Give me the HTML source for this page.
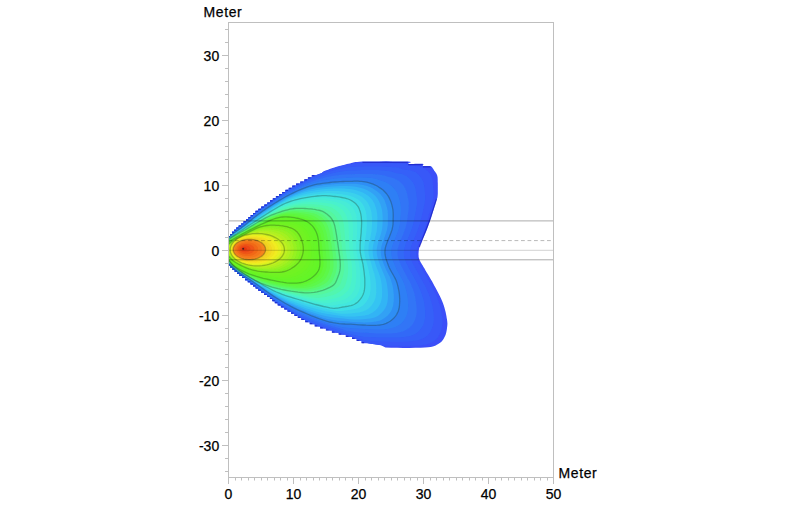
<!DOCTYPE html>
<html><head><meta charset="utf-8"><style>
html,body{margin:0;padding:0;background:#fff;width:800px;height:506px;overflow:hidden}
svg{display:block}
</style></head><body>
<svg width="800" height="506" viewBox="0 0 800 506">
<rect width="800" height="506" fill="#fff"/>
<defs><clipPath id="pc"><path d="M229.0 236.0 L229.0 236.0 L230.0 236.0 L230.0 233.9 L232.0 233.9 L232.0 231.8 L234.1 231.8 L234.1 229.7 L236.3 229.7 L236.3 227.6 L238.7 227.6 L238.7 225.5 L241.2 225.5 L241.2 223.4 L243.6 223.4 L243.6 221.3 L246.1 221.3 L246.1 219.2 L248.4 219.2 L248.4 217.1 L250.7 217.1 L250.7 215.0 L253.0 215.0 L253.0 212.9 L255.5 212.9 L255.5 210.8 L258.3 210.8 L258.3 208.7 L261.2 208.7 L261.2 206.6 L264.3 206.6 L264.3 204.5 L267.2 204.5 L267.2 202.4 L270.0 202.4 L270.0 200.3 L272.8 200.3 L272.8 198.2 L275.9 198.2 L275.9 196.1 L279.0 196.1 L279.0 194.0 L282.2 194.0 L282.2 191.9 L285.4 191.9 L285.4 189.8 L288.7 189.8 L288.7 187.7 L292.2 187.7 L292.2 185.6 L296.0 185.6 L296.0 183.5 L300.2 183.5 L300.2 181.4 L304.3 181.4 L304.3 179.3 L307.9 179.3 L307.9 177.2 L311.8 177.2 L311.8 175.1 L316.5 175.1 L321.8 173.0 L323.4 171.4 L325.0 170.8 L326.6 170.2 L328.1 169.7 L329.7 169.1 L331.2 168.6 L332.8 168.1 L334.4 167.6 L335.9 167.1 L337.5 166.6 L339.1 166.1 L340.6 165.7 L342.2 165.3 L343.8 164.9 L345.3 164.5 L346.9 164.1 L348.4 163.7 L350.0 163.4 L351.3 163.1 L352.4 162.8 L353.2 162.5 L354.2 162.3 L355.4 162.1 L357.1 161.9 L359.4 161.7 L362.5 161.6 L366.9 161.5 L372.6 161.4 L379.1 161.4 L385.9 161.3 L392.7 161.4 L398.9 161.4 L404.1 161.5 L407.8 161.6 L409.9 161.8 L410.7 162.0 L410.6 162.4 L409.9 162.7 L409.0 163.0 L408.2 163.4 L407.8 163.6 L408.2 163.8 L409.4 163.9 L411.1 163.9 L413.2 163.9 L415.3 163.8 L417.5 163.7 L419.6 163.7 L421.3 163.7 L422.5 163.8 L423.2 164.0 L423.4 164.2 L423.4 164.6 L423.2 164.9 L422.9 165.2 L422.7 165.5 L422.7 165.8 L423.0 166.0 L423.6 166.1 L424.5 166.1 L425.5 166.0 L426.6 165.9 L427.7 165.9 L428.8 165.9 L429.8 166.0 L430.6 166.2 L431.3 166.6 L431.9 167.1 L432.4 167.7 L432.9 168.4 L433.3 169.1 L433.7 169.7 L434.1 170.4 L434.5 171.0 L434.9 171.5 L435.3 172.0 L435.6 172.5 L436.0 173.0 L436.3 173.5 L436.5 173.9 L436.8 174.5 L437.0 175.0 L437.2 175.5 L437.3 175.9 L437.4 176.4 L437.5 176.8 L437.6 177.3 L437.6 178.0 L437.7 178.9 L437.7 180.0 L437.7 181.5 L437.8 183.3 L437.8 185.3 L437.8 187.5 L437.8 189.6 L437.8 191.7 L437.8 193.5 L437.7 195.0 L437.6 196.1 L437.5 196.9 L437.4 197.5 L437.3 198.0 L437.1 198.5 L436.9 199.0 L436.7 199.6 L436.4 200.5 L436.1 201.6 L435.7 202.9 L435.3 204.3 L434.8 205.8 L434.3 207.3 L433.9 208.7 L433.4 210.2 L433.0 211.5 L432.6 212.7 L432.2 213.9 L431.9 215.1 L431.5 216.2 L431.2 217.3 L430.8 218.5 L430.4 219.6 L430.0 220.8 L429.6 222.0 L429.1 223.3 L428.7 224.6 L428.2 225.9 L427.8 227.1 L427.3 228.4 L426.9 229.6 L426.4 230.8 L425.9 231.9 L425.5 233.0 L425.0 234.1 L424.6 235.1 L424.1 236.1 L423.7 237.1 L423.2 238.1 L422.8 239.1 L422.4 240.1 L422.0 241.0 L421.6 241.9 L421.2 242.8 L420.8 243.7 L420.4 244.6 L420.1 245.5 L419.8 246.3 L419.6 247.1 L419.3 247.8 L419.1 248.6 L419.0 249.3 L418.8 250.0 L418.7 250.7 L418.7 251.4 L418.6 252.2 L418.6 253.0 L418.5 253.8 L418.5 254.6 L418.6 255.5 L418.6 256.3 L418.7 257.2 L418.9 258.1 L419.2 259.0 L419.5 259.9 L419.9 260.7 L420.3 261.5 L420.8 262.4 L421.3 263.3 L422.0 264.4 L422.7 265.6 L423.5 267.0 L424.5 268.6 L425.5 270.5 L426.7 272.5 L428.0 274.6 L429.3 276.8 L430.6 279.1 L432.0 281.3 L433.2 283.6 L434.5 285.9 L435.8 288.3 L437.1 290.8 L438.4 293.3 L439.7 295.8 L440.9 298.3 L442.0 300.7 L442.9 303.0 L443.7 305.3 L444.4 307.5 L445.0 309.8 L445.6 312.0 L446.0 314.1 L446.4 316.1 L446.7 317.9 L447.0 319.6 L447.2 321.0 L447.3 322.3 L447.4 323.3 L447.4 324.3 L447.3 325.2 L447.3 326.1 L447.1 327.0 L447.0 328.0 L446.9 329.1 L446.7 330.2 L446.5 331.2 L446.3 332.3 L446.0 333.4 L445.7 334.5 L445.3 335.5 L444.8 336.5 L444.3 337.5 L443.8 338.4 L443.2 339.4 L442.6 340.3 L441.9 341.2 L441.1 342.0 L440.1 342.8 L439.0 343.5 L437.8 344.2 L436.8 344.8 L435.7 345.4 L434.4 346.0 L432.8 346.4 L430.8 346.9 L428.2 347.2 L425.0 347.5 L420.8 347.7 L415.5 347.8 L409.6 347.9 L403.3 347.9 L397.0 347.8 L390.9 347.7 L385.5 347.5 L381.0 345.3 L367.2 343.2 L361.5 343.2 L361.5 341.1 L356.6 341.1 L356.6 339.0 L352.0 339.0 L352.0 336.9 L345.8 336.9 L345.8 334.8 L338.7 334.8 L338.7 332.7 L331.9 332.7 L331.9 330.6 L325.9 330.6 L325.9 328.5 L320.1 328.5 L320.1 326.4 L314.7 326.4 L314.7 324.3 L309.7 324.3 L309.7 322.2 L305.2 322.2 L305.2 320.1 L301.3 320.1 L301.3 318.0 L297.8 318.0 L297.8 315.9 L294.4 315.9 L294.4 313.8 L291.0 313.8 L291.0 311.7 L287.5 311.7 L287.5 309.6 L284.2 309.6 L284.2 307.5 L280.9 307.5 L280.9 305.4 L277.7 305.4 L277.7 303.3 L274.8 303.3 L274.8 301.2 L272.3 301.2 L272.3 299.1 L269.9 299.1 L269.9 297.0 L267.2 297.0 L267.2 294.9 L264.1 294.9 L264.1 292.8 L261.1 292.8 L261.1 290.7 L258.2 290.7 L258.2 288.6 L255.6 288.6 L255.6 286.5 L253.0 286.5 L253.0 284.4 L250.5 284.4 L250.5 282.3 L247.8 282.3 L247.8 280.2 L245.0 280.2 L245.0 278.1 L242.1 278.1 L242.1 276.0 L239.5 276.0 L239.5 273.9 L237.0 273.9 L237.0 271.8 L234.7 271.8 L234.7 269.7 L232.4 269.7 L232.4 267.6 L230.1 267.6 L230.1 265.5 L229.0 265.5 L229.0 265.5Z"/></clipPath><filter id="bl" x="-5%" y="-5%" width="110%" height="110%"><feGaussianBlur stdDeviation="0.55"/></filter></defs>
<g filter="url(#bl)"><g clip-path="url(#pc)">
<path d="M186 248.7l0-1.2 0-1.2 0-1.2 0-1.2 0-1.2 0-1.2 0-1.2 .1-1.3 0-1.2 0-1.2 0-1.3 3.8-.3 4-.1 3.4-.1 3 0 2.7-.1 2.3-.1 2.1-.1 1.9-.1 1.7 0 1.6-.1 1.4-.1 1.4-.1 1.2 0 1.1-.1 1.1-.1 1 0 1-.1 .8-.1 .9-.1 .8 0 .7-.1 .8 0 .7-.1 .6-.1 .3-.4 .3-.3 .4-.4 .3-.3 .3-.4 .4-.3 .3-.4 .4-.3 .3-.3 .4-.4 .3-.3 .4-.4 .3-.3 .4-.4 .4-.3 .4-.4 .4-.3 .3-.4 .4-.3 .4-.4 .4-.3 .5-.4 .4-.3 .4-.4 .5-.3 .4-.4 .5-.3 .4-.4 .5-.4 .5-.3 .5-.4 .5-.4 .5-.4 .5-.3 .6-.4 .5-.4 .6-.5 .6-.4 .6-.4 .6-.5 .6-.4 .7-.5 .7-.5 .7-.6 .7-.5 .8-.6 .8-.7 .8-.6 .9-.8 .9-.7 1-.8 1-.9 1.1-.8 1.2-.9 1.2-1 1.2-.9 1.4-.9 1.3-.9 1.5-1 1.5-1 1.6-1 1.8-1.1 1.9-1.3 2.1-1.5 2.4-1.7 2.5-1.7 2.6-1.7 2.8-1.8 3.1-2 3.4-2.1 3.7-2.2 3.9-2.3 4-2.1 4.1-1.9 4.7-2.4 5.9-3.2 5.2-2.3 5.3-2 5.6-2 5.9-2 6.1-1.8 6.2-1.6 6.3-1.3 6.5-1.3 5.5-.2 5.7 0 5.9 0 6.3 0 6.6 .1 7.1 .1 7.5 .1 7.7 .4 4.6 2.2 9.1 .2 6 2 4.1 3 2.4 3.7 1.9 4.1 .3 4.5 .1 4.6 .1 4.6 -.1 4.5 -.8 4.7 -1.4 4.7 -1.4 4.6 -1.4 4.5 -1.4 4.4 -1.4 4.3 -1.4 4.3 -1.5 4.2 -1.6 4.1 -1.7 4 -1.7 3.9 -1.6 3.9 -1.2 3.8 -.5 3.8 0 3.7 .9 3.8 2 4 2.4 4.1 2.4 4.2 2.6 4.4 2.5 4.5 2.5 4.6 2.6 4.8 2.5 5 2.3 5 2 5.1 1.5 5.1 1.1 5.1 .9 5.1 .3 5 -.6 4.8 -1 4.6 -1.9 4.3 -2.8 3.9 -4.4 3 -5.9 2.1 -7.9 .8 -8.2 .3 -8 .2 -7.6 0 -7.2-.1 -7-.2 -7-.4 -7.8-1.5 -9.9-3.4 -10.5-4.5 -7.1-2.2 -6.2-1.7 -5.9-1.8 -5.7-1.9 -5.3-1.9 -5-1.8 -4.8-1.9 -4.7-2.1 -4.7-2.4 -4.7-2.7 -4.3-2.6 -3.9-2.3 -3.5-2.1 -3.3-2 -3.1-1.9 -2.8-1.8 -2.9-2.1 -2.9-2.5 -2.4-1.8 -2-1.4 -1.9-1.2 -1.7-1.1 -1.7-1.1 -1.5-1 -1.5-1 -1.4-1 -1.4-1 -1.2-.9 -1.2-1 -1.2-.8 -1.1-.8 -1-.8 -1-.7 -.9-.6 -.9-.6 -.8-.6 -.9-.6 -.8-.5 -.7-.5 -.8-.4 -.7-.5 -.7-.5 -.7-.4 -.7-.5 -.6-.4 -.6-.4 -.7-.4 -.6-.5 -.5-.4 -.6-.4 -.6-.4 -.5-.4 -.6-.5 -.5-.4 -.5-.4 -.5-.4 -.5-.4 -.5-.4 -.5-.4 -.5-.4 -.4-.3 -.5-.4 -.4-.4 -.5-.4 -.4-.4 -.4-.3 -.5-.4 -.4-.4 -.4-.4 -.4-.3 -.4-.4 -.5-.4 -.4-.3 -.4-.4 -.4-.4 -.5-.2 -.7 0 -.7-.1 -.8 0 -.7-.1 -.8-.1 -.8 0 -.9-.1 -.9-.1 -.9 0 -1-.1 -1.1 0 -1.1-.1 -1.1-.1 -1.2-.1 -1.4 0 -1.4-.1 -1.5-.1 -1.6 0 -1.7-.1 -1.9-.1 -2.1-.1 -2.3 0 -2.5-.1 -2.7-.1 -3.1-.1 -3.5-.1 -1.5-.8 -.1-1.3 0-1.2 0-1.3 0-1.3 0-1.2 0-1.2 -.1-1.3 0-1.2 0-1.2 0-1.2 0-1.2 0-1.2 0-1.2z" fill="#3a50f8"/>
<path d="M186.7 248.7l0-1.2 0-1.2 0-1.2 0-1.1 0-1.2 0-1.2 0-1.2 0-1.3 0-1.2 0-1.2 .6-1.1 3.9-.3 3.9 0 3.4-.1 3-.1 2.6 0 2.3-.1 2-.1 1.9 0 1.7-.1 1.5-.1 1.5 0 1.3-.1 1.2 0 1.1-.1 1.1-.1 .9 0 1-.1 .8 0 .9-.1 .7 0 .8-.1 .7-.1 .6-.1 .6-.1 .3-.3 .3-.4 .3-.3 .4-.3 .3-.3 .3-.4 .4-.3 .3-.3 .3-.4 .4-.3 .3-.3 .4-.3 .3-.4 .4-.3 .4-.3 .3-.3 .4-.4 .4-.3 .4-.3 .3-.4 .4-.3 .4-.3 .4-.4 .5-.3 .4-.3 .4-.4 .5-.3 .4-.3 .5-.4 .4-.3 .5-.4 .5-.3 .5-.4 .5-.4 .5-.3 .5-.4 .6-.4 .5-.4 .6-.5 .6-.4 .6-.4 .6-.5 .7-.5 .7-.5 .7-.6 .7-.5 .8-.6 .8-.7 .8-.7 .9-.7 .9-.8 1-.8 1.1-.8 1.1-.9 1.1-.9 1.3-.9 1.2-.9 1.4-.9 1.4-1 1.4-.9 1.6-1.1 1.7-1.1 1.9-1.2 2-1.5 2.3-1.5 2.3-1.7 2.6-1.6 2.7-1.8 3-1.9 3.3-2 3.5-2.1 3.8-2.3 3.9-2 3.9-1.9 4.6-2.2 5.5-3.1 5-2.2 5.1-1.9 5.4-1.9 5.6-1.8 5.7-1.7 5.9-1.4 5.9-1.2 6.2-1.1 5.3-.3 5.5-.1 5.7 0 6.1 0 6.4 0 6.8 .1 7 .2 7.1 .5 4.6 2 8.2 .5 5.5 2 3.8 2.9 2.5 3.5 1.9 3.8 .6 4.3 .3 4.3 .2 4.3 .1 4.3 -.6 4.4 -1.1 4.5 -1.2 4.4 -1.2 4.3 -1.1 4.2 -1.2 4.2 -1.3 4.1 -1.5 4 -1.5 3.9 -1.7 3.9 -1.6 3.8 -1.5 3.7 -1.1 3.7 -.5 3.6 0 3.7 .9 3.6 1.8 3.9 2.2 3.9 2.2 4.1 2.5 4.2 2.4 4.3 2.4 4.5 2.4 4.6 2.3 4.7 2.1 4.8 1.8 4.8 1.3 4.9 .9 4.8 .8 4.9 .2 4.8 -.6 4.6 -1.1 4.4 -1.9 4 -2.7 3.7 -4.3 2.9 -5.5 2.1 -7.3 .9 -7.8 .3 -7.7 .2 -7.3-.1 -7.1-.1 -6.7-.2 -6.6-.4 -7.4-1.3 -9-2.9 -9.6-3.9 -6.8-2 -6-1.8 -5.8-1.8 -5.6-1.9 -5.2-1.8 -4.9-1.9 -4.7-1.9 -4.5-2 -4.6-2.3 -4.5-2.6 -4.1-2.5 -3.8-2.2 -3.4-2 -3.2-1.9 -2.9-1.9 -2.8-1.8 -2.7-2 -2.8-2.3 -2.3-1.7 -2-1.4 -1.8-1.2 -1.7-1.1 -1.6-1 -1.5-1 -1.4-1 -1.4-1 -1.3-.9 -1.2-.9 -1.1-.9 -1.1-.8 -1.1-.8 -1-.7 -.9-.6 -.9-.7 -.9-.5 -.8-.6 -.8-.5 -.8-.5 -.7-.5 -.7-.5 -.7-.4 -.7-.5 -.7-.4 -.6-.4 -.6-.4 -.6-.4 -.6-.5 -.6-.4 -.6-.4 -.6-.4 -.5-.4 -.5-.4 -.6-.4 -.5-.4 -.5-.4 -.5-.3 -.4-.4 -.5-.4 -.5-.4 -.4-.4 -.5-.3 -.4-.4 -.5-.4 -.4-.4 -.4-.3 -.4-.4 -.4-.3 -.5-.4 -.4-.4 -.4-.3 -.4-.4 -.4-.3 -.4-.4 -.4-.3 -.3-.4 -.6-.2 -.6-.1 -.7-.1 -.7 0 -.7-.1 -.8 0 -.8-.1 -.8 0 -.9-.1 -.9 0 -1-.1 -1-.1 -1.1 0 -1.1-.1 -1.2 0 -1.3-.1 -1.4 0 -1.5-.1 -1.6-.1 -1.7 0 -1.9-.1 -2-.1 -2.2 0 -2.5-.1 -2.7-.1 -3.1 0 -3.4-.1 -1.9-.7 -.3-1.1 0-1.3 0-1.3 -.1-1.2 0-1.2 0-1.2 0-1.3 0-1.2 0-1.2 0-1.2 0-1.1 0-1.2 0-1.2z" fill="#3758f8"/>
<path d="M187.3 248.7l0-1.2 0-1.1 0-1.2 0-1.2 0-1.2 .1-1.2 0-1.1 0-1.2 0-1.2 0-1.3 1.1-.9 4-.2 3.8-.1 3.4 0 2.9-.1 2.6 0 2.2-.1 2.1 0 1.8-.1 1.7-.1 1.5 0 1.4-.1 1.3 0 1.2-.1 1.1 0 1 0 1-.1 .9 0 .8-.1 .8 0 .8-.1 .7 0 .7-.1 .5-.1 .6-.2 .3-.3 .3-.3 .3-.3 .3-.3 .4-.3 .3-.3 .3-.3 .3-.4 .4-.3 .3-.3 .3-.3 .4-.3 .3-.3 .4-.3 .3-.3 .4-.3 .3-.3 .4-.3 .4-.3 .4-.4 .3-.3 .4-.3 .4-.3 .4-.3 .4-.3 .4-.3 .5-.3 .4-.4 .4-.3 .5-.3 .4-.3 .5-.4 .4-.3 .5-.4 .5-.3 .5-.4 .6-.4 .5-.4 .5-.4 .6-.4 .6-.4 .6-.5 .6-.5 .7-.4 .6-.6 .7-.5 .8-.6 .7-.6 .8-.7 .9-.7 .9-.7 .9-.8 1-.8 1.1-.9 1.1-.8 1.2-.9 1.2-.9 1.3-.9 1.3-.9 1.5-1 1.5-1 1.7-1.1 1.8-1.3 1.9-1.3 2.2-1.5 2.2-1.6 2.5-1.6 2.6-1.6 2.9-1.9 3.1-1.9 3.4-2.1 3.6-2.1 3.8-2 3.8-1.8 4.4-2.2 5.2-2.8 4.8-2.1 5-1.9 5.1-1.8 5.3-1.7 5.3-1.4 5.5-1.3 5.6-1.1 5.8-1 5.2-.3 5.3-.1 5.5-.1 5.9 0 6.2 0 6.4 .1 6.7 .3 6.5 .5 4.5 1.9 7.2 .8 5.1 1.9 3.6 2.8 2.5 3.3 2 3.5 .8 4 .5 4.1 .4 4 .2 4.1 -.4 4.2 -.8 4.2 -1 4.2 -.9 4.1 -.9 4 -1.1 4 -1.2 3.9 -1.4 3.9 -1.5 3.8 -1.6 3.7 -1.5 3.7 -1.4 3.6 -1 3.5 -.5 3.5 .1 3.5 .8 3.5 1.7 3.7 1.9 3.8 2.1 3.9 2.2 4 2.4 4.2 2.3 4.3 2.3 4.4 2 4.5 1.9 4.6 1.5 4.6 1.2 4.6 .8 4.6 .5 4.7 .1 4.5 -.6 4.3 -1.1 4.2 -1.9 3.8 -2.7 3.5 -4 2.8 -5.2 2.1 -6.8 .9 -7.3 .5 -7.3 .1 -7.2-.1 -6.8-.2 -6.5-.2 -6.3-.4 -6.8-1.1 -8.2-2.4 -8.7-3.3 -6.5-1.9 -5.9-1.7 -5.6-1.8 -5.5-1.9 -5.1-1.9 -4.8-1.8 -4.5-1.9 -4.4-2 -4.4-2.3 -4.3-2.4 -4-2.3 -3.6-2.2 -3.3-1.9 -3.1-1.9 -2.9-1.8 -2.6-1.8 -2.6-1.8 -2.6-2.1 -2.3-1.7 -1.9-1.4 -1.8-1.1 -1.6-1.1 -1.5-1 -1.5-1 -1.4-1 -1.3-.9 -1.2-.9 -1.2-.9 -1.1-.8 -1.1-.8 -1-.7 -.9-.7 -.9-.6 -.9-.6 -.8-.6 -.8-.5 -.8-.5 -.8-.5 -.7-.4 -.7-.5 -.6-.4 -.7-.4 -.6-.5 -.7-.4 -.6-.4 -.6-.4 -.5-.4 -.6-.4 -.6-.3 -.5-.4 -.5-.4 -.5-.4 -.5-.4 -.5-.4 -.5-.3 -.5-.4 -.5-.4 -.4-.4 -.5-.3 -.4-.4 -.4-.4 -.5-.3 -.4-.4 -.4-.3 -.4-.4 -.4-.3 -.4-.4 -.4-.3 -.4-.4 -.4-.3 -.4-.4 -.4-.3 -.4-.4 -.3-.3 -.4-.3 -.5-.3 -.6-.1 -.6-.1 -.7 0 -.7-.1 -.8 0 -.8 0 -.8-.1 -.8 0 -.9-.1 -1 0 -1-.1 -1 0 -1.2-.1 -1.1 0 -1.3-.1 -1.4 0 -1.4 0 -1.6-.1 -1.7 0 -1.8-.1 -2 0 -2.2-.1 -2.4-.1 -2.7 0 -3-.1 -3.4 0 -2.2-.6 -.7-1 0-1.3 0-1.2 0-1.2 0-1.3 0-1.2 0-1.2 0-1.1 -.1-1.2 0-1.2 0-1.2 0-1.2 0-1.1z" fill="#3460f8"/>
<path d="M188 248.7l0-1.2 0-1.1 0-1.2 0-1.1 0-1.2 0-1.2 0-1.1 0-1.2 0-1.2 0-1.2 1.7-.8 4-.2 3.9 0 3.3-.1 2.9 0 2.5-.1 2.2 0 2 0 1.8-.1 1.7 0 1.5-.1 1.3 0 1.3 0 1.2-.1 1 0 1 0 1-.1 .9 0 .8 0 .8-.1 .7 0 .7 0 .7-.1 .5-.1 .5-.2 .3-.3 .3-.3 .3-.3 .3-.3 .3-.3 .3-.3 .4-.3 .3-.3 .3-.3 .3-.3 .4-.2 .3-.3 .3-.3 .4-.3 .3-.3 .3-.3 .4-.3 .3-.3 .4-.2 .4-.3 .3-.3 .4-.3 .4-.3 .4-.3 .3-.3 .4-.3 .4-.3 .5-.3 .4-.3 .4-.3 .4-.3 .5-.3 .4-.4 .5-.3 .5-.3 .4-.4 .5-.4 .5-.3 .6-.4 .5-.4 .6-.4 .5-.5 .6-.4 .6-.5 .7-.5 .7-.5 .7-.6 .7-.6 .8-.6 .8-.7 .8-.7 .9-.7 1-.8 1-.8 1.1-.8 1.1-.9 1.2-.9 1.2-.9 1.3-.9 1.4-1 1.5-1 1.6-1.1 1.7-1.2 1.9-1.3 2.1-1.4 2.1-1.5 2.4-1.5 2.5-1.6 2.7-1.7 3-1.9 3.3-2 3.5-2 3.6-2 3.7-1.8 4.2-2.1 4.9-2.5 4.6-2.1 4.8-1.8 4.9-1.7 4.9-1.5 5.1-1.3 5.1-1.1 5.2-1 5.4-.9 5.1-.3 5.1-.2 5.4-.1 5.6 0 5.9 0 6.2 0 6.2 .4 6 .7 4.3 1.7 6.4 1 4.6 2 3.4 2.6 2.6 3 2 3.3 1 3.7 .7 3.8 .5 3.8 .4 3.9 -.1 3.9 -.6 4 -.7 4 -.8 3.9 -.7 3.8 -.8 3.8 -1.1 3.8 -1.3 3.7 -1.5 3.6 -1.5 3.6 -1.5 3.6 -1.3 3.4 -.9 3.4 -.4 3.4 .1 3.3 .7 3.5 1.5 3.5 1.7 3.6 1.9 3.7 2.1 3.9 2.3 4 2.2 4.1 2.1 4.2 1.9 4.3 1.6 4.4 1.3 4.4 1 4.3 .6 4.4 .4 4.4 0 4.3 -.7 4.1 -1.1 3.9 -2 3.7 -2.6 3.2 -3.7 2.7 -4.8 2 -6.3 1.1 -6.9 .5 -7 0 -6.9-.1 -6.7-.2 -6.2-.3 -6-.3 -6.3-.9 -7.3-1.9 -7.8-2.7 -6.1-1.7 -5.8-1.7 -5.5-1.9 -5.4-1.9 -5-1.8 -4.7-1.9 -4.4-1.9 -4.3-1.9 -4.2-2.2 -4.1-2.3 -3.8-2.2 -3.5-2 -3.2-2 -2.9-1.8 -2.8-1.7 -2.6-1.7 -2.5-1.8 -2.4-1.9 -2.1-1.6 -1.9-1.3 -1.7-1.2 -1.6-1.1 -1.5-1 -1.4-.9 -1.4-1 -1.2-.9 -1.2-.8 -1.2-.8 -1-.8 -1-.7 -1-.7 -.9-.7 -.9-.6 -.8-.5 -.8-.6 -.8-.5 -.7-.5 -.7-.4 -.7-.5 -.7-.4 -.7-.4 -.6-.4 -.6-.4 -.6-.4 -.6-.4 -.6-.4 -.5-.4 -.6-.3 -.5-.4 -.5-.4 -.5-.4 -.5-.3 -.5-.4 -.5-.4 -.5-.3 -.4-.4 -.5-.3 -.4-.4 -.5-.4 -.4-.3 -.4-.4 -.4-.3 -.4-.3 -.4-.4 -.4-.3 -.4-.4 -.4-.3 -.4-.3 -.4-.4 -.3-.3 -.4-.4 -.4-.3 -.4-.3 -.3-.3 -.4-.4 -.4-.2 -.5-.2 -.6-.1 -.7 0 -.7-.1 -.8 0 -.7 0 -.8 0 -.9-.1 -.8 0 -1 0 -.9-.1 -1.1 0 -1.1 0 -1.1-.1 -1.3 0 -1.3-.1 -1.4 0 -1.6 0 -1.6-.1 -1.8 0 -2 0 -2.2-.1 -2.3 0 -2.7-.1 -3 0 -3.3 0 -2.6-.4 -.9-1 0-1.2 0-1.3 -.1-1.2 0-1.2 0-1.2 0-1.2 0-1.1 0-1.2 0-1.2 0-1.1 0-1.2 0-1.1z" fill="#3269f7"/>
<path d="M188.7 248.7l0-1.1 0-1.2 0-1.1 0-1.2 0-1.1 0-1.2 0-1.2 0-1.1 0-1.2 0-1.2 2.2-.7 4.1-.1 3.8 0 3.3 0 2.8 0 2.5-.1 2.2 0 2 0 1.7-.1 1.7 0 1.4 0 1.4 0 1.2-.1 1.1 0 1.1 0 1 0 .9 0 .9-.1 .8 0 .8 0 .7 0 .7-.1 .6 0 .4-.2 .4-.2 .4-.3 .3-.2 .3-.3 .3-.3 .3-.3 .3-.3 .3-.2 .3-.3 .3-.3 .3-.2 .4-.3 .3-.3 .3-.3 .3-.2 .4-.3 .3-.3 .3-.2 .4-.3 .3-.3 .4-.2 .3-.3 .4-.3 .3-.2 .4-.3 .4-.3 .4-.3 .3-.2 .4-.3 .4-.3 .4-.3 .4-.3 .5-.3 .4-.3 .4-.3 .5-.3 .4-.4 .5-.3 .5-.4 .5-.3 .5-.4 .5-.4 .6-.4 .5-.5 .6-.4 .6-.5 .7-.5 .6-.6 .7-.5 .8-.6 .7-.7 .9-.6 .8-.7 .9-.8 1-.8 1-.8 1.1-.8 1.1-.9 1.2-.9 1.3-.9 1.4-1 1.4-1 1.5-1 1.7-1.2 1.8-1.3 1.9-1.3 2.1-1.4 2.3-1.5 2.4-1.5 2.6-1.6 2.9-1.8 3.1-1.9 3.3-2 3.5-1.9 3.7-1.8 3.9-1.9 4.6-2.3 4.4-2 4.6-1.8 4.7-1.6 4.6-1.4 4.7-1.1 4.8-1 4.8-.8 5.1-.7 4.8-.4 5-.2 5.2-.2 5.4-.1 5.7 0 5.9 .1 5.7 .4 5.5 .8 4.2 1.6 5.4 1.2 4.1 2 3.3 2.4 2.6 2.9 2 3.1 1.2 3.4 .9 3.5 .8 3.6 .5 3.6 .1 3.7 -.3 3.7 -.5 3.7 -.5 3.7 -.5 3.7 -.7 3.6 -1 3.6 -1.2 3.6 -1.4 3.5 -1.5 3.5 -1.4 3.3 -1.2 3.3 -.8 3.3 -.4 3.2 .1 3.3 .7 3.3 1.3 3.3 1.6 3.5 1.6 3.6 2 3.7 2.1 3.8 2.2 4 2 4 1.6 4.1 1.4 4.1 1.1 4.1 .7 4.2 .5 4.1 .3 4.1 -.1 4.1 -.7 3.9 -1.3 3.7 -1.9 3.4 -2.6 3.1 -3.5 2.5 -4.4 2 -5.7 1.2 -6.5 .5 -6.7 0 -6.7-.1 -6.4-.3 -6-.3 -5.7-.3 -5.8-.7 -6.4-1.4 -6.8-2.1 -5.9-1.6 -5.6-1.7 -5.5-1.8 -5.2-1.9 -4.9-1.9 -4.5-1.9 -4.4-1.8 -4.1-1.9 -4.1-2.1 -3.9-2.2 -3.6-2.1 -3.4-1.9 -3-1.9 -2.9-1.8 -2.6-1.6 -2.5-1.7 -2.4-1.7 -2.3-1.7 -2-1.5 -1.9-1.3 -1.6-1.1 -1.6-1.1 -1.4-1 -1.4-1 -1.3-.9 -1.2-.8 -1.1-.8 -1.1-.8 -1-.7 -1-.7 -.9-.7 -.9-.6 -.8-.5 -.8-.6 -.8-.5 -.7-.5 -.8-.4 -.6-.5 -.7-.4 -.7-.4 -.6-.4 -.6-.4 -.6-.4 -.6-.4 -.5-.4 -.6-.3 -.5-.4 -.6-.3 -.5-.4 -.5-.4 -.5-.3 -.4-.4 -.5-.3 -.5-.4 -.4-.3 -.5-.4 -.4-.3 -.4-.3 -.4-.4 -.5-.3 -.4-.4 -.4-.3 -.4-.3 -.3-.4 -.4-.3 -.4-.3 -.4-.3 -.3-.4 -.4-.3 -.4-.3 -.3-.3 -.4-.4 -.4-.3 -.3-.3 -.4-.3 -.4-.3 -.4-.2 -.6-.1 -.6 0 -.7 0 -.7-.1 -.8 0 -.8 0 -.8 0 -.8 0 -1-.1 -.9 0 -1 0 -1.1 0 -1.1-.1 -1.2 0 -1.4 0 -1.4 0 -1.5 0 -1.6-.1 -1.8 0 -1.9 0 -2.1 0 -2.4-.1 -2.6 0 -2.9 0 -3.3-.1 -2.9-.2 -1.3-.9 0-1.2 0-1.2 0-1.2 0-1.2 0-1.2 0-1.1 0-1.2 0-1.2 0-1.1 0-1.2 0-1.1 0-1.2z" fill="#3074f6"/>
<path d="M189.3 248.7l0-1.1 0-1.2 0-1.1 0-1.1 0-1.2 0-1.1 0-1.2 0-1.1 0-1.2 0-1.1 2.8-.6 4.2 0 3.8 0 3.2-.1 2.7 0 2.5 0 2.2 0 1.9 0 1.8 0 1.5 0 1.5-.1 1.3 0 1.2 0 1.1 0 1.1 0 .9 0 .9 0 .9 0 .8 0 .7-.1 .7 0 .7 0 .6 0 .4-.2 .3-.3 .3-.2 .3-.3 .3-.2 .3-.3 .3-.3 .3-.2 .3-.3 .4-.2 .3-.3 .3-.2 .3-.3 .3-.2 .3-.3 .3-.2 .3-.3 .4-.2 .3-.3 .3-.2 .3-.3 .4-.2 .3-.3 .4-.2 .3-.3 .4-.2 .3-.3 .4-.2 .3-.3 .4-.2 .4-.3 .4-.3 .4-.3 .4-.2 .4-.3 .4-.3 .4-.3 .4-.4 .5-.3 .4-.3 .5-.4 .5-.3 .5-.4 .5-.4 .6-.4 .5-.5 .6-.4 .6-.5 .6-.5 .7-.6 .7-.5 .7-.6 .8-.7 .8-.7 .9-.7 .9-.7 1-.8 1-.8 1.1-.9 1.1-.9 1.3-.9 1.3-1 1.4-1 1.5-1 1.6-1.1 1.7-1.2 1.8-1.3 2-1.3 2.2-1.4 2.3-1.5 2.5-1.5 2.7-1.7 3-1.8 3.2-1.9 3.4-1.8 3.5-1.8 3.7-1.9 4.3-2.1 4.2-1.8 4.4-1.8 4.5-1.5 4.3-1.2 4.4-1 4.3-.8 4.5-.7 4.7-.6 4.7-.4 4.8-.3 5-.2 5.2-.1 5.4 0 5.6 .1 5.3 .4 5 .9 4.1 1.5 4.5 1.4 3.6 2 3.1 2.3 2.6 2.7 2.1 2.8 1.4 3.1 1.1 3.3 .9 3.3 .7 3.4 .3 3.4 0 3.5 -.3 3.5 -.3 3.5 -.2 3.5 -.6 3.4 -.8 3.5 -1.2 3.4 -1.4 3.4 -1.4 3.3 -1.2 3.2 -1.2 3.2 -.8 3.1 -.3 3.1 .2 3.1 .6 3.2 1.1 3.2 1.4 3.3 1.4 3.4 1.8 3.5 2.1 3.7 2.1 3.8 1.8 3.8 1.4 3.9 1.1 3.9 .9 3.9 .6 3.9 .3 3.9 .1 3.8 -.2 3.9 -.7 3.6 -1.3 3.5 -1.9 3.2 -2.5 2.9 -3.3 2.4 -4.1 2 -5.2 1.2 -5.9 .6 -6.5 0 -6.4-.2 -6.2-.3 -5.8-.4 -5.4-.2 -5.2-.5 -5.7-.9 -5.8-1.5 -5.6-1.4 -5.5-1.7 -5.3-1.8 -5.1-1.9 -4.7-1.9 -4.5-1.9 -4.3-1.9 -4-1.8 -3.8-2 -3.7-2 -3.5-2 -3.2-1.9 -3-1.8 -2.7-1.7 -2.6-1.7 -2.4-1.6 -2.3-1.5 -2.1-1.6 -1.9-1.4 -1.8-1.3 -1.6-1.1 -1.5-1.1 -1.4-1 -1.3-.9 -1.3-.9 -1.1-.8 -1.1-.7 -1-.8 -1-.7 -.9-.6 -.9-.6 -.9-.6 -.8-.5 -.7-.5 -.8-.5 -.7-.5 -.7-.4 -.6-.4 -.7-.4 -.6-.4 -.6-.4 -.6-.4 -.6-.4 -.5-.3 -.6-.4 -.5-.3 -.5-.4 -.5-.3 -.5-.4 -.5-.3 -.5-.4 -.4-.3 -.5-.3 -.4-.4 -.5-.3 -.4-.3 -.4-.4 -.4-.3 -.4-.3 -.4-.3 -.4-.4 -.4-.3 -.4-.3 -.4-.3 -.3-.3 -.4-.4 -.4-.3 -.3-.3 -.4-.3 -.3-.3 -.4-.3 -.3-.3 -.3-.3 -.4-.4 -.3-.3 -.4-.2 -.4-.3 -.5-.1 -.7 0 -.6 0 -.7 0 -.8 0 -.7 0 -.8-.1 -.9 0 -.8 0 -1 0 -1 0 -1 0 -1.1 0 -1.2 0 -1.3 0 -1.4-.1 -1.5 0 -1.6 0 -1.7 0 -1.9 0 -2.1 0 -2.3 0 -2.6-.1 -2.9 0 -3.2 0 -3.3-.1 -1.5-.8 0-1.2 0-1.2 -.1-1.2 0-1.1 0-1.2 0-1.1 0-1.2 0-1.1 0-1.2 0-1.1 0-1.1 0-1.2z" fill="#2f7ff5"/>
<path d="M190 248.7l0-1.1 0-1.1 0-1.1 0-1.2 0-1.1 0-1.1 0-1.2 0-1.1 0-1.1 0-1.2 3.3-.4 4.3 0 3.7 0 3.1 0 2.8 0 2.4 0 2.1 0 1.9 0 1.8 0 1.5 0 1.4 0 1.3 0 1.2 0 1.1 0 1 0 1 0 .9 0 .8 0 .8 0 .7 0 .7 0 .6 0 .6 0 .3-.3 .3-.2 .3-.3 .3-.2 .3-.3 .3-.2 .3-.2 .3-.3 .3-.2 .3-.2 .3-.3 .3-.2 .3-.2 .3-.3 .3-.2 .3-.2 .3-.3 .3-.2 .3-.2 .3-.2 .4-.3 .3-.2 .3-.2 .3-.3 .4-.2 .3-.2 .3-.2 .4-.3 .3-.2 .4-.3 .3-.2 .4-.3 .4-.2 .4-.3 .3-.3 .4-.3 .4-.2 .4-.3 .5-.3 .4-.4 .4-.3 .5-.3 .5-.4 .5-.4 .5-.4 .5-.4 .5-.4 .6-.5 .6-.5 .6-.5 .7-.6 .7-.5 .7-.6 .8-.7 .8-.7 .9-.7 .9-.7 1-.8 1.1-.9 1.1-.9 1.2-.9 1.2-.9 1.4-1 1.4-1.1 1.5-1 1.7-1.2 1.7-1.2 1.9-1.2 2.1-1.4 2.2-1.4 2.4-1.4 2.6-1.7 2.8-1.7 3.1-1.8 3.2-1.7 3.4-1.8 3.6-1.7 3.9-1.9 4-1.8 4.3-1.7 4.2-1.4 4-1 4-.9 4-.6 4.1-.5 4.4-.6 4.5-.4 4.6-.3 4.8-.2 5-.2 5.2-.1 5.3 .1 4.9 .6 4.4 1 4 1.3 3.5 1.7 3.2 1.9 2.9 2.2 2.6 2.4 2.1 2.6 1.7 2.9 1.3 2.9 1.1 3.1 .8 3.1 .5 3.3 .3 3.2 0 3.3 -.1 3.3 -.1 3.3 -.3 3.2 -.8 3.3 -1.1 3.3 -1.3 3.2 -1.3 3.2 -1.2 3.1 -1.1 3 -.7 3 -.3 3 .2 2.9 .6 3.1 .9 3 1.2 3.2 1.2 3.2 1.7 3.4 2 3.5 2 3.6 1.7 3.7 1.1 3.6 .9 3.7 .7 3.6 .4 3.7 .2 3.6 -.1 3.7 -.3 3.5 -.8 3.5 -1.3 3.2 -1.9 3 -2.5 2.7 -3.1 2.3 -3.7 2 -4.6 1.3 -5.5 .6 -6.2 0 -6.2-.3 -6-.3 -5.5-.4 -5.1-.2 -4.7-.3 -4.8-.4 -4.9-.8 -5.3-1.4 -5.3-1.6 -5.2-1.9 -5-1.9 -4.6-1.9 -4.4-1.9 -4.1-1.8 -3.9-1.9 -3.7-1.8 -3.5-1.9 -3.3-1.9 -3.1-1.8 -2.8-1.8 -2.7-1.6 -2.4-1.6 -2.3-1.5 -2.2-1.5 -2-1.4 -1.8-1.3 -1.7-1.2 -1.6-1.2 -1.4-1 -1.4-1 -1.3-.9 -1.1-.8 -1.2-.8 -1-.8 -1-.6 -.9-.7 -.9-.6 -.8-.5 -.8-.6 -.8-.5 -.8-.5 -.7-.4 -.6-.5 -.7-.4 -.6-.4 -.7-.4 -.6-.4 -.5-.3 -.6-.4 -.5-.3 -.6-.4 -.5-.3 -.5-.4 -.5-.3 -.5-.3 -.5-.4 -.4-.3 -.5-.3 -.4-.3 -.5-.3 -.4-.4 -.4-.3 -.4-.3 -.4-.3 -.4-.3 -.4-.3 -.4-.4 -.4-.3 -.4-.3 -.3-.3 -.4-.3 -.3-.3 -.4-.3 -.3-.3 -.4-.3 -.3-.3 -.4-.3 -.3-.3 -.3-.3 -.3-.3 -.4-.3 -.3-.3 -.3-.3 -.4-.3 -.5-.1 -.6 0 -.6 0 -.7 0 -.7 0 -.8 0 -.7 0 -.9 0 -.8 0 -.9 0 -1 0 -1 0 -1.1 0 -1.2 0 -1.2 0 -1.4 0 -1.4 0 -1.6 0 -1.7 0 -1.9 0 -2.1 0 -2.2 0 -2.6 0 -2.8 0 -3.2 0 -3.6 0 -1.9-.6 0-1.2 0-1.2 0-1.2 0-1.2 0-1.1 0-1.1 0-1.2 0-1.1 0-1.1 0-1.2 0-1.1 0-1.1z" fill="#2f8ef5"/>
<path d="M190 248.7l0-1.1 0-1.1 0-1.1 0-1.2 0-1.1 0-1.1 0-1.2 0-1.1 0-1.1 .9-1 3.5-.4 4.2 0 3.6 0 3.1 0 2.7 0 2.3 0 2.1 0 1.9 0 1.7 0 1.5 0 1.4 0 1.2 0 1.2 0 1.1 0 1 0 .9 0 .9 0 .8 0 .7 0 .7 0 .7 0 .6 0 .5-.1 .3-.2 .3-.3 .3-.2 .3-.2 .3-.3 .3-.2 .3-.2 .3-.3 .3-.2 .3-.2 .3-.2 .3-.3 .3-.2 .3-.2 .3-.2 .3-.3 .3-.2 .3-.2 .3-.2 .3-.2 .3-.3 .3-.2 .3-.2 .4-.2 .3-.3 .3-.2 .3-.2 .4-.2 .3-.3 .4-.2 .3-.3 .4-.2 .3-.3 .4-.2 .4-.3 .4-.3 .4-.2 .4-.3 .4-.3 .4-.3 .5-.4 .4-.3 .5-.3 .4-.4 .5-.4 .6-.4 .5-.4 .5-.4 .6-.5 .6-.5 .7-.5 .7-.5 .7-.6 .7-.6 .8-.6 .8-.7 .9-.7 1-.8 1-.8 1-.8 1.2-.8 1.2-.9 1.3-1 1.3-.9 1.5-1.1 1.6-1.1 1.7-1.1 1.8-1.2 2-1.3 2.1-1.3 2.3-1.5 2.5-1.5 2.7-1.7 3-1.7 3.1-1.8 3.3-1.7 3.5-1.7 3.8-1.7 3.9-1.8 4-1.5 4-1.4 3.9-1 3.8-.8 3.9-.6 4-.6 4.3-.5 4.3-.4 4.5-.4 4.6-.2 4.8-.1 4.9 0 5.1 .1 4.6 .6 4.3 .9 4 1.2 3.5 1.6 3.2 1.8 2.8 2.1 2.5 2.3 2.1 2.6 1.6 2.7 1.2 2.9 1 3 .8 3 .5 3.1 .2 3.2 0 3.1 -.1 3.2 0 3.2 -.4 3.1 -.6 3.2 -1 3.1 -1.1 3.1 -1.2 3.1 -1 3 -.9 2.9 -.6 2.9 -.2 2.9 .2 2.9 .6 2.9 .9 3 1 3 1.2 3.2 1.4 3.2 1.8 3.4 1.7 3.4 1.4 3.5 1 3.5 .8 3.5 .6 3.5 .3 3.5 .1 3.5 -.1 3.5 -.4 3.4 -.8 3.3 -1.3 3.1 -1.9 2.8 -2.4 2.6 -3 2.2 -3.6 1.9 -4.5 1.2 -5.3 .6 -5.7 .2 -5.7-.2 -5.7-.3 -5.5-.4 -5.1-.4 -4.8-.4 -4.8-.6 -4.8-.9 -5-1.3 -5.1-1.6 -4.9-1.7 -4.7-1.7 -4.4-1.8 -4.1-1.7 -3.8-1.7 -3.7-1.6 -3.5-1.8 -3.3-1.7 -3.1-1.7 -2.9-1.7 -2.7-1.6 -2.5-1.6 -2.4-1.4 -2.2-1.5 -2.1-1.4 -1.9-1.3 -1.7-1.2 -1.7-1.1 -1.5-1.1 -1.4-1 -1.3-.9 -1.2-.9 -1.2-.8 -1.1-.7 -1-.7 -.9-.7 -1-.6 -.8-.5 -.8-.6 -.8-.5 -.8-.5 -.7-.5 -.7-.4 -.7-.4 -.6-.4 -.7-.4 -.6-.4 -.6-.4 -.5-.4 -.6-.3 -.5-.4 -.6-.3 -.5-.3 -.5-.4 -.5-.3 -.5-.3 -.4-.3 -.5-.4 -.4-.3 -.5-.3 -.4-.3 -.4-.3 -.5-.3 -.4-.3 -.4-.3 -.4-.4 -.4-.3 -.3-.3 -.4-.3 -.4-.3 -.3-.3 -.4-.3 -.3-.3 -.4-.3 -.3-.3 -.4-.3 -.3-.3 -.4-.3 -.3-.3 -.3-.3 -.3-.2 -.4-.3 -.3-.3 -.3-.3 -.4-.3 -.4-.1 -.6-.1 -.6 0 -.7 0 -.7 0 -.7 0 -.8 0 -.8 0 -.9 0 -.9 0 -.9 0 -1 0 -1.1 0 -1.2 0 -1.2 0 -1.3 0 -1.5 0 -1.5 0 -1.7 0 -1.9 0 -2 0 -2.2 0 -2.5 0 -2.8 0 -3.2 0 -3.6 0 -2.2-.5 -.3-1.1 0-1.2 0-1.2 0-1.2 0-1.1 0-1.1 0-1.2 0-1.1 0-1.1 0-1.2 0-1.1 0-1.1z" fill="#31a1f5"/>
<path d="M190 248.7l0-1.1 0-1.1 0-1.1 0-1.2 0-1.1 0-1.1 0-1.2 0-1.1 0-1.1 1.7-.8 3.7-.3 4.2 0 3.5 0 3 0 2.6 0 2.3 0 2.1 0 1.8 0 1.7 0 1.4 0 1.4 0 1.2 0 1.2 0 1 0 1 0 .9 0 .9 0 .7 0 .8 0 .7 0 .5-.1 .6-.1 .5 0 .3-.3 .3-.2 .3-.2 .3-.3 .3-.2 .3-.2 .3-.2 .3-.2 .3-.3 .3-.2 .2-.2 .3-.2 .3-.2 .3-.3 .3-.2 .3-.2 .3-.2 .3-.2 .3-.2 .3-.2 .3-.3 .4-.2 .3-.2 .3-.2 .3-.2 .3-.2 .4-.3 .3-.2 .3-.2 .4-.3 .3-.2 .4-.2 .3-.3 .4-.2 .4-.3 .3-.3 .4-.2 .4-.3 .4-.3 .4-.3 .5-.3 .4-.3 .5-.4 .4-.3 .5-.4 .5-.3 .5-.4 .6-.5 .5-.4 .6-.5 .7-.4 .6-.5 .7-.6 .7-.5 .8-.6 .8-.6 .8-.7 .9-.7 1-.7 1-.8 1.1-.8 1.2-.8 1.2-.9 1.3-.9 1.4-1 1.5-1 1.6-1.1 1.8-1.2 1.9-1.2 2-1.3 2.2-1.4 2.4-1.5 2.7-1.6 2.8-1.7 3.1-1.7 3.2-1.7 3.4-1.6 3.5-1.7 3.8-1.6 3.8-1.5 3.8-1.2 3.7-1 3.8-.8 3.7-.6 3.9-.6 4.1-.5 4.3-.4 4.3-.4 4.5-.2 4.5-.1 4.7 0 4.7 .2 4.5 .5 4.2 .9 3.9 1.1 3.5 1.5 3.1 1.8 2.8 2 2.4 2.2 2 2.4 1.5 2.7 1.2 2.7 .9 2.9 .8 3 .4 3 .2 3 .1 3.1 -.1 3 -.1 3 -.3 3.1 -.6 3 -.8 3 -.9 3 -1 3 -.9 2.8 -.7 2.9 -.5 2.8 -.1 2.8 .2 2.8 .6 2.8 .8 2.9 1 3 1 3 1.3 3.1 1.4 3.2 1.5 3.4 1.2 3.3 .9 3.3 .6 3.4 .4 3.3 .3 3.4 .1 3.3 -.2 3.4 -.4 3.2 -.9 3.1 -1.4 3 -1.8 2.7 -2.4 2.4 -2.8 2.2 -3.5 1.7 -4.4 1.1 -5 .6 -5.3 .3 -5.3 0 -5.4-.2 -5.4-.6 -5.1-.5 -4.9-.6 -4.7-.7 -4.8-1 -4.8-1.3 -4.8-1.4 -4.6-1.6 -4.4-1.6 -4.1-1.6 -3.8-1.5 -3.6-1.5 -3.5-1.5 -3.2-1.6 -3.1-1.6 -3-1.6 -2.7-1.5 -2.6-1.5 -2.4-1.4 -2.2-1.4 -2.2-1.3 -1.9-1.3 -1.8-1.2 -1.7-1.2 -1.6-1 -1.5-1 -1.3-1 -1.3-.8 -1.2-.8 -1.1-.8 -1.1-.7 -1-.7 -.9-.6 -.9-.6 -.8-.5 -.9-.5 -.7-.5 -.8-.5 -.7-.4 -.7-.5 -.6-.4 -.7-.4 -.6-.4 -.6-.4 -.6-.3 -.5-.4 -.6-.3 -.5-.4 -.6-.3 -.5-.4 -.5-.3 -.5-.3 -.4-.3 -.5-.3 -.5-.3 -.4-.3 -.4-.4 -.5-.3 -.4-.3 -.4-.3 -.4-.3 -.4-.3 -.4-.3 -.4-.3 -.3-.3 -.4-.3 -.4-.3 -.3-.3 -.4-.3 -.4-.3 -.3-.2 -.3-.3 -.4-.3 -.3-.3 -.4-.3 -.3-.3 -.3-.3 -.3-.3 -.4-.3 -.3-.2 -.3-.3 -.4-.3 -.4-.2 -.5-.1 -.6 0 -.7 0 -.7 0 -.7 0 -.8 0 -.8 0 -.8 0 -.9 0 -.9 0 -1 0 -1.1 0 -1.1 0 -1.3 0 -1.3 0 -1.4 0 -1.5 0 -1.7 0 -1.8 0 -2 0 -2.2 0 -2.5 0 -2.8 0 -3.1 0 -3.5 0 -2.5-.4 -.7-1 0-1.2 0-1.2 0-1.2 0-1.1 0-1.1 0-1.2 0-1.1 0-1.1 0-1.2 0-1.1 0-1.1z" fill="#33b4f5"/>
<path d="M190 248.7l0-1.1 0-1.1 0-1.1 0-1.2 0-1.1 0-1.1 0-1.2 0-1.1 0-1.1 2.6-.7 3.9-.1 4.1 0 3.4 0 2.9 0 2.6 0 2.3 0 2 0 1.7 0 1.7 0 1.4 0 1.3 0 1.2 0 1.2 0 1 0 .9 0 .9 0 .8 0 .8 0 .7 0 .7-.1 .5-.1 .5-.1 .4-.1 .4-.2 .3-.2 .3-.3 .3-.2 .3-.2 .3-.2 .3-.2 .2-.2 .3-.2 .3-.3 .3-.2 .3-.2 .3-.2 .3-.2 .3-.2 .3-.2 .3-.2 .3-.2 .3-.2 .3-.2 .3-.2 .3-.3 .3-.2 .3-.2 .3-.2 .3-.2 .4-.2 .3-.2 .3-.3 .4-.2 .3-.2 .3-.3 .4-.2 .3-.2 .4-.3 .4-.3 .4-.2 .3-.3 .4-.3 .5-.3 .4-.3 .4-.3 .4-.3 .5-.3 .5-.4 .5-.3 .5-.4 .5-.4 .6-.4 .5-.4 .6-.5 .7-.4 .6-.5 .7-.6 .7-.5 .8-.6 .8-.6 .9-.6 .9-.7 1-.7 1-.8 1.1-.7 1.2-.9 1.2-.8 1.4-.9 1.4-1 1.6-1 1.7-1.1 1.8-1.2 1.9-1.3 2.1-1.3 2.4-1.5 2.5-1.5 2.8-1.6 2.9-1.7 3.1-1.7 3.3-1.6 3.4-1.6 3.6-1.5 3.6-1.3 3.6-1.2 3.6-.9 3.6-.8 3.7-.6 3.7-.6 4-.5 4.1-.5 4.2-.3 4.3-.2 4.3-.1 4.4 .1 4.5 .2 4.3 .5 4.1 .8 3.8 1.1 3.5 1.3 3.1 1.7 2.7 1.9 2.3 2.1 1.9 2.4 1.5 2.5 1.1 2.7 .9 2.8 .6 2.8 .5 2.9 .2 2.9 0 3 -.1 2.9 -.1 2.9 -.3 2.9 -.4 3 -.7 2.9 -.8 2.8 -.7 2.9 -.7 2.7 -.6 2.8 -.4 2.7 0 2.7 .2 2.7 .5 2.8 .8 2.8 .9 2.9 .9 2.9 1.1 3 1.2 3 1.2 3.2 1 3.2 .7 3.1 .5 3.2 .3 3.2 .2 3.2 0 3.2 -.2 3.2 -.5 3.1 -.9 2.9 -1.4 2.8 -1.8 2.6 -2.3 2.3 -2.8 2.1 -3.4 1.6 -4.2 1.1 -4.7 .6 -4.9 .3 -4.8 .2 -5.1-.2 -5.3-.6 -5.2-.7 -4.9-.8 -4.8-.8 -4.7-1.1 -4.6-1.2 -4.5-1.4 -4.4-1.4 -4-1.4 -3.8-1.4 -3.6-1.4 -3.4-1.4 -3.2-1.3 -3-1.4 -2.9-1.5 -2.8-1.4 -2.6-1.4 -2.4-1.4 -2.3-1.3 -2.1-1.2 -2-1.3 -1.9-1.2 -1.7-1.1 -1.6-1 -1.6-1 -1.4-1 -1.3-.8 -1.2-.8 -1.2-.8 -1-.7 -1.1-.7 -.9-.6 -1-.6 -.8-.5 -.9-.6 -.8-.5 -.7-.4 -.7-.5 -.8-.4 -.6-.5 -.7-.4 -.6-.4 -.6-.3 -.6-.4 -.6-.4 -.6-.3 -.5-.4 -.5-.3 -.5-.3 -.6-.4 -.4-.3 -.5-.3 -.5-.3 -.5-.3 -.4-.3 -.4-.3 -.5-.3 -.4-.3 -.4-.3 -.4-.3 -.4-.3 -.4-.3 -.4-.3 -.4-.3 -.4-.3 -.3-.3 -.4-.3 -.4-.3 -.3-.2 -.4-.3 -.3-.3 -.3-.3 -.4-.3 -.3-.3 -.4-.3 -.3-.2 -.3-.3 -.3-.3 -.4-.3 -.3-.3 -.3-.3 -.3-.2 -.5-.2 -.4-.2 -.6 0 -.7 0 -.6 0 -.8 0 -.7 0 -.8 0 -.8 0 -.9 0 -.9 0 -1 0 -1.1 0 -1.1 0 -1.2 0 -1.3 0 -1.4 0 -1.5 0 -1.7 0 -1.8 0 -1.9 0 -2.2 0 -2.5 0 -2.7 0 -3.1 0 -3.5 0 -2.8-.3 -1-.9 0-1.2 0-1.2 0-1.2 0-1.1 0-1.1 0-1.2 0-1.1 0-1.1 0-1.2 0-1.1 0-1.1z" fill="#36c4f2"/>
<path d="M190 248.7l0-1.1 0-1.1 0-1.1 0-1.2 0-1.1 0-1.1 0-1.2 0-1.1 0-1.1 3.5-.5 4.1-.1 3.9 0 3.4 0 2.9 0 2.5 0 2.2 0 1.9 0 1.8 0 1.5 0 1.5 0 1.3 0 1.1 0 1.1 0 1 0 1 0 .8 0 .8 0 .8 0 .7 0 .6 0 .5-.2 .4-.1 .4-.2 .3-.2 .3-.2 .3-.2 .3-.2 .3-.2 .3-.2 .3-.2 .3-.2 .3-.2 .3-.2 .3-.2 .3-.2 .3-.2 .3-.2 .3-.2 .3-.2 .3-.2 .2-.2 .3-.2 .3-.2 .3-.2 .3-.2 .3-.2 .3-.2 .4-.3 .3-.2 .3-.2 .3-.2 .3-.2 .3-.2 .4-.3 .3-.2 .4-.2 .3-.3 .4-.2 .3-.3 .4-.2 .4-.3 .4-.2 .4-.3 .4-.3 .4-.3 .4-.3 .5-.3 .4-.4 .5-.3 .5-.3 .5-.4 .6-.4 .5-.4 .6-.4 .6-.5 .6-.4 .7-.5 .7-.5 .8-.5 .7-.6 .9-.6 .8-.6 1-.6 .9-.7 1.1-.7 1.1-.8 1.2-.8 1.3-.9 1.3-.9 1.5-1 1.6-1 1.8-1.1 1.8-1.2 2.1-1.3 2.2-1.4 2.5-1.5 2.6-1.6 2.9-1.6 3-1.7 3.1-1.5 3.3-1.6 3.4-1.4 3.4-1.2 3.4-1 3.4-.9 3.5-.8 3.6-.6 3.6-.6 3.9-.5 3.9-.5 4.1-.4 4.2-.2 4.1 0 4.1 .2 4.1 .3 4.1 .4 4 .7 3.8 1 3.5 1.2 3 1.6 2.6 1.8 2.3 2.1 1.8 2.2 1.4 2.5 1.1 2.6 .8 2.6 .6 2.8 .4 2.8 .2 2.8 0 2.8 -.1 2.8 -.1 2.8 -.2 2.8 -.4 2.8 -.5 2.8 -.6 2.7 -.6 2.7 -.5 2.7 -.4 2.7 -.2 2.6 -.1 2.6 .3 2.7 .5 2.6 .7 2.7 .9 2.8 .8 2.8 .8 2.9 .9 2.9 1 3 .7 3 .6 3 .4 3.1 .2 3 .1 3.1 0 3 -.3 3.1 -.6 2.9 -.9 2.8 -1.4 2.6 -1.8 2.4 -2.2 2.2 -2.7 2 -3.3 1.5 -4.1 1 -4.5 .6 -4.4 .4 -4.3 .4 -4.8-.1 -5.3-.7 -5.2-.9 -5-.9 -4.8-1.1 -4.6-1.1 -4.4-1.2 -4.3-1.3 -4-1.2 -3.7-1.3 -3.5-1.2 -3.3-1.2 -3.2-1.2 -2.9-1.2 -2.9-1.3 -2.7-1.2 -2.6-1.3 -2.4-1.3 -2.3-1.2 -2.1-1.2 -2.1-1.2 -1.9-1.1 -1.7-1.1 -1.7-1.1 -1.6-.9 -1.4-.9 -1.4-.9 -1.2-.8 -1.2-.8 -1.1-.7 -1.1-.6 -1-.7 -.9-.6 -.9-.5 -.9-.5 -.8-.5 -.8-.5 -.7-.5 -.7-.4 -.7-.4 -.7-.4 -.6-.4 -.7-.4 -.6-.4 -.5-.4 -.6-.3 -.6-.4 -.5-.3 -.5-.3 -.5-.3 -.5-.4 -.5-.3 -.5-.3 -.5-.3 -.4-.3 -.5-.3 -.4-.3 -.4-.3 -.4-.3 -.5-.3 -.4-.3 -.4-.2 -.4-.3 -.3-.3 -.4-.3 -.4-.3 -.4-.3 -.3-.3 -.4-.2 -.3-.3 -.4-.3 -.3-.3 -.4-.3 -.3-.2 -.3-.3 -.4-.3 -.3-.3 -.3-.3 -.3-.2 -.4-.3 -.3-.3 -.3-.3 -.3-.2 -.4-.3 -.5-.1 -.5-.1 -.7 0 -.6 0 -.7 0 -.8 0 -.7 0 -.9 0 -.8 0 -1 0 -.9 0 -1.1 0 -1.1 0 -1.2 0 -1.2 0 -1.4 0 -1.5 0 -1.6 0 -1.8 0 -2 0 -2.1 0 -2.4 0 -2.7 0 -3 0 -3.5 0 -3.2-.2 -1.3-.8 0-1.2 0-1.2 0-1.2 0-1.1 0-1.1 0-1.2 0-1.1 0-1.1 0-1.2 0-1.1 0-1.1z" fill="#3ad1ec"/>
<path d="M190 248.7l0-1.1 0-1.1 0-1.1 0-1.2 0-1.1 0-1.1 0-1.2 0-1.1 0-1.1 4.3-.3 4.3-.1 3.9 0 3.3 0 2.8 0 2.4 0 2.2 0 1.9 0 1.7 0 1.5 0 1.4 0 1.3 0 1.1 0 1.1 0 1 0 .9 0 .8 0 .8 0 .8 0 .7 0 .6 0 .3-.2 .4-.1 .4-.2 .3-.2 .3-.2 .3-.2 .3-.2 .3-.2 .3-.2 .3-.2 .3-.2 .3-.2 .3-.2 .3-.2 .3-.2 .3-.2 .3-.2 .2-.2 .3-.2 .3-.1 .3-.2 .3-.2 .3-.2 .3-.2 .3-.2 .3-.2 .3-.2 .3-.2 .3-.2 .3-.2 .3-.2 .3-.3 .3-.2 .4-.2 .3-.2 .3-.2 .4-.3 .3-.2 .4-.3 .3-.2 .4-.3 .4-.2 .4-.3 .4-.3 .4-.2 .4-.3 .5-.3 .4-.3 .5-.4 .5-.3 .5-.3 .5-.4 .5-.4 .6-.4 .6-.4 .6-.4 .6-.4 .7-.5 .7-.5 .7-.5 .8-.5 .9-.6 .8-.6 1-.6 1-.6 1-.8 1.1-.7 1.3-.8 1.3-.9 1.4-.9 1.5-1 1.7-1 1.8-1.2 1.9-1.2 2.2-1.4 2.3-1.4 2.6-1.6 2.7-1.6 2.9-1.6 3.1-1.5 3.1-1.4 3.2-1.4 3.2-1.1 3.2-.9 3.3-.9 3.3-.7 3.5-.7 3.5-.5 3.7-.6 3.9-.4 3.9-.4 4-.2 3.9 0 3.8 .2 3.9 .4 3.9 .4 3.9 .7 3.7 .8 3.5 1.2 2.9 1.4 2.6 1.7 2.2 2 1.8 2.2 1.3 2.3 1 2.5 .8 2.6 .5 2.6 .3 2.7 .2 2.7 .1 2.7 -.1 2.7 -.2 2.7 -.1 2.7 -.3 2.7 -.4 2.6 -.4 2.6 -.4 2.6 -.3 2.6 -.3 2.6 -.1 2.5 0 2.5 .3 2.6 .5 2.6 .7 2.6 .7 2.7 .7 2.7 .7 2.7 .6 2.8 .6 2.8 .6 2.9 .4 2.9 .3 2.9 .1 2.8 0 2.9 0 2.9 -.4 2.9 -.6 2.8 -1.1 2.6 -1.4 2.5 -1.7 2.3 -2.1 2.1 -2.6 1.8 -3.3 1.4 -3.9 .9 -4.2 .6 -4 .6 -3.9 .5 -4.5-.1 -5.2-.7 -5.2-1.1 -5.1-1.1 -4.8-1.2 -4.4-1.1 -4.3-1.2 -4-1.2 -3.7-1.2 -3.4-1 -3.3-1.1 -3-1 -2.9-1.1 -2.7-1 -2.6-1.1 -2.5-1.1 -2.4-1.1 -2.3-1.1 -2.2-1.2 -2-1.1 -1.9-1 -1.8-1.1 -1.7-1 -1.6-.9 -1.5-.9 -1.4-.8 -1.2-.8 -1.3-.8 -1.1-.7 -1.1-.6 -1-.7 -1-.6 -.9-.5 -.9-.5 -.8-.5 -.8-.5 -.8-.5 -.7-.4 -.7-.4 -.7-.4 -.6-.4 -.7-.4 -.6-.4 -.6-.3 -.6-.4 -.5-.3 -.6-.4 -.5-.3 -.5-.3 -.5-.4 -.5-.3 -.5-.3 -.5-.3 -.4-.3 -.5-.3 -.4-.3 -.4-.3 -.5-.2 -.4-.3 -.4-.3 -.4-.3 -.4-.3 -.4-.3 -.4-.2 -.3-.3 -.4-.3 -.4-.3 -.3-.3 -.4-.2 -.3-.3 -.4-.3 -.3-.3 -.4-.2 -.3-.3 -.3-.3 -.4-.3 -.3-.2 -.3-.3 -.3-.3 -.4-.2 -.3-.3 -.3-.3 -.3-.3 -.4-.2 -.4-.2 -.5-.1 -.6 0 -.7 0 -.7 0 -.7 0 -.8 0 -.8 0 -.9 0 -.9 0 -.9 0 -1 0 -1.1 0 -1.2 0 -1.3 0 -1.3 0 -1.5 0 -1.6 0 -1.8 0 -1.9 0 -2.1 0 -2.4 0 -2.6 0 -3 0 -3.4 0 -3.5-.1 -1.7-.7 0-1.2 0-1.2 0-1.2 0-1.1 0-1.1 0-1.2 0-1.1 0-1.1 0-1.2 0-1.1 0-1.1z" fill="#3edee7"/>
<path d="M190 248.7l0-1.1 0-1.1 0-1.1 0-1.2 0-1.1 0-1.1 0-1.2 0-1.1 0-1.1 5.2-.1 4.5 0 3.8 0 3.2 0 2.7 0 2.4 0 2.1 0 1.9 0 1.6 0 1.5 0 1.4 0 1.2 0 1.2 0 1 0 .9 0 .9 0 .9 0 .7 0 .7 0 .7 0 .6-.1 .3-.2 .3-.2 .4-.2 .3-.2 .3-.2 .3-.1 .3-.2 .3-.2 .3-.2 .3-.2 .3-.2 .3-.2 .3-.2 .3-.1 .3-.2 .2-.2 .3-.2 .3-.2 .3-.2 .3-.2 .3-.1 .3-.2 .2-.2 .3-.2 .3-.2 .3-.2 .3-.2 .3-.2 .3-.2 .3-.2 .3-.2 .3-.2 .3-.2 .4-.2 .3-.2 .3-.3 .3-.2 .4-.2 .3-.3 .4-.2 .4-.2 .3-.3 .4-.2 .4-.3 .4-.3 .4-.3 .4-.2 .5-.3 .4-.3 .5-.3 .5-.4 .5-.3 .5-.3 .6-.4 .5-.4 .6-.4 .6-.4 .7-.4 .6-.4 .7-.5 .8-.4 .8-.5 .8-.6 .9-.5 .9-.7 1-.6 1.1-.7 1.1-.7 1.3-.8 1.3-.9 1.5-1 1.5-1 1.8-1.1 1.8-1.2 2.1-1.3 2.3-1.4 2.4-1.4 2.7-1.6 2.8-1.6 2.9-1.4 3-1.4 3.1-1.2 2.9-1 3-.9 3.2-.8 3.2-.7 3.3-.7 3.4-.6 3.6-.5 3.7-.5 3.8-.3 3.8-.2 3.7 0 3.6 .3 3.5 .4 3.8 .4 3.8 .6 3.7 .7 3.3 1.1 3 1.3 2.5 1.7 2.1 1.8 1.7 2.1 1.3 2.3 .9 2.4 .7 2.4 .5 2.6 .3 2.6 .2 2.5 0 2.6 -.1 2.6 -.1 2.6 -.2 2.6 -.2 2.5 -.2 2.5 -.2 2.5 -.2 2.5 -.2 2.5 -.1 2.5 0 2.4 .1 2.5 .3 2.4 .5 2.5 .6 2.5 .6 2.6 .6 2.6 .5 2.6 .4 2.7 .3 2.7 .4 2.7 .2 2.7 .2 2.7 0 2.8 0 2.7 -.2 2.7 -.4 2.7 -.7 2.6 -1.1 2.5 -1.4 2.3 -1.7 2.2 -2.1 2 -2.4 1.7 -3.2 1.3 -3.8 .8 -3.9 .6 -3.6 .7 -3.4 .6 -4.2 0 -5.1-.8 -5.4-1.2 -5.1-1.3 -4.7-1.3 -4.4-1.2 -4.1-1.2 -3.7-1.1 -3.4-1 -3.1-.9 -3-.9 -2.8-.8 -2.6-.9 -2.5-.9 -2.4-.9 -2.3-1 -2.2-.9 -2.1-1 -2.1-1 -1.9-1 -1.8-1 -1.7-.9 -1.6-.9 -1.5-.9 -1.4-.8 -1.3-.7 -1.2-.8 -1.2-.7 -1.1-.6 -1.1-.6 -.9-.6 -1-.5 -.9-.6 -.8-.4 -.8-.5 -.8-.5 -.8-.4 -.7-.4 -.7-.4 -.7-.4 -.6-.4 -.6-.4 -.6-.3 -.6-.4 -.6-.3 -.5-.4 -.6-.3 -.5-.3 -.5-.4 -.5-.3 -.5-.3 -.5-.3 -.4-.3 -.5-.3 -.4-.3 -.5-.2 -.4-.3 -.4-.3 -.4-.3 -.4-.3 -.4-.2 -.4-.3 -.4-.3 -.4-.3 -.4-.2 -.3-.3 -.4-.3 -.3-.2 -.4-.3 -.3-.3 -.4-.3 -.3-.2 -.4-.3 -.3-.3 -.3-.2 -.4-.3 -.3-.3 -.3-.2 -.3-.3 -.4-.3 -.3-.2 -.3-.3 -.3-.3 -.4-.2 -.3-.3 -.5-.1 -.6 0 -.7 0 -.7 0 -.7 0 -.7 0 -.8 0 -.9 0 -.9 0 -.9 0 -1 0 -1.1 0 -1.2 0 -1.2 0 -1.4 0 -1.4 0 -1.6 0 -1.7 0 -1.9 0 -2.1 0 -2.4 0 -2.6 0 -2.9 0 -3.4 0 -3.8 0 -2-.6 0-1.2 0-1.2 0-1.2 0-1.1 0-1.1 0-1.2 0-1.1 0-1.1 0-1.2 0-1.1 0-1.1z" fill="#42e7df"/>
<path d="M190 248.7l0-1.1 0-1.1 0-1.1 0-1.2 0-1.1 0-1.1 0-1.2 .3-1 1-1 5.1 0 4.4 0 3.6 0 3.2 0 2.6 0 2.4 0 2 0 1.8 0 1.7 0 1.4 0 1.4 0 1.2 0 1.1 0 1 0 .9 0 .9 0 .8 0 .7-.1 .6 0 .6-.1 .5-.1 .3-.2 .3-.2 .4-.2 .3-.2 .3-.2 .3-.2 .3-.2 .3-.2 .3-.1 .3-.2 .3-.2 .3-.2 .2-.2 .3-.2 .3-.1 .3-.2 .3-.2 .3-.2 .3-.2 .2-.2 .3-.1 .3-.2 .3-.2 .3-.2 .3-.2 .3-.2 .3-.2 .3-.1 .3-.2 .3-.2 .3-.2 .3-.2 .3-.2 .3-.2 .3-.3 .3-.2 .4-.2 .3-.2 .4-.2 .3-.3 .4-.2 .3-.2 .4-.3 .4-.2 .4-.3 .4-.3 .4-.2 .5-.3 .4-.3 .5-.3 .4-.3 .5-.3 .5-.4 .6-.3 .5-.4 .6-.3 .6-.4 .6-.4 .7-.5 .7-.4 .7-.5 .8-.5 .8-.5 .9-.5 .9-.6 1-.6 1-.7 1.1-.7 1.2-.8 1.3-.8 1.4-.9 1.5-1 1.7-1 1.8-1.1 2-1.3 2.1-1.2 2.4-1.4 2.5-1.5 2.6-1.4 2.8-1.3 2.9-1.3 2.8-1.2 2.9-.9 2.9-.9 3-.8 3.1-.7 3.2-.6 3.3-.6 3.4-.5 3.5-.3 3.6-.4 3.6-.1 3.5 0 3.4 .3 3.5 .4 3.6 .4 3.6 .6 3.5 .7 3.2 1 2.8 1.3 2.4 1.6 2.1 1.8 1.6 1.9 1.3 2.2 1 2.3 .8 2.3 .5 2.4 .3 2.5 .2 2.5 .1 2.5 0 2.5 0 2.4 -.1 2.5 -.1 2.4 -.2 2.5 -.1 2.4 -.1 2.4 -.1 2.4 -.1 2.3 .1 2.4 .1 2.4 .3 2.4 .5 2.4 .5 2.4 .6 2.5 .6 2.5 .4 2.6 .3 2.5 .3 2.6 .2 2.6 .1 2.6 .1 2.6 -.1 2.6 -.1 2.6 -.3 2.7 -.4 2.5 -.8 2.5 -1.1 2.3 -1.5 2.2 -1.8 2 -2.1 1.8 -2.5 1.6 -3 1.3 -3.6 .8 -3.7 .6 -3.4 .6 -3.3 .7 -4 0 -4.7-.7 -4.9-1 -4.8-1.1 -4.4-1.2 -4.1-1.1 -3.8-1 -3.5-1 -3.3-.9 -3-.8 -2.8-.8 -2.6-.8 -2.6-.8 -2.4-.8 -2.3-.9 -2.2-.8 -2.1-.9 -2-.9 -2-.9 -1.8-.9 -1.8-.9 -1.6-.9 -1.5-.8 -1.5-.8 -1.4-.8 -1.3-.7 -1.2-.7 -1.1-.6 -1.1-.6 -1.1-.6 -.9-.6 -1-.5 -.9-.5 -.8-.5 -.8-.5 -.8-.5 -.8-.4 -.7-.4 -.7-.4 -.7-.4 -.6-.4 -.6-.4 -.6-.4 -.6-.3 -.6-.4 -.5-.3 -.6-.3 -.5-.4 -.5-.3 -.5-.3 -.5-.3 -.5-.3 -.4-.3 -.5-.3 -.4-.3 -.5-.3 -.4-.3 -.4-.3 -.4-.2 -.4-.3 -.4-.3 -.4-.3 -.4-.3 -.3-.2 -.4-.3 -.4-.3 -.3-.3 -.4-.3 -.3-.2 -.4-.3 -.3-.3 -.4-.3 -.3-.2 -.3-.3 -.3-.3 -.4-.2 -.3-.3 -.3-.3 -.3-.3 -.3-.2 -.4-.3 -.3-.3 -.3-.2 -.3-.3 -.3-.3 -.5-.1 -.6 0 -.6-.1 -.6 0 -.7 0 -.7 0 -.8 0 -.8 0 -.9 0 -.9 0 -1 0 -1.1 0 -1.1 0 -1.2 0 -1.3 0 -1.4 0 -1.6 0 -1.7 0 -1.8 0 -2.1 0 -2.3 0 -2.5 0 -2.9 0 -3.3 0 -3.7 0 -2.3-.6 -.8-1 -.1-1.1 0-1.2 0-1.1 0-1.1 0-1.2 0-1.1 0-1.1 0-1.2 0-1.1 0-1.1z" fill="#46ecd6"/>
<path d="M190 248.7l0-1.1 0-1.1 0-1.1 0-1.2 0-1.1 0-1.1 0-1.2 .6-1 1.9-.8 5.1 0 4.2 0 3.6 0 3.1 0 2.6 0 2.2 0 2 0 1.8 0 1.6 0 1.4 0 1.3 0 1.2 0 1.1 0 .9 0 1 0 .8 0 .8 0 .6-.1 .6-.1 .5 0 .4-.2 .3-.2 .4-.2 .3-.2 .3-.2 .3-.2 .3-.2 .3-.2 .3-.2 .3-.2 .2-.2 .3-.1 .3-.2 .3-.2 .3-.2 .3-.2 .3-.1 .3-.2 .2-.2 .3-.2 .3-.1 .3-.2 .3-.2 .3-.2 .2-.2 .3-.1 .3-.2 .3-.2 .3-.2 .3-.2 .3-.2 .3-.2 .3-.2 .3-.2 .3-.2 .4-.2 .3-.2 .3-.2 .3-.2 .4-.2 .3-.2 .4-.3 .4-.2 .3-.2 .4-.3 .4-.2 .4-.3 .4-.2 .4-.3 .5-.3 .4-.3 .5-.3 .5-.3 .5-.3 .5-.3 .5-.4 .6-.3 .6-.4 .6-.4 .7-.4 .6-.4 .8-.5 .7-.5 .8-.5 .8-.5 .9-.6 1-.6 1-.6 1.1-.7 1.2-.7 1.2-.8 1.4-.9 1.4-.9 1.6-1 1.8-1 1.9-1.2 2-1.1 2.2-1.3 2.4-1.3 2.5-1.3 2.6-1.3 2.7-1.1 2.7-1.1 2.8-.9 2.8-.8 2.9-.8 3-.7 3.1-.7 3.2-.5 3.2-.4 3.3-.3 3.3-.3 3.4-.1 3.3 .1 3.3 .2 3.3 .4 3.4 .4 3.5 .6 3.3 .7 3.1 .9 2.7 1.3 2.2 1.5 2 1.7 1.7 1.9 1.3 2 1 2.2 .8 2.2 .6 2.3 .3 2.4 .3 2.3 .2 2.4 0 2.4 .1 2.3 0 2.4 -.1 2.3 0 2.4 -.1 2.3 0 2.3 0 2.3 0 2.3 .1 2.3 .2 2.3 .3 2.3 .4 2.4 .5 2.3 .5 2.4 .5 2.5 .3 2.4 .3 2.5 .2 2.4 .1 2.5 .1 2.5 -.1 2.5 -.2 2.5 -.2 2.5 -.4 2.5 -.5 2.4 -.8 2.3 -1.2 2.2 -1.5 2.1 -1.9 1.8 -2.1 1.7 -2.5 1.5 -2.9 1.1 -3.4 .9 -3.5 .6 -3.2 .6 -3.2 .6 -3.7 0 -4.4-.5 -4.5-.9 -4.4-.9 -4.1-1 -3.8-.9 -3.6-.9 -3.3-.9 -3.1-.8 -2.8-.7 -2.7-.7 -2.5-.8 -2.4-.7 -2.3-.7 -2.2-.8 -2.2-.8 -2-.8 -1.9-.8 -1.9-.8 -1.7-.8 -1.7-.8 -1.6-.8 -1.5-.8 -1.4-.7 -1.4-.7 -1.2-.7 -1.2-.7 -1.2-.6 -1-.6 -1.1-.6 -1-.5 -.9-.5 -.9-.5 -.8-.5 -.8-.5 -.8-.4 -.8-.5 -.7-.4 -.7-.4 -.7-.4 -.6-.4 -.6-.4 -.6-.4 -.6-.3 -.6-.4 -.5-.3 -.6-.4 -.5-.3 -.5-.3 -.5-.3 -.5-.4 -.5-.3 -.4-.3 -.5-.3 -.4-.3 -.4-.3 -.5-.2 -.4-.3 -.4-.3 -.4-.3 -.4-.3 -.4-.3 -.3-.3 -.4-.2 -.4-.3 -.3-.3 -.4-.3 -.3-.3 -.4-.2 -.3-.3 -.4-.3 -.3-.3 -.3-.3 -.3-.2 -.4-.3 -.3-.3 -.3-.3 -.3-.2 -.3-.3 -.3-.3 -.3-.3 -.3-.2 -.3-.3 -.3-.3 -.4-.2 -.4-.2 -.5-.1 -.5-.1 -.6-.1 -.7 0 -.7 0 -.8 0 -.8 0 -.8 0 -.9 0 -1 0 -1 0 -1.1 0 -1.2 0 -1.3 0 -1.4 0 -1.5 0 -1.6 0 -1.8 0 -2 0 -2.3 0 -2.4 0 -2.9 0 -3.2 0 -3.6 0 -2.6-.4 -1.5-.8 -.3-1.1 0-1.2 0-1.1 0-1.1 0-1.2 0-1.1 0-1.1 0-1.2 0-1.1 0-1.1z" fill="#4af1cd"/>
<path d="M190 248.7l0-1.1 0-1.1 0-1.1 0-1.2 0-1.1 0-1.1 0-1.2 .9-.9 2.9-.6 4.9-.1 4.2 0 3.5 0 3 0 2.5 0 2.2 0 2 0 1.7 0 1.5 0 1.4 0 1.3 0 1.1 0 1.1 0 .9 0 .9 0 .8 0 .8 0 .6 0 .4-.2 .5-.1 .4-.2 .3-.2 .3-.2 .2-.2 .3-.2 .3-.2 .3-.2 .3-.2 .3-.2 .3-.2 .3-.2 .3-.2 .3-.1 .3-.2 .3-.2 .2-.2 .3-.1 .3-.2 .3-.2 .3-.2 .3-.1 .2-.2 .3-.2 .3-.2 .3-.1 .3-.2 .3-.2 .3-.2 .3-.2 .3-.1 .3-.2 .3-.2 .3-.2 .3-.2 .3-.2 .3-.2 .3-.2 .3-.2 .4-.2 .3-.2 .4-.2 .3-.2 .4-.2 .3-.3 .4-.2 .4-.2 .4-.3 .4-.2 .4-.3 .5-.3 .4-.2 .5-.3 .4-.3 .5-.3 .5-.3 .6-.4 .5-.3 .6-.4 .6-.4 .6-.4 .7-.4 .7-.4 .7-.5 .8-.5 .8-.5 .9-.5 .9-.6 1-.6 1.1-.7 1.1-.7 1.2-.7 1.3-.8 1.4-.9 1.6-.9 1.6-1 1.8-1.1 1.9-1 2.1-1.2 2.2-1.2 2.4-1.1 2.4-1.2 2.6-1.1 2.6-1 2.6-.8 2.7-.8 2.9-.8 2.9-.7 3-.6 3-.5 3-.4 3.1-.2 3.2-.2 3.1 0 3.2 0 3.1 .3 3.2 .3 3.2 .4 3.3 .5 3.2 .7 2.9 1 2.5 1.2 2.1 1.4 2 1.7 1.6 1.7 1.3 1.9 1.1 2.1 .8 2.1 .6 2.2 .5 2.2 .3 2.3 .2 2.2 .1 2.3 .2 2.2 0 2.3 .1 2.2 0 2.3 .1 2.2 0 2.2 .1 2.3 .1 2.2 .1 2.2 .2 2.2 .3 2.3 .4 2.2 .4 2.3 .5 2.3 .4 2.4 .3 2.3 .2 2.4 .1 2.4 .1 2.4 -.1 2.4 -.1 2.3 -.3 2.4 -.4 2.3 -.5 2.4 -.6 2.3 -.8 2.2 -1.2 2.1 -1.7 1.8 -1.9 1.7 -2.2 1.6 -2.4 1.3 -2.8 1.1 -3.2 .8 -3.2 .7 -3.1 .5 -3.1 .6 -3.5 .1 -4-.4 -4.1-.7 -4-.8 -3.8-.7 -3.5-.8 -3.4-.8 -3.1-.7 -2.9-.8 -2.7-.6 -2.5-.7 -2.4-.6 -2.3-.7 -2.2-.6 -2.1-.7 -2-.7 -2-.7 -1.8-.8 -1.8-.7 -1.7-.7 -1.6-.8 -1.5-.7 -1.5-.7 -1.3-.7 -1.4-.6 -1.2-.6 -1.2-.7 -1.1-.5 -1.1-.6 -1-.6 -1-.5 -.9-.5 -.9-.5 -.8-.5 -.8-.5 -.8-.4 -.8-.5 -.7-.4 -.7-.4 -.7-.4 -.6-.4 -.6-.4 -.6-.4 -.6-.3 -.6-.4 -.5-.4 -.6-.3 -.5-.3 -.5-.4 -.5-.3 -.5-.3 -.5-.3 -.4-.3 -.5-.3 -.4-.3 -.4-.3 -.5-.3 -.4-.3 -.4-.3 -.4-.3 -.4-.3 -.3-.3 -.4-.2 -.4-.3 -.3-.3 -.4-.3 -.3-.3 -.4-.3 -.3-.3 -.4-.2 -.3-.3 -.3-.3 -.3-.3 -.4-.3 -.3-.3 -.3-.2 -.3-.3 -.3-.3 -.3-.3 -.3-.2 -.3-.3 -.3-.3 -.3-.3 -.3-.2 -.3-.3 -.4-.2 -.4-.1 -.5-.2 -.5-.1 -.7 0 -.7 0 -.7 0 -.8 0 -.8 0 -.9 0 -1 0 -1 0 -1 0 -1.2 0 -1.2 0 -1.4 0 -1.5 0 -1.6 0 -1.7 0 -2 0 -2.2 0 -2.4 0 -2.7 0 -3.2 0 -3.5 0 -3-.3 -2.2-.6 -.4-1.1 0-1.2 0-1.1 0-1.1 0-1.2 0-1.1 0-1.1 0-1.2 0-1.1 0-1.1z" fill="#4ef5c0"/>
<path d="M190 248.7l0-1.1 0-1.1 0-1.1 0-1.2 0-1.1 0-1.1 0-1.2 1.2-.9 3.9-.4 4.8 0 4.1 0 3.4 0 2.8 0 2.5 0 2.2 0 1.9 0 1.7 0 1.5 0 1.3 0 1.2 0 1.1 0 1.1 0 .9 0 .9 0 .8 0 .7 0 .5-.1 .4-.2 .4-.2 .3-.2 .3-.2 .3-.2 .2-.3 .3-.2 .3-.2 .3-.2 .3-.2 .3-.1 .3-.2 .3-.2 .3-.2 .3-.2 .2-.1 .3-.2 .3-.2 .3-.2 .3-.1 .3-.2 .2-.2 .3-.1 .3-.2 .3-.2 .3-.1 .3-.2 .2-.2 .3-.2 .3-.1 .3-.2 .3-.2 .3-.2 .3-.1 .3-.2 .3-.2 .3-.2 .3-.2 .4-.2 .3-.2 .3-.2 .3-.2 .4-.2 .3-.2 .4-.2 .3-.2 .4-.2 .4-.3 .4-.2 .4-.2 .4-.3 .4-.2 .5-.3 .4-.3 .5-.3 .5-.3 .5-.3 .5-.3 .5-.3 .6-.4 .6-.3 .6-.4 .6-.4 .7-.4 .7-.5 .8-.4 .8-.5 .8-.6 .9-.5 1-.6 1-.6 1.1-.7 1.2-.7 1.3-.8 1.3-.8 1.5-.9 1.6-.9 1.7-1 1.8-.9 2-1.1 2-1 2.2-1.1 2.3-1 2.4-1 2.5-.9 2.5-.8 2.6-.8 2.7-.8 2.8-.6 2.9-.6 2.9-.5 2.9-.3 2.9-.2 2.9-.1 2.9 0 3 .1 3 .2 3 .3 3.1 .4 3.1 .5 3 .7 2.7 .9 2.4 1.2 2.1 1.4 1.8 1.5 1.6 1.7 1.4 1.7 1.1 2 .9 2 .6 2 .5 2.1 .4 2.2 .2 2.1 .3 2.2 .1 2.2 .2 2.1 .2 2.2 .1 2.1 .1 2.1 .1 2.2 .2 2.1 .1 2.2 .2 2.1 .2 2.2 .3 2.1 .4 2.2 .4 2.2 .3 2.2 .4 2.3 .2 2.3 .2 2.2 .1 2.3 -.1 2.3 -.1 2.3 -.3 2.2 -.4 2.3 -.5 2.2 -.6 2.2 -.6 2.2 -.9 2 -1.3 2 -1.7 1.7 -2 1.6 -2.2 1.4 -2.4 1.2 -2.7 1 -3 .8 -3 .6 -3 .6 -2.9 .5 -3.3 .1 -3.6-.3 -3.7-.4 -3.6-.6 -3.5-.6 -3.2-.7 -3.1-.6 -2.9-.6 -2.7-.6 -2.6-.6 -2.4-.6 -2.3-.6 -2.2-.6 -2.1-.5 -2-.6 -1.9-.7 -1.8-.6 -1.8-.6 -1.7-.7 -1.6-.7 -1.6-.6 -1.4-.6 -1.4-.7 -1.4-.6 -1.2-.6 -1.3-.6 -1.1-.5 -1.1-.6 -1.1-.6 -1-.5 -1-.5 -.9-.5 -.9-.5 -.8-.5 -.8-.5 -.8-.4 -.8-.5 -.7-.4 -.7-.4 -.7-.4 -.6-.4 -.6-.4 -.6-.4 -.6-.4 -.6-.3 -.5-.4 -.6-.3 -.5-.4 -.5-.3 -.5-.3 -.5-.3 -.5-.4 -.4-.3 -.5-.3 -.4-.3 -.4-.3 -.4-.3 -.5-.3 -.4-.2 -.4-.3 -.3-.3 -.4-.3 -.4-.3 -.4-.3 -.3-.3 -.4-.3 -.3-.3 -.3-.3 -.4-.3 -.3-.3 -.3-.3 -.3-.2 -.4-.3 -.3-.3 -.3-.3 -.3-.3 -.3-.3 -.3-.2 -.3-.3 -.3-.3 -.3-.3 -.3-.3 -.2-.2 -.3-.3 -.3-.3 -.4-.2 -.4-.2 -.4-.2 -.4-.1 -.7 0 -.7 0 -.7 0 -.7 0 -.9 0 -.8 0 -.9 0 -1 0 -1.1 0 -1.1 0 -1.2 0 -1.3 0 -1.5 0 -1.5 0 -1.7 0 -2 0 -2.1 0 -2.3 0 -2.7 0 -3 0 -3.5 0 -3.3-.2 -3-.4 -.5-1.1 0-1.2 0-1.1 0-1.1 0-1.2 0-1.1 0-1.1 0-1.2 0-1.1 0-1.1z" fill="#51f6af"/>
<path d="M190 248.7l0-1.1 0-1.1 0-1.1 0-1.2 0-1.1 0-1.1 0-1.2 1.5-.8 4.8-.2 4.8 0 3.9 0 3.3 0 2.8 0 2.5 0 2.1 0 1.8 0 1.6 0 1.5 0 1.3 0 1.2 0 1.1 0 1 0 .9 0 .8 0 .8 0 .7 0 .4-.2 .3-.2 .3-.3 .3-.2 .3-.2 .3-.3 .2-.2 .3-.2 .3-.2 .3-.2 .3-.2 .3-.2 .3-.2 .2-.1 .3-.2 .3-.2 .3-.2 .3-.1 .3-.2 .3-.2 .2-.1 .3-.2 .3-.2 .3-.1 .3-.2 .3-.2 .2-.1 .3-.2 .3-.2 .3-.1 .3-.2 .3-.2 .3-.1 .3-.2 .3-.2 .3-.1 .3-.2 .3-.2 .3-.2 .3-.2 .3-.2 .3-.1 .4-.2 .3-.2 .4-.2 .3-.2 .4-.2 .3-.3 .4-.2 .4-.2 .4-.2 .4-.3 .4-.2 .4-.3 .5-.2 .4-.3 .5-.3 .5-.3 .5-.3 .5-.3 .6-.3 .6-.4 .6-.4 .6-.4 .7-.4 .7-.4 .7-.4 .8-.5 .8-.5 .9-.5 .9-.6 1-.6 1.1-.6 1.1-.7 1.2-.7 1.3-.8 1.4-.8 1.5-.9 1.7-.9 1.7-.8 1.8-1 1.9-.9 2.1-.9 2.1-.9 2.2-.9 2.3-.8 2.5-.8 2.5-.8 2.6-.7 2.7-.7 2.8-.6 2.7-.4 2.7-.3 2.7-.1 2.7 0 2.7 0 2.8 .1 2.9 .2 2.8 .3 3 .4 2.9 .5 2.9 .7 2.5 .9 2.2 1.1 2 1.3 1.8 1.4 1.6 1.6 1.4 1.7 1.1 1.8 .9 1.8 .7 2 .5 2 .4 2 .4 2.1 .3 2 .2 2.1 .3 2 .2 2.1 .2 2 .3 2.1 .2 2 .2 2.1 .2 2 .2 2.1 .3 2.1 .2 2.1 .4 2.1 .3 2.1 .3 2.2 .3 2.1 .2 2.2 .1 2.2 0 2.2 -.1 2.1 -.3 2.2 -.4 2.1 -.5 2.1 -.6 2.1 -.7 2.1 -.7 2 -.9 2 -1.3 1.8 -1.8 1.6 -2.1 1.4 -2.2 1.2 -2.5 1.2 -2.5 .9 -2.8 .8 -2.8 .6 -2.8 .6 -2.8 .4 -3 .1 -3.3-.1 -3.3-.3 -3.2-.4 -3.1-.4 -3-.5 -2.9-.5 -2.7-.5 -2.5-.5 -2.4-.5 -2.3-.5 -2.2-.5 -2.1-.5 -1.9-.5 -1.9-.6 -1.9-.5 -1.7-.6 -1.7-.5 -1.6-.6 -1.6-.6 -1.4-.5 -1.5-.6 -1.3-.5 -1.3-.6 -1.2-.6 -1.2-.5 -1.2-.5 -1-.6 -1.1-.5 -1-.5 -1-.5 -.9-.5 -.9-.5 -.8-.5 -.8-.5 -.8-.4 -.8-.5 -.7-.4 -.7-.4 -.7-.4 -.6-.4 -.6-.4 -.6-.4 -.6-.4 -.6-.3 -.5-.4 -.6-.4 -.5-.3 -.5-.3 -.5-.4 -.5-.3 -.4-.3 -.5-.3 -.5-.3 -.4-.3 -.4-.3 -.4-.3 -.4-.3 -.4-.3 -.4-.3 -.4-.3 -.4-.3 -.4-.3 -.3-.3 -.4-.3 -.3-.3 -.4-.3 -.3-.3 -.3-.3 -.3-.3 -.4-.3 -.3-.3 -.3-.3 -.3-.2 -.3-.3 -.3-.3 -.3-.3 -.3-.3 -.3-.3 -.2-.3 -.3-.2 -.3-.3 -.3-.3 -.3-.3 -.3-.3 -.3-.2 -.3-.2 -.4-.3 -.3-.2 -.7 0 -.6 0 -.7 0 -.8 0 -.8 0 -.8 0 -.9 0 -1 0 -1 0 -1.1 0 -1.2 0 -1.2 0 -1.4 0 -1.6 0 -1.7 0 -1.8 0 -2.1 0 -2.3 0 -2.6 0 -2.9 0 -3.4 0 -3.6-.1 -3.8-.2 -.6-1 0-1.2 0-1.1 0-1.1 0-1.2 0-1.1 0-1.1 0-1.2 0-1.1 0-1.1z" fill="#54f79e"/>
<path d="M190 248.7l0-1.1 0-1.1 0-1.1 0-1.2 0-1.1 0-1.1 0-1.2 1.8-.8 5.8 0 4.7 0 3.8 0 3.2 0 2.7 0 2.4 0 2 0 1.8 0 1.6 0 1.4 0 1.3 0 1.2 0 1 0 1 0 .9 0 .8 0 .7 0 .7 0 .4-.2 .2-.3 .2-.2 .3-.3 .2-.2 .3-.3 .2-.2 .3-.2 .3-.2 .3-.2 .3-.2 .2-.2 .3-.2 .3-.2 .3-.1 .3-.2 .3-.2 .3-.1 .2-.2 .3-.2 .3-.1 .3-.2 .3-.2 .2-.1 .3-.2 .3-.1 .3-.2 .3-.2 .3-.1 .2-.2 .3-.2 .3-.1 .3-.2 .3-.1 .3-.2 .3-.2 .3-.1 .3-.2 .3-.2 .3-.2 .4-.1 .3-.2 .3-.2 .3-.2 .4-.2 .3-.2 .4-.2 .3-.2 .4-.2 .4-.2 .4-.2 .4-.3 .4-.2 .4-.2 .4-.3 .5-.2 .4-.3 .5-.3 .5-.3 .5-.3 .6-.3 .5-.4 .6-.3 .6-.4 .7-.4 .7-.4 .7-.4 .8-.5 .8-.5 .8-.5 .9-.5 1-.6 1-.6 1.1-.6 1.2-.7 1.2-.7 1.4-.8 1.4-.7 1.5-.9 1.6-.7 1.7-.9 1.8-.7 1.9-.8 2-.8 2-.8 2.2-.8 2.3-.7 2.4-.8 2.6-.7 2.6-.7 2.6-.5 2.7-.5 2.5-.2 2.4 0 2.5 0 2.5 .1 2.6 .2 2.7 .2 2.8 .3 2.8 .3 2.7 .5 2.7 .6 2.4 .9 2.1 1.1 1.8 1.2 1.7 1.4 1.6 1.4 1.4 1.6 1.2 1.7 .9 1.7 .8 1.8 .6 1.9 .4 2 .4 1.9 .4 1.9 .3 2 .4 1.9 .3 2 .3 1.9 .3 2 .3 2 .3 1.9 .3 2 .2 2 .3 2 .3 2 .3 2 .2 2.1 .3 2.1 .2 2 .2 2.1 0 2.1 -.1 2.1 -.2 2.1 -.3 2 -.5 2 -.7 2 -.7 2 -.8 1.9 -.7 1.9 -1 1.8 -1.4 1.7 -1.8 1.5 -2.2 1.2 -2.3 1.1 -2.4 1 -2.4 .9 -2.6 .8 -2.5 .6 -2.7 .5 -2.7 .4 -2.8 .2 -2.9 0 -2.9-.1 -2.8-.2 -2.8-.3 -2.8-.4 -2.6-.3 -2.4-.4 -2.4-.4 -2.3-.5 -2.1-.4 -2.1-.4 -1.9-.4 -1.9-.5 -1.8-.4 -1.7-.5 -1.7-.4 -1.6-.5 -1.5-.5 -1.5-.5 -1.4-.4 -1.4-.5 -1.3-.5 -1.2-.5 -1.2-.5 -1.2-.5 -1.1-.5 -1.1-.5 -1-.5 -1-.5 -1-.5 -.9-.5 -.9-.5 -.8-.5 -.8-.5 -.8-.4 -.8-.5 -.7-.4 -.7-.4 -.7-.4 -.6-.4 -.6-.4 -.6-.4 -.6-.4 -.6-.4 -.5-.3 -.6-.4 -.5-.3 -.5-.4 -.5-.3 -.5-.3 -.4-.3 -.5-.4 -.4-.3 -.5-.3 -.4-.3 -.4-.3 -.4-.3 -.4-.3 -.4-.3 -.4-.3 -.4-.3 -.3-.3 -.4-.3 -.3-.3 -.4-.3 -.3-.3 -.3-.3 -.4-.3 -.3-.3 -.3-.3 -.3-.3 -.3-.3 -.3-.3 -.3-.3 -.3-.3 -.3-.2 -.3-.3 -.2-.3 -.3-.3 -.3-.3 -.3-.3 -.3-.3 -.2-.2 -.3-.3 -.3-.3 -.3-.3 -.2-.2 -.3-.3 -.7 0 -.6 0 -.7 0 -.7 0 -.8 0 -.8 0 -.9 0 -.9 0 -1 0 -1.1 0 -1.1 0 -1.3 0 -1.3 0 -1.5 0 -1.7 0 -1.8 0 -2 0 -2.2 0 -2.6 0 -2.8 0 -3.4 0 -3.8 0 -4.5 0 -.8-1 0-1.2 0-1.1 0-1.1 0-1.2 0-1.1 0-1.1 0-1.2 0-1.1 0-1.1z" fill="#57f88a"/>
<path d="M190 248.7l0-1.1 0-1.1 0-1.1 0-1.2 0-1.1 0-1.1 1.3-1 2.4-.7 5.6 0 4.5 0 3.7 0 3.1 0 2.6 0 2.3 0 2 0 1.7 0 1.5 0 1.4 0 1.2 0 1.1 0 1 0 .9 0 .8 0 .7-.1 .7 0 .6 0 .3-.2 .3-.3 .2-.3 .2-.2 .3-.2 .2-.3 .3-.2 .3-.2 .3-.2 .2-.2 .3-.2 .3-.1 .3-.2 .3-.2 .2-.2 .3-.1 .3-.2 .3-.2 .3-.1 .2-.2 .3-.1 .3-.2 .3-.2 .2-.1 .3-.2 .3-.1 .3-.2 .2-.1 .3-.2 .3-.2 .3-.1 .3-.2 .2-.1 .3-.2 .3-.2 .3-.1 .3-.2 .3-.1 .3-.2 .3-.2 .3-.2 .3-.1 .4-.2 .3-.2 .3-.2 .3-.2 .4-.2 .3-.2 .4-.2 .4-.2 .3-.2 .4-.2 .4-.2 .4-.3 .5-.2 .4-.3 .5-.2 .4-.3 .5-.3 .5-.3 .5-.3 .6-.3 .6-.3 .6-.4 .6-.4 .6-.4 .7-.4 .8-.4 .7-.5 .9-.4 .8-.5 1-.6 .9-.5 1.1-.6 1.1-.7 1.2-.6 1.3-.7 1.4-.8 1.4-.7 1.6-.8 1.6-.8 1.7-.7 1.8-.8 1.9-.8 2.1-.8 2.1-.7 2.2-.8 2.4-.7 2.4-.7 2.5-.6 2.6-.6 2.5-.4 2.4-.2 2.4 0 2.3 .1 2.4 .1 2.5 .2 2.6 .2 2.6 .3 2.6 .3 2.6 .5 2.6 .6 2.3 .9 2 1 1.8 1.2 1.7 1.3 1.6 1.3 1.3 1.5 1.2 1.6 1 1.7 .8 1.8 .6 1.8 .5 1.8 .4 1.9 .4 1.8 .4 1.9 .3 1.9 .3 1.9 .3 1.9 .3 1.9 .2 1.9 .3 1.9 .2 1.9 .3 1.9 .2 1.9 .3 2 .2 1.9 .3 2 .2 2 .2 2 .2 2 0 2.1 0 2 -.2 2 -.4 1.9 -.4 2 -.7 1.9 -.7 1.9 -.8 1.8 -.8 1.8 -1 1.8 -1.4 1.6 -1.8 1.4 -2 1.2 -2.2 1 -2.3 1 -2.3 .9 -2.5 .7 -2.4 .6 -2.6 .5 -2.6 .4 -2.7 .2 -2.8 0 -2.8-.1 -2.7-.2 -2.7-.3 -2.6-.3 -2.6-.4 -2.4-.4 -2.3-.4 -2.1-.4 -2.1-.4 -2-.4 -1.9-.4 -1.8-.4 -1.7-.4 -1.6-.5 -1.6-.4 -1.6-.4 -1.4-.5 -1.4-.4 -1.4-.5 -1.3-.4 -1.2-.5 -1.2-.4 -1.2-.5 -1.1-.5 -1.1-.4 -1-.5 -1-.4 -.9-.5 -1-.4 -.9-.5 -.8-.5 -.8-.4 -.8-.4 -.8-.4 -.7-.4 -.7-.4 -.7-.4 -.6-.4 -.7-.4 -.6-.4 -.6-.3 -.6-.4 -.5-.3 -.6-.4 -.5-.3 -.5-.3 -.5-.4 -.5-.3 -.5-.3 -.4-.3 -.5-.3 -.4-.3 -.5-.3 -.4-.3 -.4-.3 -.4-.3 -.4-.2 -.4-.3 -.4-.3 -.3-.3 -.4-.3 -.4-.3 -.3-.3 -.4-.3 -.3-.3 -.3-.2 -.4-.3 -.3-.3 -.3-.3 -.3-.3 -.3-.3 -.3-.3 -.3-.2 -.3-.3 -.3-.3 -.3-.3 -.3-.3 -.2-.3 -.3-.3 -.3-.3 -.3-.3 -.2-.2 -.3-.3 -.2-.3 -.3-.3 -.3-.3 -.3-.3 -.5 0 -.6-.1 -.7 0 -.7 0 -.8 0 -.8 0 -.8 0 -.9 0 -1 0 -1.1 0 -1.1 0 -1.2 0 -1.4 0 -1.5 0 -1.6 0 -1.7 0 -2 0 -2.2 0 -2.5 0 -2.9 0 -3.3 0 -3.8 0 -4.4 0 -1.5-.8 0-1.2 0-1.1 0-1.1 0-1.2 0-1.1 0-1.1 0-1.2 0-1.1 0-1.1z" fill="#59f873"/>
<path d="M190 248.7l0-1.1 0-1.1 0-1.1 0-1.2 0-1.1 .1-1.1 2.5-.8 3.1-.5 5.4 0 4.3 0 3.5 0 3 0 2.5 0 2.2 0 1.9 0 1.6 0 1.5 0 1.3 0 1.2 0 1.1 0 .9 0 .8-.1 .7-.1 .6-.1 .6 0 .5-.1 .4-.2 .2-.2 .2-.3 .3-.2 .2-.2 .3-.2 .3-.2 .2-.2 .3-.2 .3-.2 .3-.2 .3-.2 .2-.1 .3-.2 .3-.2 .3-.1 .2-.2 .3-.2 .3-.1 .2-.2 .3-.1 .3-.2 .2-.1 .3-.2 .3-.1 .3-.2 .2-.2 .3-.1 .3-.2 .2-.1 .3-.2 .3-.1 .3-.2 .2-.1 .3-.2 .3-.2 .3-.1 .3-.2 .3-.1 .3-.2 .3-.2 .3-.2 .3-.1 .3-.2 .3-.2 .4-.2 .3-.2 .3-.2 .4-.1 .4-.2 .3-.3 .4-.2 .4-.2 .4-.2 .4-.2 .4-.3 .5-.2 .4-.3 .5-.3 .5-.3 .5-.2 .5-.4 .6-.3 .6-.3 .6-.4 .6-.3 .7-.4 .7-.4 .7-.4 .8-.5 .8-.5 .9-.5 1-.5 1-.5 1-.6 1.2-.6 1.2-.7 1.3-.7 1.4-.7 1.5-.7 1.6-.8 1.6-.7 1.8-.8 1.8-.7 2-.8 2.1-.8 2.2-.7 2.2-.7 2.4-.7 2.4-.6 2.4-.5 2.4-.4 2.3-.1 2.3-.1 2.2 .1 2.3 .2 2.4 .1 2.4 .3 2.5 .3 2.5 .3 2.4 .5 2.5 .6 2.2 .8 1.9 1 1.8 1.1 1.7 1.2 1.5 1.4 1.3 1.4 1.2 1.5 1 1.6 .8 1.7 .6 1.7 .6 1.7 .5 1.8 .4 1.8 .4 1.8 .3 1.8 .3 1.9 .3 1.8 .2 1.8 .3 1.9 .2 1.8 .2 1.8 .2 1.9 .2 1.9 .3 1.8 .2 1.9 .2 1.9 .3 2 .1 1.9 .2 1.9 0 2 0 1.9 -.2 2 -.3 1.9 -.4 1.8 -.7 1.9 -.7 1.8 -.8 1.7 -.9 1.8 -1.1 1.6 -1.3 1.5 -1.7 1.3 -2 1.2 -2.1 1.1 -2.1 .9 -2.2 .9 -2.3 .7 -2.4 .6 -2.5 .5 -2.5 .3 -2.6 .2 -2.7 0 -2.6-.1 -2.7-.2 -2.6-.3 -2.5-.3 -2.5-.4 -2.3-.3 -2.2-.4 -2.1-.4 -2-.4 -1.9-.4 -1.8-.4 -1.7-.4 -1.7-.4 -1.6-.4 -1.5-.4 -1.4-.4 -1.4-.4 -1.4-.4 -1.3-.4 -1.2-.4 -1.2-.4 -1.1-.4 -1.1-.5 -1.1-.4 -1-.4 -1-.4 -1-.4 -.9-.5 -.9-.4 -.8-.4 -.8-.4 -.8-.4 -.8-.4 -.7-.4 -.7-.3 -.7-.4 -.7-.4 -.6-.3 -.6-.4 -.6-.3 -.6-.4 -.6-.3 -.5-.3 -.6-.3 -.5-.3 -.5-.4 -.5-.3 -.5-.2 -.4-.3 -.5-.3 -.5-.3 -.4-.3 -.4-.3 -.4-.3 -.5-.2 -.4-.3 -.4-.3 -.3-.3 -.4-.3 -.4-.2 -.4-.3 -.3-.3 -.4-.3 -.3-.2 -.4-.3 -.3-.3 -.3-.3 -.4-.2 -.3-.3 -.3-.3 -.3-.3 -.3-.2 -.3-.3 -.3-.3 -.3-.3 -.3-.3 -.3-.3 -.3-.3 -.2-.3 -.3-.3 -.3-.3 -.2-.3 -.3-.3 -.2-.3 -.3-.3 -.2-.3 -.3-.2 -.5-.1 -.5-.1 -.7 0 -.7 0 -.7 0 -.8 0 -.9 0 -.9 0 -.9 0 -1.1 0 -1.1 0 -1.2 0 -1.3 0 -1.5 0 -1.6 0 -1.7 0 -2 0 -2.2 0 -2.4 0 -2.8 0 -3.3 0 -3.7 0 -4.4 0 -2.2-.7 0-1.2 0-1.1 0-1.1 0-1.2 0-1.1 0-1.1 0-1.2 0-1.1 0-1.1z" fill="#5bf85c"/>
<path d="M190 248.7l0-1.1 0-1.1 0-1.1 0-1.2 0-1.1 .1-1.1 3.8-.6 3.8-.4 5.1 0 4.2 0 3.4 0 2.8 0 2.4 0 2.1 0 1.8 0 1.6 0 1.4 0 1.3 0 1.1 0 1 0 .9 0 .7-.1 .6-.1 .5-.1 .5-.1 .5-.1 .3-.2 .2-.3 .3-.2 .2-.2 .3-.2 .3-.2 .2-.2 .3-.2 .3-.2 .3-.2 .2-.1 .3-.2 .3-.2 .3-.1 .2-.2 .3-.2 .3-.1 .2-.2 .3-.1 .2-.2 .3-.1 .3-.2 .2-.1 .3-.2 .3-.1 .2-.2 .3-.1 .2-.2 .3-.1 .3-.2 .2-.1 .3-.2 .3-.1 .3-.2 .2-.1 .3-.2 .3-.2 .3-.1 .3-.2 .3-.1 .2-.2 .3-.2 .3-.1 .4-.2 .3-.2 .3-.2 .3-.1 .4-.2 .3-.2 .4-.2 .3-.2 .4-.2 .4-.2 .3-.3 .4-.2 .5-.2 .4-.3 .4-.2 .5-.3 .5-.2 .5-.3 .5-.3 .5-.3 .6-.3 .6-.3 .6-.4 .6-.4 .7-.3 .7-.4 .8-.4 .8-.5 .8-.4 .9-.5 1-.5 1-.6 1.1-.6 1.1-.6 1.3-.6 1.3-.7 1.4-.7 1.5-.7 1.6-.7 1.7-.7 1.8-.8 1.9-.8 2-.7 2.2-.8 2.2-.7 2.2-.6 2.4-.6 2.3-.4 2.3-.4 2.2-.1 2.1 0 2.1 .1 2.2 .1 2.2 .2 2.3 .2 2.4 .4 2.3 .3 2.4 .5 2.2 .6 2.2 .8 1.9 .9 1.7 1.1 1.6 1.1 1.5 1.3 1.4 1.3 1.1 1.5 1 1.5 .8 1.6 .7 1.6 .6 1.7 .5 1.7 .5 1.7 .4 1.7 .3 1.8 .3 1.8 .3 1.7 .2 1.8 .2 1.8 .2 1.7 .2 1.8 .2 1.8 .2 1.8 .2 1.8 .2 1.8 .2 1.9 .2 1.8 .2 1.9 .1 1.8 0 1.9 0 1.9 -.1 1.8 -.3 1.9 -.5 1.8 -.6 1.8 -.7 1.7 -.9 1.6 -.9 1.7 -1.1 1.5 -1.4 1.4 -1.6 1.3 -1.8 1.2 -2 1 -2 .9 -2.1 .8 -2.2 .7 -2.3 .6 -2.4 .5 -2.4 .3 -2.5 .2 -2.6 0 -2.5-.1 -2.6-.2 -2.5-.2 -2.4-.4 -2.4-.3 -2.2-.4 -2.1-.3 -2-.4 -1.9-.4 -1.9-.4 -1.7-.3 -1.7-.4 -1.5-.4 -1.6-.4 -1.4-.3 -1.4-.4 -1.3-.4 -1.3-.4 -1.2-.3 -1.2-.4 -1.2-.4 -1.1-.4 -1-.3 -1-.4 -1-.4 -.9-.4 -1-.3 -.8-.4 -.9-.4 -.8-.4 -.8-.3 -.7-.4 -.8-.3 -.7-.4 -.7-.3 -.6-.4 -.7-.3 -.6-.3 -.6-.3 -.6-.4 -.6-.3 -.5-.3 -.6-.3 -.5-.3 -.5-.3 -.5-.3 -.5-.2 -.5-.3 -.4-.3 -.5-.3 -.4-.3 -.5-.2 -.4-.3 -.4-.3 -.4-.2 -.4-.3 -.4-.3 -.4-.2 -.4-.3 -.4-.3 -.3-.2 -.4-.3 -.4-.2 -.3-.3 -.3-.3 -.4-.2 -.3-.3 -.4-.3 -.3-.2 -.3-.3 -.3-.3 -.3-.2 -.3-.3 -.3-.3 -.3-.3 -.3-.3 -.3-.3 -.3-.3 -.2-.2 -.3-.4 -.3-.3 -.2-.3 -.2-.3 -.3-.3 -.2-.3 -.3-.3 -.2-.3 -.4-.2 -.5-.1 -.6 0 -.7 0 -.8 0 -.8 0 -.8 0 -.9 0 -.9 0 -1.1 0 -1.1 0 -1.2 0 -1.3 0 -1.4 0 -1.6 0 -1.7 0 -1.9 0 -2.2 0 -2.4 0 -2.8 0 -3.2 0 -3.7 0 -4.3 0 -2.9-.5 0-1.2 0-1.1 0-1.1 0-1.2 0-1.1 0-1.1 0-1.2 0-1.1 0-1.1z" fill="#5df849"/>
<path d="M190 248.7l0-1.1 0-1.1 0-1.1 0-1.2 0-1.1 .1-1.1 5.1-.4 4.4-.3 5 0 3.9 0 3.3 0 2.7 0 2.3 0 2 0 1.7 0 1.5 0 1.4 0 1.2 0 1.1 0 1 0 .8 0 .6-.1 .4-.2 .5-.1 .4-.2 .4-.1 .3-.2 .3-.2 .3-.2 .2-.2 .3-.2 .2-.2 .3-.2 .3-.2 .3-.2 .2-.1 .3-.2 .3-.1 .2-.2 .3-.2 .3-.1 .2-.2 .3-.1 .2-.2 .3-.1 .3-.2 .2-.1 .3-.2 .2-.1 .3-.2 .2-.1 .3-.2 .2-.1 .3-.1 .3-.2 .2-.1 .3-.2 .2-.1 .3-.2 .3-.1 .2-.2 .3-.1 .3-.2 .3-.1 .2-.2 .3-.2 .3-.1 .3-.2 .3-.1 .3-.2 .3-.2 .3-.2 .3-.1 .4-.2 .3-.2 .3-.2 .4-.2 .3-.2 .4-.2 .4-.2 .4-.2 .4-.2 .4-.3 .4-.2 .5-.3 .4-.2 .5-.3 .5-.2 .5-.3 .6-.3 .5-.3 .6-.4 .7-.3 .6-.3 .7-.4 .7-.4 .8-.4 .8-.4 .8-.5 .9-.4 1-.6 1-.5 1.1-.6 1.2-.5 1.3-.7 1.3-.6 1.5-.7 1.5-.7 1.6-.7 1.8-.8 1.8-.7 2-.8 2.1-.7 2.1-.7 2.2-.6 2.2-.6 2.2-.4 2.2-.3 2.1-.1 2 0 2.1 .1 2 .2 2.1 .2 2.2 .2 2.2 .4 2.2 .3 2.2 .5 2.1 .6 2.1 .7 1.8 .9 1.7 1 1.6 1.1 1.5 1.2 1.3 1.3 1.1 1.3 1 1.5 .9 1.5 .7 1.5 .7 1.6 .5 1.7 .5 1.6 .4 1.7 .3 1.7 .3 1.6 .2 1.7 .2 1.7 .2 1.8 .2 1.7 .2 1.7 .1 1.7 .2 1.7 .2 1.8 .2 1.7 .2 1.8 .1 1.7 .2 1.8 .1 1.8 .1 1.8 -.1 1.8 -.1 1.8 -.2 1.8 -.5 1.7 -.6 1.7 -.7 1.7 -.9 1.6 -1 1.5 -1.1 1.4 -1.4 1.4 -1.6 1.2 -1.7 1.1 -1.8 1 -2 .9 -1.9 .8 -2.1 .7 -2.2 .6 -2.3 .4 -2.3 .3 -2.4 .2 -2.5 0 -2.4-.1 -2.5-.2 -2.4-.2 -2.3-.3 -2.3-.4 -2.1-.3 -2.1-.4 -1.9-.3 -1.8-.4 -1.8-.4 -1.6-.3 -1.6-.4 -1.5-.3 -1.5-.3 -1.3-.4 -1.4-.3 -1.2-.4 -1.2-.3 -1.2-.4 -1.1-.3 -1.1-.3 -1.1-.4 -1-.3 -.9-.3 -1-.4 -.9-.3 -.8-.3 -.9-.4 -.8-.3 -.8-.3 -.7-.4 -.7-.3 -.8-.3 -.6-.3 -.7-.3 -.7-.3 -.6-.3 -.6-.3 -.6-.3 -.6-.3 -.5-.3 -.6-.3 -.5-.2 -.5-.3 -.5-.3 -.5-.3 -.5-.2 -.5-.3 -.4-.3 -.5-.2 -.4-.3 -.4-.2 -.5-.3 -.4-.3 -.4-.2 -.4-.3 -.4-.2 -.4-.3 -.4-.2 -.3-.3 -.4-.2 -.4-.3 -.3-.2 -.4-.3 -.3-.2 -.4-.3 -.3-.2 -.3-.3 -.4-.2 -.3-.3 -.3-.3 -.3-.2 -.4-.3 -.3-.3 -.2-.3 -.3-.2 -.3-.3 -.3-.3 -.3-.3 -.2-.3 -.3-.4 -.2-.3 -.2-.3 -.3-.3 -.2-.3 -.2-.4 -.2-.3 -.4-.2 -.4-.2 -.6 0 -.7 0 -.7 0 -.8 0 -.8 0 -.9 0 -.9 0 -1.1 0 -1.1 0 -1.1 0 -1.3 0 -1.4 0 -1.6 0 -1.7 0 -1.9 0 -2.1 0 -2.4 0 -2.7 0 -3.2 0 -3.6 0 -4.3 0 -3.6-.3 0-1.2 0-1.1 0-1.1 0-1.2 0-1.1 0-1.1 0-1.2 0-1.1 0-1.1z" fill="#5ef73c"/>
<path d="M190 248.7l0-1.1 0-1.1 0-1.1 0-1.2 0-1.1 .1-1.1 6.4-.2 5.1-.1 4.7 0 3.8 0 3.1 0 2.6 0 2.2 0 1.9 0 1.7 0 1.4 0 1.3 0 1.1 0 1.1 0 .9 0 .9 0 .4-.2 .3-.2 .4-.2 .3-.2 .4-.1 .3-.2 .2-.2 .3-.2 .3-.2 .2-.2 .3-.2 .3-.2 .3-.1 .2-.2 .3-.2 .3-.1 .2-.2 .3-.1 .2-.2 .3-.1 .3-.2 .2-.1 .3-.2 .2-.1 .3-.2 .2-.1 .3-.2 .2-.1 .3-.1 .2-.2 .3-.1 .2-.2 .3-.1 .2-.2 .3-.1 .2-.1 .3-.2 .2-.1 .3-.2 .2-.1 .3-.2 .3-.1 .2-.2 .3-.1 .3-.2 .3-.1 .3-.2 .2-.2 .3-.1 .3-.2 .3-.2 .4-.1 .3-.2 .3-.2 .3-.2 .4-.2 .3-.1 .4-.2 .3-.2 .4-.2 .4-.3 .4-.2 .4-.2 .5-.2 .4-.3 .5-.2 .5-.3 .5-.3 .5-.2 .5-.3 .6-.3 .6-.3 .6-.4 .7-.3 .7-.3 .7-.4 .7-.4 .9-.4 .8-.5 .9-.4 1-.5 1.1-.5 1.1-.6 1.2-.6 1.3-.6 1.3-.6 1.5-.7 1.6-.7 1.7-.7 1.8-.8 1.9-.7 2-.8 2.1-.6 2.1-.6 2.1-.5 2.1-.4 2-.3 2-.1 2 .1 1.9 .1 1.9 .1 2 .3 2 .2 2.1 .4 2 .4 2.1 .4 2 .6 1.9 .7 1.9 .8 1.6 .9 1.6 1.1 1.4 1.1 1.3 1.2 1.1 1.3 1 1.4 .9 1.4 .8 1.5 .7 1.5 .6 1.5 .5 1.6 .4 1.6 .3 1.6 .3 1.6 .2 1.7 .2 1.6 .2 1.7 .1 1.6 .1 1.6 .2 1.7 .1 1.7 .2 1.6 .1 1.7 .2 1.7 .2 1.7 .1 1.7 .1 1.7 .1 1.8 0 1.7 -.1 1.7 -.3 1.7 -.4 1.7 -.6 1.6 -.7 1.6 -.9 1.5 -1 1.4 -1.2 1.4 -1.4 1.2 -1.5 1.2 -1.7 1.1 -1.7 .9 -1.8 .9 -1.8 .8 -2 .7 -2.1 .5 -2.2 .4 -2.2 .3 -2.3 .2 -2.4 0 -2.3-.1 -2.4-.2 -2.3-.2 -2.2-.3 -2.2-.3 -2-.4 -2-.3 -1.8-.4 -1.8-.3 -1.7-.3 -1.6-.4 -1.5-.3 -1.4-.3 -1.4-.3 -1.3-.4 -1.2-.3 -1.2-.3 -1.2-.3 -1.1-.3 -1.1-.3 -1-.3 -1-.3 -.9-.3 -.9-.3 -.9-.3 -.9-.3 -.8-.2 -.8-.3 -.8-.3 -.7-.3 -.8-.3 -.7-.3 -.6-.2 -.7-.3 -.6-.3 -.7-.3 -.6-.2 -.6-.3 -.5-.3 -.6-.2 -.6-.3 -.5-.3 -.5-.2 -.5-.3 -.5-.2 -.5-.3 -.5-.2 -.4-.3 -.5-.2 -.4-.3 -.5-.2 -.4-.3 -.4-.2 -.4-.3 -.5-.2 -.4-.2 -.3-.3 -.4-.2 -.4-.2 -.4-.3 -.4-.2 -.3-.3 -.4-.2 -.4-.2 -.3-.3 -.4-.2 -.3-.3 -.3-.2 -.4-.2 -.3-.3 -.3-.2 -.4-.3 -.3-.3 -.3-.2 -.3-.3 -.3-.3 -.2-.3 -.3-.3 -.3-.3 -.2-.3 -.3-.4 -.2-.3 -.2-.3 -.2-.3 -.2-.4 -.3-.3 -.2-.3 -.2-.3 -.4-.2 -.6 0 -.7 0 -.7 0 -.8 0 -.8 0 -.8 0 -1 0 -1 0 -1 0 -1.2 0 -1.3 0 -1.4 0 -1.5 0 -1.7 0 -1.8 0 -2.1 0 -2.4 0 -2.7 0 -3.1 0 -3.6 0 -4.2 0 -4.3-.2 0-1.2 0-1.1 0-1.1 0-1.2 0-1.1 0-1.1 0-1.2 0-1.1 0-1.1z" fill="#5ff62f"/>
<path d="M190 248.7l0-1.1 0-1.1 0-1.1 0-1.2 0-1.1 .2-1.1 7.6 0 5.8 0 4.5 0 3.6 0 2.9 0 2.5 0 2.1 0 1.8 0 1.6 0 1.4 0 1.2 0 1.1 0 1 0 .9 0 .8 0 .3-.2 .2-.2 .3-.3 .3-.2 .2-.2 .3-.2 .3-.2 .3-.2 .2-.1 .3-.2 .3-.2 .3-.2 .2-.1 .3-.2 .3-.1 .2-.2 .3-.1 .2-.2 .3-.1 .2-.2 .3-.1 .2-.2 .3-.1 .2-.1 .3-.2 .2-.1 .3-.1 .2-.2 .2-.1 .3-.2 .2-.1 .3-.1 .2-.2 .3-.1 .2-.2 .3-.1 .2-.1 .3-.2 .2-.1 .3-.2 .2-.1 .3-.2 .2-.1 .3-.1 .3-.2 .2-.2 .3-.1 .3-.2 .3-.1 .3-.2 .3-.1 .3-.2 .3-.2 .3-.2 .3-.1 .4-.2 .3-.2 .3-.2 .4-.2 .4-.2 .3-.2 .4-.2 .4-.2 .5-.2 .4-.3 .4-.2 .5-.2 .5-.3 .5-.2 .5-.3 .6-.3 .5-.3 .6-.3 .7-.3 .6-.3 .7-.3 .7-.4 .8-.4 .8-.4 .9-.4 .9-.4 1-.5 1-.5 1.2-.5 1.2-.6 1.3-.6 1.4-.7 1.5-.6 1.7-.8 1.7-.7 1.9-.8 1.9-.7 2-.7 2-.5 2.1-.5 1.9-.4 2-.2 1.8 0 1.9 0 1.8 .1 1.8 .2 1.9 .2 1.9 .3 1.9 .4 1.9 .4 1.9 .4 1.9 .6 1.8 .7 1.8 .7 1.7 .9 1.5 .9 1.3 1.1 1.3 1.2 1.1 1.2 1.1 1.3 .9 1.3 .8 1.4 .7 1.4 .7 1.5 .5 1.5 .4 1.5 .3 1.6 .3 1.5 .2 1.6 .2 1.6 .1 1.5 .1 1.6 .1 1.6 .1 1.6 .1 1.6 .2 1.6 .1 1.6 .2 1.6 .1 1.6 .1 1.7 .1 1.6 .1 1.7 0 1.6 -.1 1.7 -.2 1.6 -.4 1.6 -.6 1.6 -.7 1.5 -.9 1.4 -1.1 1.3 -1.3 1.3 -1.3 1.2 -1.5 1.1 -1.5 1 -1.6 1 -1.7 .8 -1.7 .8 -1.9 .6 -2 .6 -2.1 .4 -2.1 .2 -2.2 .2 -2.3 0 -2.2-.1 -2.3-.1 -2.2-.3 -2.1-.3 -2.1-.3 -1.9-.3 -1.9-.3 -1.8-.4 -1.7-.3 -1.6-.3 -1.5-.4 -1.4-.3 -1.4-.3 -1.3-.2 -1.2-.3 -1.2-.3 -1.1-.3 -1.1-.2 -1.1-.3 -1-.3 -.9-.2 -1-.3 -.9-.2 -.9-.3 -.8-.2 -.8-.3 -.8-.2 -.7-.3 -.8-.2 -.7-.3 -.7-.2 -.7-.3 -.6-.2 -.7-.2 -.6-.3 -.6-.2 -.6-.3 -.6-.2 -.5-.2 -.6-.3 -.5-.2 -.5-.3 -.5-.2 -.5-.2 -.5-.3 -.5-.2 -.5-.2 -.4-.3 -.5-.2 -.4-.2 -.5-.3 -.4-.2 -.4-.2 -.4-.2 -.4-.3 -.4-.2 -.4-.2 -.4-.2 -.4-.3 -.4-.2 -.3-.2 -.4-.2 -.4-.3 -.3-.2 -.4-.2 -.3-.3 -.4-.2 -.3-.2 -.4-.2 -.3-.3 -.3-.2 -.4-.3 -.3-.2 -.3-.3 -.3-.3 -.3-.3 -.2-.3 -.3-.3 -.3-.3 -.2-.3 -.2-.4 -.3-.3 -.2-.3 -.2-.4 -.2-.3 -.2-.4 -.2-.3 -.2-.3 -.3-.3 -.6 0 -.7 0 -.7 0 -.7 0 -.8 0 -.9 0 -.9 0 -1 0 -1 0 -1.2 0 -1.2 0 -1.4 0 -1.5 0 -1.6 0 -1.9 0 -2 0 -2.4 0 -2.6 0 -3.1 0 -3.5 0 -4.2 0 -5 0 0-1.2 0-1.1 0-1.1 0-1.2 0-1.1 0-1.1 0-1.2 0-1.1 0-1.1z" fill="#62f627"/>
<path d="M190 248.7l0-1.1 0-1.1 0-1.1 0-1.2 1.4-.9 1.4-1 7.3 0 5.5 0 4.2 0 3.4 0 2.9 0 2.3 0 2 0 1.7 0 1.5 0 1.2 0 1.1 0 .9-.1 .9 0 .8-.1 .7 0 .3-.2 .3-.2 .2-.2 .3-.3 .3-.2 .2-.2 .3-.1 .3-.2 .2-.2 .3-.2 .3-.1 .2-.2 .3-.2 .3-.1 .2-.2 .3-.1 .2-.2 .3-.1 .2-.2 .3-.1 .2-.1 .3-.2 .2-.1 .3-.2 .2-.1 .2-.1 .3-.2 .2-.1 .3-.1 .2-.2 .2-.1 .3-.1 .2-.2 .3-.1 .2-.1 .2-.2 .3-.1 .2-.2 .3-.1 .2-.1 .3-.2 .2-.1 .3-.2 .3-.1 .2-.2 .3-.1 .3-.1 .2-.2 .3-.2 .3-.1 .3-.2 .3-.1 .3-.2 .3-.2 .3-.1 .3-.2 .4-.2 .3-.2 .4-.2 .3-.2 .4-.2 .4-.2 .4-.2 .4-.2 .4-.2 .5-.3 .4-.2 .5-.2 .5-.3 .5-.3 .5-.2 .6-.3 .6-.3 .6-.3 .6-.3 .7-.4 .7-.3 .8-.4 .8-.4 .8-.4 .9-.4 1-.5 1-.4 1.1-.5 1.2-.6 1.2-.5 1.4-.6 1.4-.6 1.6-.7 1.6-.6 1.7-.7 1.8-.6 1.9-.6 1.9-.5 1.9-.4 1.8-.3 1.8-.2 1.8 0 1.8 0 1.7 .1 1.7 .2 1.8 .2 1.9 .3 1.8 .3 1.9 .4 1.8 .4 1.8 .5 1.8 .6 1.7 .8 1.7 .8 1.5 .9 1.3 1 1.2 1.1 1.2 1.1 1 1.3 .9 1.3 .8 1.3 .7 1.4 .6 1.4 .5 1.4 .5 1.5 .3 1.5 .3 1.5 .2 1.5 .2 1.5 .2 1.5 .1 1.5 .1 1.6 .1 1.5 .1 1.5 .1 1.6 .1 1.5 .1 1.6 0 1.5 .1 1.6 0 1.6 0 1.6 -.1 1.5 -.2 1.6 -.3 1.5 -.5 1.5 -.6 1.5 -.8 1.4 -1 1.3 -1 1.3 -1.3 1.2 -1.3 1.1 -1.4 1 -1.5 1 -1.5 .9 -1.6 .8 -1.7 .7 -1.8 .6 -1.9 .5 -1.9 .4 -2.1 .2 -2.1 .1 -2.1 .1 -2.1-.1 -2.1-.1 -2-.2 -2.1-.2 -1.9-.3 -1.8-.3 -1.8-.3 -1.6-.3 -1.6-.3 -1.5-.3 -1.4-.2 -1.4-.3 -1.3-.3 -1.2-.2 -1.2-.3 -1.1-.2 -1.1-.3 -1-.2 -1-.2 -1-.3 -.9-.2 -.9-.3 -.8-.2 -.9-.2 -.8-.3 -.8-.2 -.7-.3 -.7-.2 -.7-.2 -.7-.3 -.7-.2 -.7-.2 -.6-.2 -.6-.3 -.6-.2 -.6-.2 -.6-.3 -.5-.2 -.5-.2 -.6-.2 -.5-.3 -.5-.2 -.5-.2 -.5-.3 -.4-.2 -.5-.2 -.5-.2 -.4-.3 -.4-.2 -.5-.2 -.4-.2 -.4-.2 -.4-.3 -.4-.2 -.4-.2 -.4-.2 -.3-.2 -.4-.2 -.4-.2 -.4-.3 -.3-.2 -.4-.2 -.3-.2 -.4-.2 -.3-.2 -.4-.3 -.3-.2 -.3-.2 -.4-.2 -.3-.2 -.3-.3 -.3-.2 -.4-.3 -.2-.2 -.3-.3 -.3-.3 -.3-.2 -.3-.3 -.2-.3 -.3-.3 -.2-.3 -.2-.4 -.3-.3 -.2-.3 -.2-.3 -.2-.3 -.2-.4 -.2-.3 -.2-.2 -.6-.1 -.6 0 -.6-.1 -.7 0 -.7-.1 -.7 0 -.8 0 -.9-.1 -1 0 -1.1 0 -1.2 0 -1.3 0 -1.4 0 -1.6 0 -1.7 0 -2 0 -2.2 0 -2.5 0 -2.9 0 -3.3 0 -4 0 -4.7 0 -.7-.9 -.9-1 -1.1-1 -.1-1.1 0-1.1 0-1.1 0-1.2 0-1.1 0-1.1z" fill="#65f526"/>
<path d="M190 248.7l0-1.1 0-1.1 0-1.1 0-1.2 2.8-.8 2.6-.7 6.9 0 5.2 0 4.1 0 3.2 0 2.7 0 2.2 0 1.9 0 1.6 0 1.4 0 1.1-.1 .9-.1 .8-.1 .7 0 .7-.1 .6-.1 .3-.2 .3-.2 .2-.2 .3-.2 .3-.2 .2-.2 .3-.2 .3-.2 .2-.2 .3-.1 .3-.2 .2-.1 .3-.2 .2-.2 .3-.1 .2-.2 .3-.1 .2-.1 .3-.2 .2-.1 .3-.2 .2-.1 .3-.1 .2-.2 .2-.1 .3-.1 .2-.2 .2-.1 .3-.1 .2-.2 .2-.1 .3-.1 .2-.2 .2-.1 .3-.1 .2-.2 .3-.1 .2-.1 .2-.2 .3-.1 .2-.1 .3-.2 .2-.1 .3-.2 .3-.1 .2-.1 .3-.2 .3-.1 .2-.2 .3-.1 .3-.2 .3-.2 .3-.1 .3-.2 .3-.1 .3-.2 .4-.2 .3-.2 .3-.2 .4-.2 .4-.1 .3-.3 .4-.2 .4-.2 .4-.2 .5-.2 .4-.3 .5-.2 .5-.2 .5-.3 .5-.3 .5-.3 .6-.2 .6-.3 .7-.4 .6-.3 .7-.3 .8-.4 .7-.4 .9-.3 .9-.5 .9-.4 1-.5 1-.4 1.2-.5 1.2-.6 1.2-.5 1.4-.5 1.4-.6 1.6-.6 1.6-.5 1.7-.6 1.7-.5 1.7-.4 1.8-.3 1.7-.3 1.7-.1 1.7-.1 1.6 .1 1.7 .1 1.7 .1 1.7 .2 1.8 .3 1.7 .3 1.8 .3 1.8 .5 1.8 .5 1.7 .5 1.7 .7 1.6 .8 1.4 .8 1.4 1 1.2 1 1.1 1.1 1 1.2 .9 1.2 .7 1.3 .7 1.3 .7 1.4 .5 1.3 .4 1.4 .4 1.5 .3 1.4 .3 1.5 .2 1.4 .1 1.5 .2 1.5 .1 1.4 .1 1.5 0 1.5 .1 1.5 0 1.5 .1 1.4 0 1.5 0 1.5 -.1 1.5 -.2 1.5 -.2 1.5 -.2 1.5 -.4 1.4 -.6 1.4 -.7 1.4 -.8 1.3 -1 1.2 -1 1.2 -1.3 1.1 -1.2 1.1 -1.4 .9 -1.4 .9 -1.5 .9 -1.5 .7 -1.6 .7 -1.7 .6 -1.8 .4 -1.9 .4 -1.9 .2 -2 .1 -2 .1 -1.9-.1 -2-.1 -1.9-.1 -1.9-.2 -1.8-.3 -1.7-.2 -1.6-.3 -1.6-.2 -1.5-.2 -1.4-.3 -1.3-.2 -1.2-.3 -1.3-.2 -1.1-.2 -1.1-.2 -1.1-.2 -1-.3 -1-.2 -.9-.2 -.9-.2 -.9-.2 -.9-.3 -.8-.2 -.8-.2 -.8-.2 -.7-.2 -.7-.3 -.7-.2 -.7-.2 -.7-.2 -.6-.2 -.6-.2 -.6-.3 -.6-.2 -.6-.2 -.6-.2 -.5-.2 -.6-.3 -.5-.2 -.5-.2 -.5-.2 -.5-.2 -.4-.3 -.5-.2 -.5-.2 -.4-.2 -.4-.2 -.5-.2 -.4-.3 -.4-.2 -.4-.2 -.4-.2 -.4-.2 -.4-.2 -.3-.2 -.4-.2 -.4-.2 -.3-.2 -.4-.2 -.4-.2 -.3-.2 -.4-.2 -.3-.2 -.3-.3 -.4-.2 -.3-.2 -.3-.2 -.4-.2 -.3-.2 -.3-.2 -.3-.2 -.3-.3 -.3-.2 -.3-.2 -.3-.3 -.3-.2 -.3-.3 -.2-.3 -.3-.2 -.2-.3 -.3-.3 -.2-.3 -.2-.3 -.2-.3 -.3-.3 -.2-.3 -.2-.3 -.2-.3 -.2-.3 -.5-.1 -.5-.1 -.6 0 -.6-.1 -.6-.1 -.6-.1 -.7-.1 -.7-.1 -1 0 -1 0 -1.1 0 -1.3 0 -1.3 0 -1.5 0 -1.6 0 -1.9 0 -2.1 0 -2.4 0 -2.7 0 -3.2 0 -3.7 0 -4.5 0 -1.4-.7 -1.7-.8 -2.3-.8 -.1-1.1 0-1.1 0-1.1 0-1.2 0-1.1 0-1.1z" fill="#68f425"/>
<path d="M190 248.7l0-1.1 0-1.1 0-1.1 0-1.2 4.2-.6 3.9-.6 6.5 0 4.9 0 3.8 0 3.1 0 2.5 0 2.1 0 1.8 0 1.5 0 1.4 0 .9-.1 .7-.1 .7-.1 .6-.1 .5-.2 .6-.1 .2-.2 .3-.2 .3-.2 .2-.2 .3-.2 .2-.2 .3-.2 .3-.1 .2-.2 .3-.2 .3-.1 .2-.2 .3-.1 .2-.2 .3-.1 .2-.2 .3-.1 .2-.2 .2-.1 .3-.2 .2-.1 .3-.1 .2-.2 .2-.1 .3-.1 .2-.2 .2-.1 .2-.1 .3-.2 .2-.1 .2-.1 .3-.1 .2-.2 .2-.1 .3-.1 .2-.2 .2-.1 .3-.1 .2-.2 .3-.1 .2-.1 .3-.1 .2-.2 .3-.1 .2-.2 .3-.1 .2-.1 .3-.2 .3-.1 .2-.2 .3-.1 .3-.2 .3-.1 .3-.2 .3-.2 .3-.1 .3-.2 .4-.2 .3-.2 .4-.1 .3-.2 .4-.2 .4-.2 .4-.2 .4-.3 .4-.2 .4-.2 .5-.2 .5-.3 .4-.3 .6-.2 .5-.3 .6-.3 .6-.3 .6-.3 .6-.3 .7-.3 .7-.4 .8-.4 .8-.3 .9-.4 .9-.5 1-.4 1-.5 1.1-.4 1.1-.5 1.2-.5 1.3-.4 1.3-.5 1.5-.5 1.4-.5 1.6-.4 1.6-.4 1.6-.4 1.6-.2 1.6-.2 1.6-.1 1.5-.1 1.6 .1 1.6 .1 1.6 .1 1.7 .2 1.6 .2 1.8 .3 1.7 .3 1.7 .4 1.7 .5 1.7 .5 1.6 .6 1.6 .7 1.4 .8 1.3 .9 1.2 1 1.1 1.1 1 1.1 .8 1.2 .8 1.2 .7 1.2 .6 1.3 .6 1.4 .4 1.3 .4 1.4 .3 1.3 .3 1.4 .2 1.4 .2 1.4 .2 1.5 .1 1.4 .1 1.4 0 1.4 0 1.5 0 1.4 0 1.4 -.1 1.4 -.1 1.5 -.2 1.4 -.2 1.4 -.3 1.4 -.4 1.4 -.5 1.3 -.6 1.4 -.7 1.2 -.9 1.2 -1 1.2 -1.1 1.1 -1.1 1 -1.3 1 -1.3 .9 -1.4 .8 -1.4 .8 -1.5 .7 -1.5 .6 -1.6 .5 -1.7 .5 -1.7 .3 -1.9 .2 -1.8 .1 -1.9 .1 -1.8 0 -1.8-.1 -1.8-.2 -1.7-.1 -1.7-.2 -1.6-.2 -1.5-.2 -1.4-.2 -1.4-.2 -1.3-.2 -1.2-.2 -1.2-.2 -1.1-.2 -1.1-.2 -1.1-.2 -1-.1 -.9-.2 -.9-.2 -.9-.2 -.9-.2 -.9-.2 -.8-.2 -.7-.2 -.8-.2 -.7-.2 -.8-.3 -.7-.2 -.6-.2 -.7-.2 -.6-.2 -.6-.2 -.6-.2 -.6-.2 -.6-.2 -.5-.2 -.6-.2 -.5-.2 -.5-.2 -.5-.3 -.5-.2 -.5-.2 -.4-.2 -.5-.2 -.4-.2 -.5-.2 -.4-.2 -.4-.2 -.4-.2 -.4-.2 -.4-.2 -.4-.2 -.4-.2 -.4-.2 -.3-.2 -.4-.2 -.4-.2 -.3-.2 -.4-.2 -.3-.2 -.4-.2 -.3-.2 -.3-.2 -.4-.2 -.3-.2 -.3-.2 -.3-.2 -.3-.2 -.4-.2 -.3-.2 -.3-.2 -.3-.2 -.3-.2 -.3-.2 -.3-.2 -.3-.3 -.2-.2 -.3-.2 -.3-.3 -.2-.3 -.3-.2 -.2-.3 -.3-.3 -.2-.3 -.2-.2 -.2-.3 -.3-.3 -.2-.3 -.2-.3 -.2-.2 -.5-.2 -.4-.1 -.5-.1 -.4-.1 -.6-.2 -.5-.1 -.6-.1 -.6-.1 -.9-.1 -.9 0 -1.1 0 -1.1 0 -1.3 0 -1.4 0 -1.6 0 -1.7 0 -2 0 -2.2 0 -2.6 0 -3 0 -3.5 0 -4.2 0 -2.1-.5 -2.7-.6 -3.3-.6 -.2-1.1 0-1.1 0-1.1 0-1.2 0-1.1 0-1.1z" fill="#6cf423"/>
<path d="M190 248.7l0-1.1 0-1.1 0-1.1 0-1.2 5.7-.5 5-.4 6.2 0 4.6 0 3.6 0 2.9 0 2.3 0 2 0 1.7 0 1.4 0 1.3 0 .7-.1 .6-.1 .5-.2 .5-.2 .5-.1 .4-.2 .3-.2 .2-.2 .3-.2 .2-.2 .3-.2 .3-.2 .2-.1 .3-.2 .2-.2 .3-.1 .2-.2 .3-.1 .2-.2 .3-.1 .2-.2 .3-.1 .2-.2 .3-.1 .2-.1 .2-.2 .3-.1 .2-.2 .2-.1 .2-.1 .3-.1 .2-.2 .2-.1 .3-.1 .2-.2 .2-.1 .2-.1 .3-.1 .2-.2 .2-.1 .3-.1 .2-.1 .2-.2 .3-.1 .2-.1 .2-.2 .3-.1 .2-.1 .3-.1 .2-.2 .3-.1 .2-.1 .3-.2 .2-.1 .3-.2 .3-.1 .2-.2 .3-.1 .3-.2 .3-.1 .3-.2 .3-.1 .3-.2 .3-.2 .4-.1 .3-.2 .4-.2 .3-.2 .4-.2 .4-.2 .4-.2 .4-.2 .4-.3 .5-.2 .4-.2 .5-.3 .5-.3 .6-.2 .5-.3 .6-.3 .6-.3 .6-.3 .7-.4 .7-.3 .8-.3 .8-.4 .8-.4 .9-.4 .9-.4 1-.5 1.1-.4 1.1-.4 1.1-.4 1.2-.4 1.2-.4 1.3-.4 1.4-.4 1.4-.4 1.4-.3 1.5-.2 1.5-.2 1.4-.2 1.5-.1 1.5 0 1.5 .1 1.5 .1 1.6 .1 1.5 .2 1.6 .2 1.7 .2 1.6 .3 1.7 .4 1.7 .4 1.6 .5 1.6 .6 1.5 .6 1.4 .8 1.3 .8 1.2 .9 1 1 1 1.1 .8 1.1 .8 1.2 .7 1.2 .6 1.2 .5 1.3 .5 1.3 .4 1.3 .3 1.3 .3 1.3 .3 1.4 .2 1.3 .1 1.4 .2 1.3 0 1.4 .1 1.4 -.1 1.3 0 1.4 -.1 1.4 -.1 1.3 -.2 1.4 -.3 1.3 -.3 1.4 -.4 1.3 -.5 1.3 -.6 1.2 -.7 1.3 -.8 1.1 -.9 1.1 -1 1.1 -1.1 1 -1.1 1 -1.2 .9 -1.3 .8 -1.3 .8 -1.4 .7 -1.4 .6 -1.4 .6 -1.5 .5 -1.7 .4 -1.6 .3 -1.7 .2 -1.7 .1 -1.8 .1 -1.7 0 -1.6-.1 -1.7-.1 -1.6-.1 -1.5-.1 -1.4-.2 -1.4-.2 -1.4-.1 -1.2-.2 -1.2-.1 -1.2-.2 -1.1-.2 -1-.1 -1-.2 -1-.1 -.9-.2 -.9-.1 -.9-.2 -.9-.2 -.8-.1 -.8-.2 -.8-.2 -.7-.2 -.7-.2 -.7-.2 -.7-.2 -.7-.2 -.6-.2 -.6-.2 -.6-.1 -.6-.2 -.6-.2 -.6-.2 -.5-.2 -.5-.2 -.6-.2 -.5-.2 -.5-.2 -.4-.2 -.5-.2 -.5-.2 -.4-.2 -.4-.2 -.5-.2 -.4-.2 -.4-.2 -.4-.2 -.4-.2 -.4-.2 -.4-.2 -.3-.2 -.4-.2 -.4-.2 -.3-.1 -.4-.2 -.3-.2 -.4-.2 -.3-.2 -.3-.2 -.4-.2 -.3-.1 -.3-.2 -.3-.2 -.3-.2 -.3-.2 -.4-.2 -.3-.2 -.3-.1 -.3-.2 -.3-.2 -.3-.2 -.3-.2 -.3-.2 -.2-.2 -.3-.3 -.3-.2 -.3-.2 -.2-.2 -.3-.3 -.2-.2 -.3-.3 -.2-.2 -.3-.3 -.2-.3 -.2-.2 -.2-.3 -.3-.3 -.2-.2 -.2-.3 -.4-.1 -.3-.2 -.4-.2 -.4-.2 -.4-.1 -.5-.2 -.4-.2 -.5-.1 -.9 0 -.9 0 -1 0 -1 0 -1.2 0 -1.3 0 -1.5 0 -1.6 0 -1.9 0 -2.1 0 -2.4 0 -2.8 0 -3.3 0 -4 0 -2.8-.4 -3.5-.4 -4.4-.4 -.3-1.1 0-1.1 0-1.1 0-1.2 0-1.1 0-1.1z" fill="#6ff322"/>
<path d="M190 248.7l0-1.1 0-1.1 0-1.1 0-1.2 7.1-.3 6.3-.2 5.7 0 4.3 0 3.4 0 2.7 0 2.2 0 1.9 0 1.6 0 1.3 0 1.2 0 .6-.2 .4-.2 .4-.2 .4-.2 .3-.2 .3-.2 .3-.2 .2-.2 .3-.2 .2-.2 .3-.1 .3-.2 .2-.2 .3-.2 .2-.1 .3-.2 .2-.1 .3-.2 .2-.1 .3-.2 .2-.1 .2-.2 .3-.1 .2-.1 .2-.2 .3-.1 .2-.1 .2-.2 .3-.1 .2-.1 .2-.2 .2-.1 .3-.1 .2-.1 .2-.2 .2-.1 .2-.1 .3-.1 .2-.2 .2-.1 .2-.1 .3-.1 .2-.2 .2-.1 .3-.1 .2-.1 .2-.2 .3-.1 .2-.1 .3-.1 .2-.2 .3-.1 .2-.1 .3-.2 .2-.1 .3-.1 .3-.2 .2-.1 .3-.2 .3-.1 .3-.2 .3-.1 .3-.2 .3-.2 .3-.1 .4-.2 .3-.2 .4-.2 .3-.2 .4-.2 .4-.2 .4-.2 .4-.2 .5-.3 .4-.2 .5-.2 .5-.3 .5-.3 .6-.2 .5-.3 .6-.3 .7-.3 .6-.4 .7-.3 .7-.3 .8-.4 .8-.4 .9-.4 .9-.4 1-.4 .9-.3 1.1-.4 1.1-.4 1.1-.3 1.1-.4 1.2-.3 1.3-.3 1.2-.2 1.3-.2 1.3-.2 1.4-.2 1.3 0 1.4-.1 1.4 0 1.4 .1 1.4 0 1.5 .2 1.5 .1 1.5 .2 1.6 .2 1.6 .3 1.6 .3 1.6 .4 1.6 .5 1.5 .5 1.5 .6 1.4 .7 1.3 .8 1.1 .9 1.1 .9 .9 1 .8 1.1 .8 1.1 .6 1.1 .6 1.2 .6 1.2 .4 1.2 .5 1.3 .3 1.2 .3 1.3 .3 1.3 .2 1.3 .2 1.3 .2 1.3 0 1.3 0 1.3 0 1.3 -.1 1.3 -.2 1.3 -.2 1.3 -.3 1.3 -.3 1.3 -.4 1.2 -.5 1.3 -.6 1.2 -.7 1.1 -.8 1.2 -.8 1 -1 1.1 -1 .9 -1.1 1 -1.1 .8 -1.2 .9 -1.2 .7 -1.3 .7 -1.2 .7 -1.4 .6 -1.4 .5 -1.4 .5 -1.5 .3 -1.6 .3 -1.6 .2 -1.6 .1 -1.6 .1 -1.5 0 -1.6 0 -1.5-.1 -1.4-.1 -1.4-.1 -1.3-.1 -1.3-.1 -1.2-.1 -1.2-.2 -1.1-.1 -1-.1 -1-.1 -1-.1 -.9-.1 -1-.2 -.8-.1 -.9-.1 -.8-.2 -.8-.1 -.8-.2 -.7-.1 -.8-.2 -.7-.2 -.6-.1 -.7-.2 -.7-.2 -.6-.2 -.6-.2 -.6-.1 -.6-.2 -.5-.2 -.6-.2 -.5-.2 -.5-.2 -.6-.1 -.4-.2 -.5-.2 -.5-.2 -.5-.2 -.4-.2 -.4-.2 -.5-.2 -.4-.2 -.4-.1 -.4-.2 -.4-.2 -.4-.2 -.4-.2 -.3-.2 -.4-.2 -.4-.1 -.3-.2 -.4-.2 -.3-.2 -.3-.1 -.4-.2 -.3-.2 -.3-.2 -.3-.1 -.4-.2 -.3-.2 -.3-.2 -.3-.1 -.3-.2 -.3-.2 -.3-.2 -.3-.2 -.3-.1 -.3-.2 -.3-.2 -.3-.2 -.2-.2 -.3-.1 -.3-.2 -.3-.2 -.3-.2 -.2-.3 -.3-.2 -.2-.2 -.3-.2 -.3-.2 -.2-.3 -.2-.2 -.3-.3 -.2-.2 -.2-.3 -.2-.2 -.3-.3 -.2-.2 -.3-.2 -.3-.2 -.3-.3 -.3-.2 -.3-.2 -.3-.2 -.4-.2 -.4-.2 -.7 0 -.9 0 -.9 0 -1 0 -1.1 0 -1.3 0 -1.3 0 -1.6 0 -1.7 0 -2 0 -2.2 0 -2.7 0 -3 0 -3.7 0 -3.5-.2 -4.4-.2 -5.6-.2 -.3-1.1 0-1.1 0-1.1 0-1.2 0-1.1 0-1.1z" fill="#72f221"/>
<path d="M190 248.7l0-1.1 0-1.1 0-1.1 0-1.2 8.5-.2 7.5 0 5.4 0 4 0 3.2 0 2.5 0 2.1 0 1.7 0 1.5 0 1.2 0 1.1 0 .5-.2 .2-.2 .3-.3 .2-.2 .2-.2 .3-.2 .2-.2 .3-.3 .2-.1 .3-.2 .2-.2 .3-.2 .2-.2 .3-.1 .2-.2 .3-.1 .2-.2 .3-.1 .2-.2 .2-.1 .3-.2 .2-.1 .2-.1 .3-.2 .2-.1 .2-.1 .2-.2 .3-.1 .2-.1 .2-.2 .2-.1 .2-.1 .3-.1 .2-.2 .2-.1 .2-.1 .2-.1 .3-.1 .2-.2 .2-.1 .2-.1 .3-.1 .2-.1 .2-.2 .2-.1 .3-.1 .2-.1 .2-.1 .3-.2 .2-.1 .3-.1 .2-.1 .2-.2 .3-.1 .3-.1 .2-.2 .3-.1 .2-.1 .3-.2 .3-.1 .3-.2 .3-.1 .3-.2 .3-.2 .3-.1 .3-.2 .4-.2 .3-.2 .4-.2 .3-.2 .4-.2 .4-.2 .4-.2 .5-.2 .4-.2 .5-.3 .5-.2 .5-.3 .5-.3 .6-.3 .5-.3 .7-.3 .6-.3 .7-.3 .7-.3 .8-.4 .8-.4 .8-.3 .9-.4 .9-.4 .9-.3 1-.3 1-.3 1.1-.3 1-.3 1.1-.2 1.1-.2 1.2-.2 1.1-.1 1.2-.1 1.2-.1 1.2 0 1.3 0 1.2 0 1.4 .1 1.3 0 1.4 .1 1.5 .2 1.4 .1 1.5 .2 1.5 .3 1.6 .3 1.5 .3 1.6 .5 1.5 .4 1.4 .6 1.4 .7 1.2 .7 1.2 .8 1 .9 .9 .9 .8 1 .7 1.1 .7 1.1 .6 1.1 .5 1.1 .5 1.2 .4 1.2 .4 1.2 .4 1.2 .3 1.2 .2 1.2 .2 1.3 .1 1.2 .1 1.3 0 1.3 -.1 1.2 -.2 1.3 -.2 1.2 -.3 1.2 -.3 1.3 -.5 1.1 -.5 1.2 -.5 1.2 -.7 1.1 -.8 1 -.8 1.1 -1 .9 -1 1 -1 .9 -1.1 .8 -1.1 .8 -1.1 .7 -1.2 .7 -1.2 .7 -1.2 .6 -1.3 .5 -1.3 .5 -1.4 .4 -1.4 .3 -1.4 .3 -1.5 .2 -1.5 .1 -1.5 .1 -1.4 0 -1.4 0 -1.3 0 -1.3-.1 -1.3 0 -1.2-.1 -1.1-.1 -1.1 0 -1.1-.1 -1-.1 -1-.1 -.9 0 -.9-.1 -.9-.1 -.8-.1 -.8-.1 -.8-.1 -.8-.1 -.7-.2 -.7-.1 -.8-.1 -.6-.2 -.7-.1 -.7-.2 -.6-.1 -.6-.2 -.6-.2 -.6-.1 -.6-.2 -.5-.2 -.6-.2 -.5-.1 -.5-.2 -.5-.2 -.5-.2 -.4-.1 -.5-.2 -.5-.2 -.4-.2 -.4-.2 -.4-.1 -.4-.2 -.4-.2 -.4-.2 -.4-.1 -.4-.2 -.4-.2 -.3-.2 -.4-.1 -.3-.2 -.4-.2 -.3-.2 -.3-.1 -.4-.2 -.3-.2 -.3-.1 -.3-.2 -.3-.2 -.3-.1 -.4-.2 -.3-.2 -.3-.1 -.2-.2 -.3-.1 -.3-.2 -.3-.2 -.3-.1 -.3-.2 -.3-.2 -.3-.2 -.2-.1 -.3-.2 -.3-.2 -.3-.2 -.2-.1 -.3-.2 -.3-.2 -.2-.2 -.3-.2 -.3-.2 -.2-.2 -.3-.2 -.2-.3 -.2-.2 -.3-.2 -.2-.3 -.2-.2 -.3-.2 -.2-.3 -.2-.2 -.2-.3 -.3-.2 -.2-.3 -.2-.2 -.2-.3 -.3-.2 -.2-.3 -.7 0 -.8 0 -.9 0 -.9 0 -1.1 0 -1.1 0 -1.3 0 -1.4 0 -1.6 0 -1.8 0 -2.1 0 -2.5 0 -2.9 0 -3.4 0 -4.2 0 -5.2 0 -6.7 0 -.4-1.1 0-1.1 0-1.1 0-1.2 0-1.1 0-1.1z" fill="#7bf220"/>
<path d="M196.7 248.7l0-1 0-.9 0-1 0-1 7.1-.2 6.3-.1 4.5 0 3.4-.1 2.6 0 2.1-.1 1.8 0 1.4 0 1.3-.1 1 0 1-.1 .4-.1 .2-.3 .2-.2 .2-.3 .3-.2 .2-.2 .2-.2 .2-.2 .3-.2 .2-.2 .3-.2 .2-.1 .2-.2 .3-.2 .2-.1 .2-.2 .3-.2 .2-.1 .2-.2 .3-.1 .2-.2 .2-.1 .2-.2 .3-.1 .2-.1 .2-.2 .2-.1 .2-.1 .2-.2 .3-.1 .2-.1 .2-.1 .2-.2 .2-.1 .2-.1 .3-.1 .2-.2 .2-.1 .2-.1 .2-.1 .3-.1 .2-.2 .2-.1 .2-.1 .3-.1 .2-.1 .2-.2 .2-.1 .3-.1 .2-.1 .3-.1 .2-.2 .3-.1 .2-.1 .3-.1 .2-.2 .3-.1 .2-.1 .3-.2 .3-.1 .3-.2 .3-.1 .3-.1 .3-.2 .3-.2 .3-.1 .3-.2 .4-.1 .3-.2 .4-.2 .4-.2 .3-.2 .4-.2 .5-.2 .4-.2 .4-.2 .5-.2 .5-.3 .5-.2 .5-.2 .6-.3 .6-.3 .6-.2 .6-.3 .7-.3 .7-.3 .7-.3 .8-.3 .8-.3 .9-.4 .8-.2 1-.3 .9-.3 .9-.2 1-.2 1-.2 1-.2 1.1-.1 1.1-.1 1.1-.1 1.1-.1 1.1 0 1.2 0 1.1 .1 1.3 0 1.2 .1 1.3 .1 1.4 .1 1.3 .2 1.4 .2 1.4 .2 1.4 .3 1.5 .4 1.4 .4 1.4 .4 1.3 .5 1.3 .6 1.2 .7 1.1 .8 1 .8 .9 .9 .8 .9 .7 1 .7 1 .6 1 .6 1.1 .5 1 .5 1.2 .4 1.1 .3 1.1 .3 1.2 .3 1.1 .2 1.2 .2 1.2 0 1.2 0 1.2 0 1.2 -.2 1.2 -.2 1.1 -.3 1.2 -.3 1.2 -.5 1.1 -.4 1.1 -.6 1.1 -.7 1 -.7 1 -.9 1 -.8 .9 -1 .9 -1 .8 -1 .8 -1.1 .8 -1.1 .7 -1.1 .6 -1.1 .6 -1.2 .6 -1.2 .5 -1.2 .5 -1.3 .4 -1.3 .3 -1.3 .2 -1.4 .2 -1.4 .1 -1.3 .1 -1.4 .1 -1.3 0 -1.2 0 -1.2 0 -1.2-.1 -1.1 0 -1.1 0 -1-.1 -1 0 -1-.1 -.9-.1 -.8 0 -.9-.1 -.8-.1 -.8 0 -.8-.1 -.7-.1 -.8-.1 -.7-.1 -.7-.2 -.6-.1 -.7-.1 -.6-.1 -.7-.2 -.6-.1 -.6-.2 -.5-.1 -.6-.2 -.5-.1 -.6-.2 -.5-.1 -.5-.2 -.5-.2 -.5-.1 -.4-.2 -.5-.1 -.4-.2 -.5-.2 -.4-.1 -.4-.2 -.4-.2 -.4-.1 -.4-.2 -.4-.2 -.3-.1 -.4-.2 -.4-.2 -.3-.1 -.4-.2 -.3-.2 -.3-.1 -.4-.2 -.3-.2 -.3-.1 -.3-.2 -.3-.1 -.3-.2 -.3-.2 -.3-.1 -.3-.2 -.3-.1 -.3-.2 -.3-.2 -.3-.1 -.3-.2 -.3-.1 -.2-.2 -.3-.2 -.3-.1 -.3-.2 -.2-.2 -.3-.1 -.3-.2 -.2-.2 -.3-.2 -.3-.2 -.2-.1 -.3-.2 -.2-.3 -.3-.2 -.2-.2 -.2-.2 -.3-.2 -.2-.2 -.3-.2 -.2-.3 -.2-.2 -.2-.2 -.2-.3 -.2-.2 -.3-.2 -.2-.3 -.2-.2 -.2-.3 -.2-.2 -.2-.3 -.2-.2 -.7-.1 -.7 0 -.7-.1 -.8 0 -.9-.1 -1 0 -1 0 -1.2-.1 -1.4 0 -1.5-.1 -1.8 0 -2-.1 -2.4 0 -2.9 0 -3.5-.1 -4.4 0 -5.6-.1 -.3-.9 0-1 0-1 0-1 0-1 0-.9z" fill="#88f220"/>
<path d="M203.4 248.7l0-.8 0-.9 .1-.8 0-.8 5.7-.3 5-.1 3.6-.1 2.7 0 2.1-.1 1.8-.1 1.4-.1 1.2-.1 1 0 .9-.1 .7-.1 .4-.2 .2-.2 .2-.3 .2-.2 .2-.2 .2-.2 .2-.3 .2-.2 .2-.2 .3-.1 .2-.2 .2-.2 .2-.2 .3-.2 .2-.1 .2-.2 .2-.1 .2-.2 .3-.2 .2-.1 .2-.2 .2-.1 .2-.2 .2-.1 .3-.1 .2-.2 .2-.1 .2-.1 .2-.2 .2-.1 .2-.1 .2-.2 .3-.1 .2-.1 .2-.2 .2-.1 .2-.1 .2-.1 .2-.1 .3-.2 .2-.1 .2-.1 .2-.1 .2-.1 .3-.2 .2-.1 .2-.1 .3-.1 .2-.1 .2-.2 .3-.1 .2-.1 .3-.1 .2-.1 .3-.2 .2-.1 .3-.1 .3-.1 .2-.2 .3-.1 .3-.1 .3-.2 .3-.1 .3-.1 .3-.2 .3-.1 .3-.2 .3-.1 .4-.2 .3-.2 .4-.1 .4-.2 .4-.2 .4-.1 .4-.2 .4-.2 .4-.2 .5-.2 .5-.2 .5-.2 .5-.2 .6-.3 .5-.2 .6-.2 .7-.3 .6-.2 .7-.3 .7-.2 .8-.3 .8-.3 .7-.2 .9-.2 .8-.2 .9-.2 .9-.2 .9-.2 1-.1 .9-.1 1-.1 1 0 1-.1 1.1 0 1.1 0 1.1 .1 1.1 .1 1.1 0 1.2 .1 1.2 .2 1.3 .2 1.3 .2 1.3 .2 1.3 .3 1.3 .3 1.3 .4 1.3 .4 1.2 .5 1.2 .5 1.2 .7 1 .7 1 .7 .9 .8 .8 .8 .7 .9 .7 1 .7 .9 .6 1 .5 1 .5 1 .4 1.1 .4 1.1 .3 1 .3 1.1 .2 1.2 .2 1.1 .1 1.1 0 1.1 -.1 1.2 -.1 1.1 -.2 1.1 -.3 1.1 -.3 1.1 -.5 1 -.4 1.1 -.6 1 -.7 1 -.7 .9 -.8 .9 -.8 .9 -.9 .8 -1 .8 -.9 .7 -1.1 .7 -1 .7 -1 .6 -1.1 .6 -1.1 .5 -1.2 .5 -1.1 .4 -1.2 .4 -1.2 .3 -1.3 .2 -1.2 .2 -1.3 .2 -1.2 .1 -1.2 .1 -1.2 0 -1.2 0 -1.1 0 -1.1 0 -1 0 -1 0 -1 0 -.9-.1 -.9 0 -.9-.1 -.8 0 -.8-.1 -.8 0 -.7-.1 -.8 0 -.7-.1 -.7-.1 -.6-.1 -.7-.1 -.6-.1 -.7-.1 -.6-.2 -.6-.1 -.5-.1 -.6-.1 -.5-.2 -.6-.1 -.5-.2 -.5-.1 -.5-.1 -.5-.2 -.5-.1 -.4-.2 -.5-.1 -.4-.2 -.4-.1 -.4-.2 -.5-.1 -.4-.2 -.4-.1 -.3-.2 -.4-.1 -.4-.2 -.3-.1 -.4-.2 -.3-.2 -.4-.1 -.3-.2 -.4-.1 -.3-.2 -.3-.1 -.3-.2 -.3-.1 -.3-.2 -.3-.1 -.3-.2 -.3-.2 -.3-.1 -.3-.2 -.3-.1 -.3-.2 -.3-.1 -.2-.2 -.3-.2 -.3-.1 -.3-.2 -.2-.1 -.3-.2 -.3-.2 -.2-.1 -.3-.2 -.2-.2 -.3-.2 -.3-.1 -.2-.2 -.3-.2 -.2-.2 -.2-.2 -.3-.2 -.2-.2 -.2-.2 -.3-.2 -.2-.2 -.2-.2 -.2-.3 -.3-.2 -.2-.2 -.2-.2 -.2-.3 -.2-.2 -.2-.3 -.2-.2 -.2-.3 -.2-.2 -.2-.2 -.2-.3 -.5-.1 -.6-.1 -.6 0 -.7-.1 -.7-.1 -.8-.1 -.9-.1 -1-.1 -1.1 0 -1.2-.1 -1.4-.1 -1.7-.1 -1.9-.1 -2.3-.1 -2.9-.1 -3.4-.1 -4.5-.1 -.3-.8 0-.8 0-.9 0-.8 0-.8 0-.9z" fill="#95f120"/>
<path d="M210.1 248.7l0-.7 .1-.7 0-.7 0-.7 4.3-.2 3.8-.1 2.7-.2 2.1-.1 1.6-.1 1.3-.2 1.1-.1 .9-.1 .8-.1 .7-.1 .6-.2 .3-.2 .2-.2 .1-.2 .2-.3 .2-.2 .2-.2 .2-.2 .2-.2 .2-.2 .2-.2 .2-.2 .2-.2 .2-.1 .2-.2 .3-.2 .2-.2 .2-.1 .2-.2 .2-.1 .2-.2 .2-.2 .2-.1 .2-.2 .2-.1 .2-.1 .2-.2 .2-.1 .3-.2 .2-.1 .2-.1 .2-.2 .2-.1 .2-.1 .2-.2 .2-.1 .2-.1 .2-.1 .3-.2 .2-.1 .2-.1 .2-.1 .2-.1 .2-.2 .3-.1 .2-.1 .2-.1 .2-.1 .3-.2 .2-.1 .3-.1 .2-.1 .2-.1 .3-.1 .2-.2 .3-.1 .2-.1 .3-.1 .3-.1 .2-.2 .3-.1 .3-.1 .3-.1 .3-.2 .2-.1 .4-.1 .3-.1 .3-.2 .3-.1 .3-.2 .4-.1 .3-.1 .4-.2 .4-.1 .4-.2 .4-.2 .4-.1 .4-.2 .4-.1 .5-.2 .5-.2 .5-.2 .5-.2 .5-.2 .6-.2 .5-.1 .6-.3 .7-.2 .6-.2 .7-.2 .7-.2 .8-.2 .7-.1 .8-.2 .8-.1 .8-.2 .8-.1 .9-.1 .9-.1 .9 0 .9-.1 .9 0 1 0 1 .1 1 0 1 .1 1.1 .1 1 .1 1.1 .2 1.2 .1 1.1 .2 1.2 .2 1.2 .3 1.2 .3 1.2 .4 1.2 .4 1.2 .4 1.1 .5 1 .6 1 .6 1 .7 .9 .7 .8 .8 .7 .8 .7 .9 .7 .8 .6 .9 .6 1 .5 .9 .5 1 .4 1 .3 1 .3 1 .3 1.1 .1 1 .1 1.1 0 1.1 0 1 -.2 1.1 -.2 1 -.2 1.1 -.4 1 -.4 1 -.4 .9 -.6 1 -.6 .9 -.7 .9 -.8 .8 -.8 .9 -.8 .7 -.9 .8 -1 .6 -.9 .7 -1 .6 -1 .6 -1 .5 -1.1 .5 -1 .4 -1.1 .4 -1.1 .4 -1.1 .3 -1.2 .3 -1.1 .2 -1.2 .1 -1.1 .1 -1.1 .1 -1.1 .1 -1.1 .1 -1 0 -1 0 -.9 0 -1 0 -.9 0 -.8 0 -.9 0 -.8-.1 -.7 0 -.8 0 -.7-.1 -.7 0 -.7-.1 -.7 0 -.7-.1 -.6-.1 -.6-.1 -.6-.1 -.6-.1 -.6-.1 -.6-.1 -.5-.1 -.5-.1 -.6-.1 -.5-.1 -.5-.2 -.5-.1 -.4-.1 -.5-.1 -.4-.2 -.5-.1 -.4-.2 -.4-.1 -.4-.1 -.4-.2 -.4-.1 -.4-.1 -.4-.2 -.4-.1 -.3-.2 -.4-.1 -.4-.2 -.3-.1 -.3-.1 -.4-.2 -.3-.1 -.3-.2 -.3-.1 -.3-.2 -.4-.1 -.3-.2 -.3-.1 -.3-.2 -.2-.1 -.3-.2 -.3-.1 -.3-.2 -.3-.1 -.3-.2 -.2-.1 -.3-.2 -.3-.1 -.2-.2 -.3-.1 -.3-.2 -.2-.2 -.3-.1 -.2-.2 -.3-.2 -.2-.1 -.3-.2 -.2-.2 -.3-.2 -.2-.1 -.2-.2 -.3-.2 -.2-.2 -.2-.2 -.2-.2 -.3-.2 -.2-.2 -.2-.2 -.2-.3 -.2-.2 -.2-.2 -.2-.2 -.2-.3 -.2-.2 -.2-.2 -.2-.3 -.2-.2 -.2-.3 -.2-.2 -.1-.2 -.5-.2 -.4-.1 -.5-.1 -.6-.1 -.5-.2 -.7-.1 -.6-.1 -.8-.1 -.9-.2 -.9-.1 -1.1-.1 -1.2-.2 -1.5-.1 -1.8-.1 -2.1-.2 -2.6-.1 -3.4-.1 -.2-.7 0-.7 0-.7 0-.7 0-.7 0-.7z" fill="#a3f120"/>
<path d="M216.8 248.7l.1-.6 0-.5 0-.6 .1-.5 2.8-.3 2.6-.1 1.8-.2 1.4-.2 1.1-.1 .9-.2 .8-.2 .6-.1 .6-.2 .5-.2 .4-.1 .3-.2 .1-.3 .2-.2 .2-.2 .1-.2 .2-.2 .2-.3 .2-.2 .2-.2 .2-.2 .2-.1 .1-.2 .2-.2 .2-.2 .2-.2 .2-.1 .2-.2 .2-.2 .2-.1 .2-.2 .2-.2 .2-.1 .2-.2 .2-.1 .2-.2 .2-.1 .2-.1 .2-.2 .2-.1 .2-.2 .2-.1 .2-.1 .2-.2 .2-.1 .3-.1 .2-.2 .2-.1 .2-.1 .2-.1 .2-.2 .2-.1 .2-.1 .3-.1 .2-.1 .2-.1 .2-.2 .3-.1 .2-.1 .2-.1 .3-.1 .2-.1 .2-.1 .3-.2 .2-.1 .3-.1 .2-.1 .3-.1 .3-.1 .2-.1 .3-.2 .3-.1 .3-.1 .2-.1 .3-.1 .3-.1 .3-.2 .3-.1 .4-.1 .3-.1 .3-.2 .4-.1 .3-.1 .4-.1 .4-.2 .3-.1 .4-.1 .4-.2 .5-.1 .4-.1 .4-.2 .5-.1 .5-.2 .5-.1 .5-.2 .5-.1 .6-.2 .6-.1 .5-.2 .7-.1 .6-.2 .7-.1 .6-.1 .7-.1 .8-.2 .7 0 .8-.1 .7-.1 .8 0 .8-.1 .9 0 .8 0 .9 .1 .9 0 .9 .1 .9 .1 1 0 .9 .2 1 .1 1.1 .2 1 .2 1.1 .2 1.1 .3 1 .2 1.1 .4 1.1 .3 1.1 .5 1 .4 1 .5 1 .6 .9 .6 .8 .7 .8 .7 .8 .7 .8 .7 .6 .8 .7 .9 .6 .8 .5 .9 .5 .9 .4 .9 .4 1 .3 .9 .3 1 .1 1 .2 1 0 1 -.1 1 -.1 1 -.2 1 -.2 .9 -.4 1 -.4 .9 -.4 .9 -.6 .9 -.6 .9 -.6 .8 -.8 .8 -.7 .7 -.9 .7 -.8 .7 -.9 .7 -.9 .6 -.9 .5 -1 .6 -1 .4 -.9 .5 -1 .4 -1 .4 -1 .3 -1.1 .3 -1 .3 -1 .2 -1.1 .2 -1 .1 -1 .1 -1 .1 -.9 .1 -1 0 -.9 .1 -.8 0 -.9 .1 -.8 0 -.8 0 -.8 0 -.8 0 -.7-.1 -.7 0 -.7 0 -.6-.1 -.7 0 -.6 0 -.6-.1 -.7-.1 -.5 0 -.6-.1 -.6-.1 -.5-.1 -.6-.1 -.5-.1 -.5-.1 -.5-.1 -.5-.1 -.4-.1 -.5-.1 -.5-.1 -.4-.1 -.4-.1 -.4-.2 -.5-.1 -.4-.1 -.4-.1 -.3-.1 -.4-.2 -.4-.1 -.4-.1 -.3-.2 -.4-.1 -.3-.1 -.4-.2 -.3-.1 -.3-.1 -.4-.2 -.3-.1 -.3-.1 -.3-.2 -.3-.1 -.3-.2 -.3-.1 -.3-.1 -.3-.2 -.3-.1 -.2-.2 -.3-.1 -.3-.2 -.3-.1 -.2-.1 -.3-.2 -.2-.1 -.3-.2 -.3-.2 -.2-.1 -.3-.2 -.2-.1 -.3-.2 -.2-.1 -.3-.2 -.2-.2 -.2-.2 -.3-.1 -.2-.2 -.2-.2 -.3-.2 -.2-.2 -.2-.1 -.2-.2 -.2-.2 -.3-.2 -.2-.2 -.2-.3 -.2-.2 -.2-.2 -.2-.2 -.2-.2 -.1-.2 -.2-.3 -.2-.2 -.2-.2 -.2-.3 -.1-.2 -.2-.2 -.2-.3 -.3-.2 -.4-.1 -.3-.2 -.4-.1 -.5-.2 -.4-.2 -.5-.1 -.5-.2 -.6-.2 -.7-.2 -.7-.1 -.9-.2 -1-.2 -1.2-.2 -1.4-.2 -1.8-.1 -2.2-.2 -.2-.6 0-.5 0-.6 0-.5 0-.6 0-.5z" fill="#b0f020"/>
<path d="M223.6 248.7l0-.4 0-.4 .1-.4 0-.4 1.5-.3 1.3-.2 .9-.2 .8-.2 .6-.3 .5-.2 .4-.2 .4-.2 .3-.2 .3-.2 .3-.2 .2-.2 .1-.2 .2-.2 .1-.3 .2-.2 .1-.2 .2-.2 .2-.2 .1-.2 .2-.2 .2-.2 .2-.2 .1-.2 .2-.2 .2-.1 .2-.2 .2-.2 .2-.2 .2-.1 .1-.2 .2-.2 .2-.1 .2-.2 .2-.1 .2-.2 .2-.1 .2-.2 .2-.1 .2-.2 .2-.1 .2-.1 .2-.2 .2-.1 .2-.1 .2-.2 .2-.1 .2-.1 .2-.2 .2-.1 .2-.1 .3-.1 .2-.1 .2-.1 .2-.2 .2-.1 .3-.1 .2-.1 .2-.1 .2-.1 .3-.2 .2-.1 .3-.1 .2-.1 .2-.1 .3-.1 .2-.1 .3-.1 .3-.1 .2-.1 .3-.1 .3-.1 .3-.2 .2-.1 .3-.1 .3-.1 .3-.1 .3-.1 .3-.1 .4-.1 .3-.1 .3-.1 .3-.1 .4-.1 .4-.1 .3-.1 .4-.1 .4-.1 .4-.1 .4-.1 .4-.2 .4-.1 .5-.1 .4-.1 .5-.1 .5-.1 .5-.1 .5-.1 .6-.1 .5-.1 .6-.1 .6-.1 .6 0 .6-.1 .6-.1 .7 0 .7-.1 .6 0 .7 0 .8 0 .7 0 .8 0 .8 .1 .8 0 .8 .1 .8 .1 .9 .1 .8 .1 .9 .2 1 .1 .9 .2 .9 .3 1 .2 1 .3 1 .3 .9 .3 1 .4 .9 .4 1 .5 .9 .5 .9 .5 .8 .6 .8 .6 .8 .7 .8 .6 .7 .8 .6 .7 .6 .8 .6 .8 .5 .8 .5 .9 .4 .9 .3 .8 .3 1 .2 .9 .1 .9 0 .9 0 1 -.1 .9 -.2 .9 -.3 .9 -.3 .9 -.4 .9 -.4 .8 -.6 .8 -.5 .8 -.7 .8 -.7 .7 -.7 .7 -.8 .7 -.8 .6 -.8 .6 -.9 .5 -.9 .5 -.8 .5 -1 .5 -.9 .4 -.9 .4 -.9 .3 -.9 .4 -1 .2 -.9 .3 -.9 .2 -1 .2 -.9 .2 -.9 .1 -.9 .1 -.8 .1 -.9 .1 -.8 .1 -.8 0 -.7 .1 -.8 0 -.7 0 -.7 .1 -.7 0 -.7 0 -.7 0 -.6-.1 -.7 0 -.6 0 -.6-.1 -.5 0 -.6-.1 -.6 0 -.5-.1 -.5 0 -.5-.1 -.6-.1 -.4-.1 -.5 0 -.5-.1 -.5-.1 -.4-.1 -.4-.1 -.5-.1 -.4-.1 -.4-.1 -.4-.1 -.4-.1 -.4-.1 -.4-.1 -.3-.1 -.4-.2 -.4-.1 -.3-.1 -.4-.1 -.3-.1 -.3-.1 -.4-.2 -.3-.1 -.3-.1 -.3-.1 -.3-.2 -.3-.1 -.3-.1 -.3-.1 -.3-.2 -.3-.1 -.3-.2 -.3-.1 -.3-.1 -.2-.2 -.3-.1 -.3-.1 -.2-.2 -.3-.1 -.2-.2 -.3-.1 -.3-.2 -.2-.1 -.2-.2 -.3-.1 -.2-.2 -.3-.1 -.2-.2 -.2-.2 -.3-.1 -.2-.2 -.2-.2 -.3-.2 -.2-.1 -.2-.2 -.2-.2 -.2-.2 -.2-.2 -.2-.2 -.2-.2 -.2-.2 -.2-.2 -.2-.2 -.2-.2 -.2-.2 -.2-.2 -.2-.2 -.2-.2 -.1-.3 -.2-.2 -.2-.2 -.1-.3 -.2-.2 -.1-.2 -.3-.2 -.2-.2 -.3-.2 -.2-.2 -.3-.3 -.3-.2 -.2-.2 -.4-.2 -.3-.2 -.4-.2 -.4-.3 -.5-.2 -.5-.2 -.6-.2 -.8-.3 -.8-.2 -1.2-.2 -.1-.4 0-.4 0-.4 0-.5 0-.4 0-.4z" fill="#bdf020"/>
<path d="M230.3 248.7l0-.3 0-.2 .1-.3 0-.3 .1-.2 .1-.3 0-.3 .1-.2 .1-.3 .1-.2 .1-.3 .1-.2 .1-.2 .1-.3 .2-.2 .1-.2 .1-.3 .1-.2 .2-.2 .1-.2 .2-.2 .1-.3 .1-.2 .2-.2 .2-.2 .1-.2 .2-.2 .1-.1 .2-.2 .2-.2 .1-.2 .2-.2 .2-.1 .2-.2 .2-.2 .1-.1 .2-.2 .2-.2 .2-.1 .2-.2 .2-.1 .2-.2 .1-.1 .2-.2 .2-.1 .2-.2 .2-.1 .2-.1 .2-.2 .2-.1 .2-.1 .2-.2 .2-.1 .3-.1 .2-.1 .2-.2 .2-.1 .2-.1 .2-.1 .3-.1 .2-.2 .2-.1 .2-.1 .3-.1 .2-.1 .2-.1 .3-.1 .2-.1 .3-.1 .2-.1 .3-.1 .2-.1 .3-.1 .2-.1 .3-.1 .3-.1 .2-.1 .3-.1 .3-.1 .3-.1 .3-.1 .3-.1 .3-.1 .3-.1 .3-.1 .3 0 .4-.1 .3-.1 .4-.1 .3-.1 .4 0 .3-.1 .4-.1 .4-.1 .4 0 .4-.1 .4-.1 .4 0 .4-.1 .5 0 .4-.1 .5-.1 .5 0 .5 0 .5-.1 .5 0 .5 0 .5-.1 .6 0 .6 0 .6 0 .6 0 .6 0 .6 .1 .7 0 .6 0 .7 .1 .8 .1 .7 0 .7 .1 .8 .1 .7 .2 .8 .1 .9 .2 .8 .2 .8 .2 .8 .2 .9 .3 .9 .3 .8 .3 .9 .3 .9 .4 .8 .4 .9 .5 .9 .4 .8 .5 .8 .6 .8 .5 .8 .6 .7 .7 .7 .6 .6 .7 .6 .8 .6 .7 .5 .8 .4 .8 .3 .9 .3 .8 .2 .8 .1 .9 .1 .9 -.1 .8 0 .9 -.2 .8 -.3 .9 -.3 .8 -.4 .8 -.4 .8 -.6 .7 -.5 .8 -.6 .7 -.7 .6 -.7 .7 -.7 .6 -.8 .6 -.8 .5 -.8 .5 -.8 .5 -.8 .4 -.9 .4 -.8 .4 -.9 .4 -.8 .3 -.8 .3 -.9 .3 -.8 .2 -.9 .2 -.8 .2 -.8 .2 -.8 .2 -.7 .1 -.8 .2 -.7 .1 -.8 .1 -.7 .1 -.7 0 -.7 .1 -.6 0 -.7 0 -.6 .1 -.7 0 -.6 0 -.6 0 -.6 0 -.5 0 -.6-.1 -.5 0 -.6 0 -.5-.1 -.5 0 -.5-.1 -.5 0 -.5-.1 -.4 0 -.5-.1 -.4-.1 -.4-.1 -.5 0 -.4-.1 -.4-.1 -.4-.1 -.4-.1 -.4-.1 -.4 0 -.3-.1 -.4-.1 -.3-.1 -.4-.1 -.3-.1 -.4-.1 -.3-.1 -.3-.1 -.4-.1 -.3-.2 -.3-.1 -.3-.1 -.3-.1 -.3-.1 -.3-.1 -.3-.2 -.3-.1 -.3-.1 -.2-.1 -.3-.2 -.3-.1 -.3-.1 -.2-.1 -.3-.2 -.2-.1 -.3-.2 -.3-.1 -.2-.1 -.3-.2 -.2-.1 -.2-.2 -.3-.1 -.2-.2 -.2-.1 -.3-.2 -.2-.2 -.2-.1 -.3-.2 -.2-.2 -.2-.1 -.2-.2 -.2-.2 -.2-.1 -.2-.2 -.2-.2 -.2-.2 -.2-.2 -.2-.2 -.2-.2 -.2-.2 -.2-.2 -.2-.2 -.2-.2 -.1-.2 -.2-.2 -.2-.2 -.1-.2 -.2-.3 -.1-.2 -.2-.2 -.2-.2 -.1-.3 -.1-.2 -.1-.3 -.2-.2 -.1-.3 -.1-.2 -.1-.3 -.1-.2 -.1-.3 -.1-.2 -.1-.3 -.1-.3 0-.2 -.1-.3 0-.3 -.1-.2 0-.3 0-.3 -.1-.3 0-.2 0-.3 0-.3 0-.3 .1-.2z" fill="#cef020"/>
<path d="M230.8 248.7l0-.3 0-.2 .1-.3 0-.2 .1-.3 .1-.2 0-.3 .1-.2 .1-.3 .1-.2 .1-.2 .1-.3 .1-.2 .1-.2 .1-.3 .1-.2 .2-.2 .1-.2 .1-.2 .2-.2 .1-.2 .2-.2 .1-.2 .1-.2 .2-.2 .2-.2 .1-.2 .2-.2 .1-.1 .2-.2 .2-.2 .1-.2 .2-.1 .2-.2 .1-.1 .2-.2 .2-.1 .2-.2 .1-.1 .2-.2 .2-.1 .2-.2 .2-.1 .2-.1 .1-.2 .2-.1 .2-.1 .2-.2 .2-.1 .2-.1 .2-.1 .2-.2 .2-.1 .2-.1 .2-.1 .2-.1 .2-.1 .2-.1 .2-.1 .2-.2 .2-.1 .3-.1 .2-.1 .2-.1 .2-.1 .3-.1 .2-.1 .2-.1 .2-.1 .3-.1 .2-.1 .3 0 .2-.1 .2-.1 .3-.1 .3-.1 .2-.1 .3-.1 .2-.1 .3-.1 .3 0 .3-.1 .3-.1 .3-.1 .3-.1 .3 0 .3-.1 .3-.1 .3-.1 .3 0 .4-.1 .3-.1 .4 0 .3-.1 .4-.1 .4 0 .3-.1 .4 0 .4-.1 .4 0 .5-.1 .4 0 .4-.1 .5 0 .5 0 .4-.1 .5 0 .5 0 .6 0 .5 0 .5 0 .6 0 .6 0 .6 .1 .6 0 .6 0 .6 .1 .7 .1 .6 .1 .7 .1 .7 .1 .7 .1 .8 .1 .7 .2 .8 .2 .7 .2 .8 .2 .8 .2 .8 .3 .8 .3 .8 .3 .8 .4 .8 .4 .8 .4 .7 .4 .8 .5 .8 .5 .7 .5 .7 .6 .6 .6 .7 .6 .6 .6 .5 .7 .5 .7 .4 .7 .4 .8 .3 .7 .3 .8 .2 .8 .1 .8 .1 .8 -.1 .8 -.1 .8 -.1 .8 -.3 .7 -.2 .8 -.4 .8 -.4 .7 -.5 .7 -.5 .7 -.5 .6 -.6 .6 -.6 .6 -.7 .6 -.7 .5 -.7 .5 -.7 .5 -.8 .5 -.8 .4 -.7 .4 -.8 .3 -.8 .4 -.8 .3 -.7 .3 -.8 .2 -.8 .3 -.7 .2 -.8 .2 -.7 .1 -.8 .2 -.7 .1 -.7 .2 -.7 .1 -.6 .1 -.7 .1 -.6 0 -.7 .1 -.6 0 -.6 .1 -.6 0 -.6 0 -.5 0 -.6 0 -.6 0 -.5 0 -.5 0 -.5 0 -.5 0 -.5-.1 -.5 0 -.4 0 -.5-.1 -.4-.1 -.5 0 -.4-.1 -.4 0 -.4-.1 -.4-.1 -.4 0 -.4-.1 -.4-.1 -.3 0 -.4-.1 -.4-.1 -.3-.1 -.4-.1 -.3-.1 -.3-.1 -.4-.1 -.3-.1 -.3 0 -.3-.1 -.3-.1 -.3-.1 -.3-.1 -.3-.2 -.3-.1 -.3-.1 -.2-.1 -.3-.1 -.3-.1 -.3-.1 -.2-.1 -.3-.1 -.2-.2 -.3-.1 -.3-.1 -.2-.1 -.3-.2 -.2-.1 -.2-.1 -.3-.2 -.2-.1 -.3-.1 -.2-.2 -.2-.1 -.2-.1 -.3-.2 -.2-.1 -.2-.2 -.2-.1 -.2-.2 -.2-.2 -.2-.1 -.3-.2 -.2-.1 -.2-.2 -.2-.2 -.2-.1 -.2-.2 -.1-.2 -.2-.2 -.2-.2 -.2-.1 -.2-.2 -.2-.2 -.1-.2 -.2-.2 -.2-.2 -.1-.2 -.2-.3 -.1-.2 -.2-.2 -.1-.2 -.2-.2 -.1-.2 -.1-.3 -.2-.2 -.1-.2 -.1-.3 -.1-.2 -.1-.3 -.1-.2 -.1-.3 -.1-.2 -.1-.2 -.1-.3 0-.3 -.1-.2 0-.3 -.1-.2 0-.3 0-.3 -.1-.2 0-.3 0-.3 0-.2 0-.3 .1-.2z" fill="#e3f020"/>
<path d="M231.3 248.7l0-.2 0-.3 .1-.2 0-.3 .1-.2 .1-.3 0-.2 .1-.2 .1-.3 .1-.2 .1-.2 .1-.3 .1-.2 .1-.2 .1-.2 .1-.2 .1-.2 .2-.2 .1-.2 .1-.2 .2-.2 .1-.2 .1-.2 .2-.2 .1-.2 .2-.1 .1-.2 .2-.2 .2-.1 .1-.2 .2-.2 .1-.1 .2-.2 .2-.1 .1-.2 .2-.1 .2-.2 .1-.1 .2-.2 .2-.1 .2-.1 .1-.1 .2-.2 .2-.1 .2-.1 .2-.2 .1-.1 .2-.1 .2-.1 .2-.1 .2-.1 .2-.1 .2-.2 .1-.1 .2-.1 .2-.1 .2-.1 .2-.1 .2-.1 .2-.1 .2-.1 .2-.1 .2-.1 .2-.1 .3-.1 .2 0 .2-.1 .2-.1 .2-.1 .2-.1 .3-.1 .2-.1 .2-.1 .3 0 .2-.1 .2-.1 .3-.1 .2-.1 .3 0 .2-.1 .3-.1 .3-.1 .2 0 .3-.1 .3-.1 .3 0 .3-.1 .3-.1 .3 0 .3-.1 .3-.1 .3 0 .3-.1 .4 0 .3-.1 .3 0 .4-.1 .4 0 .3-.1 .4 0 .4-.1 .4 0 .4 0 .4-.1 .5 0 .4 0 .5 0 .4 0 .5 0 .5 0 .5 0 .5 0 .6 0 .5 .1 .6 0 .5 0 .6 .1 .6 .1 .6 .1 .6 .1 .7 .1 .6 .1 .7 .1 .7 .2 .7 .2 .7 .1 .7 .3 .7 .2 .7 .2 .7 .3 .8 .3 .7 .4 .7 .3 .7 .4 .7 .4 .7 .4 .7 .5 .6 .5 .7 .5 .6 .6 .6 .5 .5 .6 .5 .6 .4 .7 .4 .7 .4 .6 .2 .7 .3 .8 .2 .7 .1 .7 0 .7 0 .8 -.1 .7 -.1 .7 -.2 .7 -.3 .7 -.3 .7 -.3 .7 -.5 .6 -.4 .6 -.5 .6 -.6 .6 -.5 .6 -.6 .5 -.6 .5 -.7 .5 -.6 .4 -.7 .4 -.7 .4 -.7 .4 -.7 .3 -.7 .3 -.7 .3 -.7 .3 -.7 .3 -.7 .2 -.7 .2 -.7 .2 -.7 .2 -.6 .1 -.7 .2 -.6 .1 -.7 .1 -.6 .1 -.6 .1 -.6 0 -.6 .1 -.6 .1 -.5 0 -.6 0 -.5 .1 -.5 0 -.5 0 -.6 0 -.4 0 -.5 0 -.5 0 -.5-.1 -.4 0 -.4 0 -.5 0 -.4-.1 -.4 0 -.4-.1 -.4 0 -.4-.1 -.4 0 -.4-.1 -.3 0 -.4-.1 -.3-.1 -.4 0 -.3-.1 -.4-.1 -.3-.1 -.3 0 -.3-.1 -.3-.1 -.4-.1 -.3-.1 -.3-.1 -.2 0 -.3-.1 -.3-.1 -.3-.1 -.3-.1 -.2-.1 -.3-.1 -.3-.1 -.2-.1 -.3-.1 -.3-.1 -.2-.1 -.3-.1 -.2-.1 -.3-.1 -.2-.2 -.2-.1 -.3-.1 -.2-.1 -.2-.1 -.3-.2 -.2-.1 -.2-.1 -.2-.1 -.2-.2 -.3-.1 -.2-.1 -.2-.2 -.2-.1 -.2-.2 -.2-.1 -.2-.1 -.2-.2 -.2-.1 -.2-.2 -.2-.2 -.2-.1 -.2-.2 -.2-.1 -.2-.2 -.1-.2 -.2-.2 -.2-.1 -.2-.2 -.1-.2 -.2-.2 -.2-.2 -.1-.2 -.2-.2 -.1-.2 -.2-.2 -.1-.2 -.2-.2 -.1-.2 -.2-.2 -.1-.2 -.1-.2 -.1-.3 -.1-.2 -.2-.2 0-.2 -.1-.3 -.1-.2 -.1-.3 -.1-.2 -.1-.2 0-.3 -.1-.2 0-.3 -.1-.2 0-.3 0-.2 -.1-.3 0-.2 0-.3 0-.2 0-.3 0-.2z" fill="#f0ec20"/>
<path d="M231.8 248.7l0-.2 0-.3 .1-.2 0-.2 .1-.3 0-.2 .1-.2 .1-.3 .1-.2 .1-.2 .1-.2 .1-.2 .1-.2 .1-.3 .1-.2 .1-.2 .1-.2 .1-.1 .2-.2 .1-.2 .1-.2 .2-.2 .1-.2 .1-.1 .2-.2 .1-.2 .2-.1 .1-.2 .2-.2 .1-.1 .2-.2 .1-.1 .2-.1 .2-.2 .1-.1 .2-.2 .1-.1 .2-.1 .2-.2 .1-.1 .2-.1 .2-.1 .2-.2 .1-.1 .2-.1 .2-.1 .1-.1 .2-.1 .2-.1 .2-.1 .2-.1 .1-.1 .2-.1 .2-.1 .2-.1 .2-.1 .1-.1 .2-.1 .2-.1 .2-.1 .2-.1 .2-.1 .2-.1 .2-.1 .2 0 .2-.1 .2-.1 .2-.1 .2-.1 .2 0 .2-.1 .2-.1 .3-.1 .2 0 .2-.1 .2-.1 .3-.1 .2 0 .2-.1 .3-.1 .2 0 .3-.1 .2-.1 .3 0 .2-.1 .3 0 .3-.1 .2-.1 .3 0 .3-.1 .3 0 .3-.1 .3 0 .3-.1 .3 0 .3-.1 .4 0 .3 0 .3-.1 .4 0 .4 0 .3-.1 .4 0 .4 0 .4 0 .4 0 .4-.1 .4 0 .5 .1 .4 0 .5 0 .5 0 .4 0 .5 .1 .5 0 .6 .1 .5 0 .5 .1 .6 .1 .6 .1 .5 .1 .6 .1 .6 .1 .6 .2 .7 .1 .6 .2 .6 .2 .7 .2 .6 .3 .7 .2 .6 .3 .7 .3 .6 .4 .7 .3 .6 .4 .6 .4 .6 .4 .6 .5 .6 .4 .5 .5 .5 .6 .5 .5 .4 .6 .4 .6 .4 .6 .3 .6 .3 .6 .2 .7 .1 .6 .1 .7 .1 .7 0 .6 -.1 .7 -.1 .7 -.2 .6 -.2 .6 -.3 .7 -.3 .6 -.4 .6 -.4 .5 -.4 .6 -.5 .5 -.5 .5 -.5 .5 -.6 .5 -.6 .4 -.5 .4 -.6 .4 -.7 .4 -.6 .3 -.6 .3 -.7 .3 -.6 .3 -.6 .3 -.7 .2 -.6 .2 -.6 .2 -.6 .2 -.6 .2 -.6 .1 -.6 .2 -.6 .1 -.6 .1 -.6 .1 -.5 .1 -.6 .1 -.5 0 -.5 .1 -.5 0 -.5 .1 -.5 0 -.5 0 -.5 0 -.4 0 -.5 0 -.4 .1 -.5-.1 -.4 0 -.4 0 -.4 0 -.4 0 -.4-.1 -.4 0 -.4 0 -.3-.1 -.4 0 -.4-.1 -.3 0 -.4-.1 -.3 0 -.3-.1 -.3 0 -.4-.1 -.3-.1 -.3 0 -.3-.1 -.3-.1 -.3 0 -.3-.1 -.2-.1 -.3-.1 -.3 0 -.3-.1 -.2-.1 -.3-.1 -.3-.1 -.2-.1 -.3 0 -.2-.1 -.3-.1 -.2-.1 -.3-.1 -.2-.1 -.2-.1 -.3-.1 -.2-.1 -.2-.1 -.2-.1 -.3-.1 -.2-.1 -.2-.1 -.2-.2 -.2-.1 -.3-.1 -.2-.1 -.2-.1 -.2-.2 -.2-.1 -.2-.1 -.2-.1 -.2-.2 -.2-.1 -.2-.1 -.2-.2 -.2-.1 -.2-.2 -.1-.1 -.2-.2 -.2-.1 -.2-.2 -.2-.1 -.1-.2 -.2-.1 -.2-.2 -.2-.2 -.1-.2 -.2-.1 -.1-.2 -.2-.2 -.2-.2 -.1-.2 -.1-.2 -.2-.2 -.1-.1 -.2-.2 -.1-.3 -.1-.2 -.1-.2 -.2-.2 -.1-.2 -.1-.2 -.1-.2 -.1-.3 0-.2 -.1-.2 -.1-.2 -.1-.3 0-.2 -.1-.3 0-.2 -.1-.2 0-.3 0-.2 -.1-.3 0-.2 0-.2 0-.3 0-.2 0-.3z" fill="#f1e220"/>
<path d="M232.3 248.7l0-.2 0-.3 .1-.2 0-.2 .1-.2 0-.2 .1-.3 .1-.2 .1-.2 .1-.2 0-.2 .1-.2 .1-.2 .1-.2 .2-.2 .1-.2 .1-.2 .1-.2 .1-.1 .2-.2 .1-.2 .1-.2 .1-.1 .2-.2 .1-.2 .2-.1 .1-.2 .2-.1 .1-.2 .1-.1 .2-.1 .2-.2 .1-.1 .2-.1 .1-.2 .2-.1 .1-.1 .2-.2 .1-.1 .2-.1 .2-.1 .1-.1 .2-.1 .2-.1 .1-.1 .2-.1 .2-.2 .1-.1 .2-.1 .2 0 .1-.1 .2-.1 .2-.1 .1-.1 .2-.1 .2-.1 .2-.1 .1-.1 .2 0 .2-.1 .2-.1 .2-.1 .1-.1 .2-.1 .2 0 .2-.1 .2-.1 .2 0 .2-.1 .2-.1 .2-.1 .2 0 .2-.1 .2-.1 .2 0 .2-.1 .2 0 .2-.1 .3-.1 .2 0 .2-.1 .2 0 .3-.1 .2-.1 .3 0 .2-.1 .2 0 .3-.1 .3 0 .2 0 .3-.1 .3 0 .2-.1 .3 0 .3 0 .3-.1 .3 0 .3-.1 .3 0 .4 0 .3 0 .3 0 .4-.1 .3 0 .4 0 .4 0 .4 0 .3 0 .4 0 .4 0 .5 .1 .4 0 .4 0 .5 .1 .4 0 .5 .1 .5 0 .5 .1 .5 .1 .5 .1 .5 .1 .5 .1 .6 .1 .5 .2 .6 .1 .5 .2 .6 .2 .6 .2 .5 .2 .6 .3 .6 .2 .6 .3 .5 .3 .6 .3 .6 .4 .5 .3 .6 .4 .5 .4 .5 .5 .5 .4 .4 .5 .4 .5 .4 .5 .4 .5 .3 .6 .3 .6 .2 .5 .2 .6 .1 .6 .1 .6 0 .6 0 .6 0 .6 -.1 .6 -.2 .6 -.1 .6 -.3 .5 -.3 .6 -.3 .5 -.3 .5 -.4 .5 -.4 .5 -.5 .5 -.4 .4 -.5 .5 -.5 .4 -.5 .3 -.6 .4 -.5 .3 -.6 .4 -.5 .3 -.6 .2 -.5 .3 -.6 .2 -.6 .3 -.5 .2 -.6 .2 -.5 .1 -.6 .2 -.5 .1 -.6 .2 -.5 .1 -.5 .1 -.5 .1 -.5 .1 -.5 .1 -.5 0 -.5 .1 -.4 0 -.5 .1 -.4 0 -.5 .1 -.4 0 -.4 0 -.4 0 -.4 0 -.5 0 -.3 0 -.4 0 -.4 0 -.4 0 -.3 0 -.4-.1 -.3 0 -.4 0 -.3-.1 -.3 0 -.4 0 -.3-.1 -.3 0 -.3-.1 -.3 0 -.3-.1 -.3 0 -.3-.1 -.2 0 -.3-.1 -.3-.1 -.3 0 -.2-.1 -.3-.1 -.2 0 -.3-.1 -.3-.1 -.2-.1 -.2 0 -.3-.1 -.2-.1 -.3-.1 -.2 0 -.2-.1 -.3-.1 -.2-.1 -.2-.1 -.2-.1 -.2-.1 -.3-.1 -.2-.1 -.2-.1 -.2-.1 -.2-.1 -.2-.1 -.2-.1 -.2-.1 -.2-.1 -.2-.1 -.2-.1 -.2-.1 -.2-.1 -.2-.2 -.2-.1 -.2-.1 -.2-.1 -.1-.2 -.2-.1 -.2-.1 -.2-.2 -.2-.1 -.1-.1 -.2-.2 -.2-.1 -.2-.2 -.1-.1 -.2-.2 -.1-.2 -.2-.1 -.2-.2 -.1-.2 -.2-.1 -.1-.2 -.2-.2 -.1-.2 -.1-.1 -.2-.2 -.1-.2 -.1-.2 -.1-.2 -.2-.2 -.1-.2 -.1-.2 -.1-.2 -.1-.2 -.1-.2 -.1-.3 0-.2 -.1-.2 -.1-.2 0-.2 -.1-.3 0-.2 -.1-.2 0-.3 0-.2 -.1-.2 0-.2 0-.3 0-.2 0-.2 0-.3z" fill="#f1d720"/>
<path d="M232.8 248.7l0-.2 0-.2 .1-.2 0-.3 .1-.2 0-.2 .1-.2 .1-.2 .1-.2 0-.2 .1-.2 .1-.2 .1-.2 .1-.2 .1-.1 .1-.2 .2-.2 .1-.2 .1-.1 .1-.2 .1-.2 .2-.1 .1-.2 .1-.1 .2-.2 .1-.1 .1-.2 .2-.1 .1-.2 .2-.1 .1-.1 .2-.2 .1-.1 .2-.1 .1-.1 .2-.1 .1-.2 .2-.1 .1-.1 .2-.1 .1-.1 .2-.1 .1-.1 .2-.1 .1-.1 .2-.1 .2-.1 .1-.1 .2-.1 .1-.1 .2 0 .2-.1 .1-.1 .2-.1 .1-.1 .2-.1 .2 0 .1-.1 .2-.1 .2-.1 .2 0 .1-.1 .2-.1 .2 0 .1-.1 .2-.1 .2 0 .2-.1 .2-.1 .2 0 .1-.1 .2 0 .2-.1 .2-.1 .2 0 .2-.1 .2 0 .2-.1 .2 0 .2-.1 .2 0 .2-.1 .2 0 .3-.1 .2 0 .2-.1 .2 0 .3 0 .2-.1 .3 0 .2-.1 .3 0 .2 0 .3 0 .2-.1 .3 0 .3 0 .3-.1 .2 0 .3 0 .3 0 .4 0 .3 0 .3 0 .3 0 .3 0 .4 0 .3 0 .4 0 .4 0 .3 0 .4 .1 .4 0 .4 .1 .4 0 .4 .1 .5 0 .4 .1 .4 .1 .5 .1 .4 .1 .5 .1 .5 .1 .5 .2 .5 .1 .4 .2 .5 .1 .5 .2 .6 .2 .5 .3 .5 .2 .5 .3 .5 .2 .5 .3 .4 .4 .5 .3 .5 .3 .4 .4 .5 .4 .4 .4 .4 .4 .3 .5 .4 .4 .3 .5 .3 .5 .2 .5 .2 .5 .2 .5 .1 .6 .1 .5 0 .5 0 .6 0 .5 -.1 .5 -.1 .6 -.2 .5 -.2 .5 -.2 .5 -.3 .5 -.3 .4 -.3 .5 -.4 .4 -.3 .4 -.4 .4 -.4 .4 -.5 .4 -.4 .3 -.5 .4 -.5 .3 -.4 .3 -.5 .3 -.5 .2 -.5 .3 -.5 .2 -.5 .2 -.5 .2 -.5 .2 -.5 .2 -.4 .1 -.5 .2 -.5 .1 -.5 .1 -.4 .1 -.5 .1 -.4 .1 -.5 .1 -.4 .1 -.4 0 -.4 .1 -.5 0 -.4 .1 -.4 0 -.3 0 -.4 .1 -.4 0 -.4 0 -.3 0 -.4 0 -.3 0 -.4 0 -.3 0 -.3 0 -.4 0 -.3-.1 -.3 0 -.3 0 -.3 0 -.3-.1 -.3 0 -.3 0 -.3-.1 -.2 0 -.3-.1 -.3 0 -.2 0 -.3-.1 -.3 0 -.2-.1 -.3-.1 -.2 0 -.3-.1 -.2 0 -.2-.1 -.3-.1 -.2 0 -.2-.1 -.3-.1 -.2 0 -.2-.1 -.2-.1 -.2 0 -.2-.1 -.3-.1 -.2-.1 -.2 0 -.2-.1 -.2-.1 -.2-.1 -.2-.1 -.2-.1 -.2-.1 -.2-.1 -.2-.1 -.2-.1 -.2-.1 -.1-.1 -.2-.1 -.2-.1 -.2-.1 -.2-.1 -.2-.1 -.2-.1 -.1-.1 -.2-.1 -.2-.2 -.2-.1 -.1-.1 -.2-.1 -.2-.2 -.1-.1 -.2-.2 -.2-.1 -.1-.1 -.2-.2 -.1-.1 -.2-.2 -.1-.1 -.2-.2 -.1-.1 -.2-.2 -.1-.2 -.1-.2 -.2-.1 -.1-.2 -.1-.2 -.2-.2 -.1-.1 -.1-.2 -.1-.2 -.1-.2 -.1-.2 -.1-.2 -.1-.2 -.1-.2 -.1-.2 0-.2 -.1-.3 -.1-.2 0-.2 0-.2 -.1-.2 0-.2 -.1-.3 0-.2 0-.2 0-.2 0-.2 0-.3 0-.2z" fill="#f2cd20"/>
<path d="M233.3 248.7l0-.2 0-.2 .1-.2 0-.2 .1-.2 0-.2 .1-.2 .1-.2 0-.2 .1-.2 .1-.2 .1-.2 .1-.1 .1-.2 .1-.2 .1-.2 .1-.1 .1-.2 .2-.2 .1-.1 .1-.2 .1-.1 .2-.2 .1-.1 .1-.1 .1-.2 .2-.1 .1-.1 .1-.2 .2-.1 .1-.1 .2-.1 .1-.1 .2-.2 .1-.1 .1-.1 .2-.1 .1-.1 .2-.1 .1-.1 .2-.1 .1-.1 .2-.1 .1-.1 .2-.1 .1 0 .2-.1 .1-.1 .2-.1 .1-.1 .2-.1 .1 0 .2-.1 .1-.1 .2 0 .1-.1 .2-.1 .2-.1 .1 0 .2-.1 .1 0 .2-.1 .2-.1 .1 0 .2-.1 .1 0 .2-.1 .2-.1 .1 0 .2-.1 .2 0 .2-.1 .1 0 .2-.1 .2 0 .2-.1 .2 0 .2-.1 .1 0 .2 0 .2-.1 .2 0 .2-.1 .2 0 .2 0 .2-.1 .2 0 .2 0 .3-.1 .2 0 .2 0 .2 0 .3-.1 .2 0 .2 0 .3 0 .2 0 .3-.1 .3 0 .2 0 .3 0 .3 0 .2 0 .3 0 .3 0 .3 0 .3 0 .3 0 .3 .1 .4 0 .3 0 .3 .1 .4 0 .3 .1 .4 0 .4 .1 .3 0 .4 .1 .4 .1 .4 .1 .4 .1 .4 .1 .4 .1 .4 .1 .5 .2 .4 .1 .4 .2 .4 .2 .5 .2 .4 .2 .4 .2 .5 .2 .4 .3 .4 .3 .4 .2 .4 .3 .4 .4 .4 .3 .4 .3 .3 .4 .3 .4 .4 .4 .2 .4 .3 .4 .2 .4 .2 .5 .2 .4 .2 .5 .1 .4 0 .5 .1 .5 0 .4 0 .5 -.1 .5 -.1 .4 -.1 .5 -.2 .4 -.2 .5 -.2 .4 -.2 .4 -.3 .4 -.3 .4 -.3 .4 -.3 .4 -.4 .3 -.3 .3 -.4 .4 -.4 .3 -.4 .2 -.4 .3 -.4 .3 -.4 .2 -.5 .2 -.4 .3 -.4 .2 -.4 .1 -.5 .2 -.4 .2 -.4 .1 -.4 .2 -.4 .1 -.4 .1 -.4 .1 -.4 .1 -.4 .1 -.4 .1 -.4 .1 -.4 0 -.4 .1 -.3 .1 -.4 0 -.3 0 -.4 .1 -.3 0 -.4 0 -.3 .1 -.3 0 -.3 0 -.3 0 -.4 0 -.3 0 -.3 0 -.2 0 -.3 0 -.3 0 -.3-.1 -.3 0 -.2 0 -.3 0 -.3 0 -.2-.1 -.3 0 -.2 0 -.3-.1 -.2 0 -.3 0 -.2-.1 -.2 0 -.3-.1 -.2 0 -.2-.1 -.2 0 -.3-.1 -.2 0 -.2-.1 -.2 0 -.2-.1 -.2-.1 -.2 0 -.2-.1 -.2-.1 -.2 0 -.2-.1 -.2 0 -.2-.1 -.2-.1 -.2-.1 -.2-.1 -.2 0 -.2-.1 -.2-.1 -.2-.1 -.1-.1 -.2 0 -.2-.1 -.2-.1 -.2-.1 -.1-.1 -.2-.1 -.2-.1 -.2-.1 -.1-.1 -.2-.1 -.2-.1 -.1-.1 -.2-.2 -.2-.1 -.1-.1 -.2-.1 -.1-.1 -.2-.2 -.2-.1 -.1-.1 -.2-.2 -.1-.1 -.2-.1 -.1-.2 -.2-.1 -.1-.2 -.1-.1 -.2-.2 -.1-.2 -.1-.1 -.2-.2 -.1-.1 -.1-.2 -.1-.2 -.1-.2 -.1-.1 -.1-.2 -.1-.2 -.1-.2 -.1-.2 -.1-.2 -.1-.2 0-.2 -.1-.2 -.1-.2 0-.2 -.1-.2 0-.2 0-.2 -.1-.2 0-.2 0-.3 0-.2 0-.2 0-.2 0-.2z" fill="#f4851d"/>
<path d="M234.9 248.7l0-.2 .1-.1 0-.2 0-.2 .1-.2 0-.1 .1-.2 .1-.1 0-.2 .1-.2 .1-.1 0-.2 .1-.1 .1-.2 .1-.1 .1-.1 .1-.2 .1-.1 .1-.2 .1-.1 .1-.1 .1-.1 .1-.2 .1-.1 .1-.1 .1-.1 .1-.1 .1-.1 .1-.1 .2-.1 .1-.1 .1-.1 .1-.1 .1-.1 .1-.1 .2-.1 .1-.1 .1-.1 .1-.1 .2-.1 .1 0 .1-.1 .1-.1 .1-.1 .2 0 .1-.1 .1-.1 .1-.1 .2 0 .1-.1 .1-.1 .2 0 .1-.1 .1 0 .1-.1 .2-.1 .1 0 .1-.1 .2 0 .1-.1 .1 0 .2-.1 .1 0 .1-.1 .2 0 .1-.1 .1 0 .2-.1 .1 0 .2-.1 .1 0 .2-.1 .1 0 .2 0 .1-.1 .2 0 .1-.1 .2 0 .1 0 .2-.1 .1 0 .2 0 .2-.1 .1 0 .2 0 .2-.1 .1 0 .2 0 .2 0 .2-.1 .2 0 .2 0 .2 0 .2 0 .2-.1 .2 0 .2 0 .2 0 .2 0 .2 0 .2 0 .3 0 .2 0 .2 0 .3 0 .2 0 .3 0 .2 0 .3 0 .3 .1 .3 0 .2 0 .3 0 .3 .1 .3 0 .3 .1 .3 0 .3 .1 .4 .1 .3 0 .3 .1 .4 .1 .3 .1 .4 .1 .3 .1 .4 .2 .3 .1 .4 .2 .3 .1 .4 .2 .4 .2 .3 .2 .4 .2 .3 .2 .4 .2 .3 .3 .3 .3 .4 .2 .3 .3 .3 .3 .2 .3 .3 .4 .2 .3 .2 .3 .2 .4 .2 .4 .1 .3 .2 .4 0 .4 .1 .4 0 .4 .1 .4 -.1 .4 0 .4 -.1 .3 -.1 .4 -.1 .4 -.2 .4 -.2 .3 -.2 .4 -.2 .3 -.2 .3 -.3 .3 -.3 .3 -.3 .3 -.3 .3 -.3 .3 -.3 .2 -.3 .3 -.4 .2 -.3 .2 -.4 .2 -.3 .2 -.4 .2 -.3 .1 -.4 .2 -.3 .1 -.4 .2 -.3 .1 -.4 .1 -.3 .1 -.4 .1 -.3 .1 -.3 .1 -.4 .1 -.3 0 -.3 .1 -.3 .1 -.3 0 -.3 .1 -.3 0 -.3 0 -.3 .1 -.3 0 -.3 0 -.3 0 -.2 0 -.3 0 -.3 .1 -.2 0 -.3 0 -.2 0 -.3-.1 -.2 0 -.2 0 -.3 0 -.2 0 -.2 0 -.2 0 -.3-.1 -.2 0 -.2 0 -.2 0 -.2-.1 -.2 0 -.2 0 -.2-.1 -.2 0 -.2 0 -.2-.1 -.2 0 -.2 0 -.1-.1 -.2 0 -.2-.1 -.2 0 -.2-.1 -.1 0 -.2-.1 -.2 0 -.1-.1 -.2 0 -.2-.1 -.1-.1 -.2 0 -.2-.1 -.1 0 -.2-.1 -.1-.1 -.2 0 -.1-.1 -.2-.1 -.1-.1 -.2 0 -.2-.1 -.1-.1 -.2 0 -.1-.1 -.1-.1 -.2-.1 -.1-.1 -.2-.1 -.1 0 -.2-.1 -.1-.1 -.1-.1 -.2-.1 -.1-.1 -.1-.1 -.2-.1 -.1-.1 -.1-.1 -.2-.2 -.1-.1 -.1-.1 -.1-.1 -.2-.1 -.1-.1 -.1-.2 -.1-.1 -.1-.1 -.1-.2 -.1-.1 -.2-.1 -.1-.2 0-.1 -.1-.2 -.1-.1 -.1-.2 -.1-.1 -.1-.2 -.1-.1 0-.2 -.1-.1 -.1-.2 0-.2 -.1-.1 0-.2 -.1-.2 0-.2 0-.1 -.1-.2 0-.2 0-.2 0-.1 0-.2 0-.2 0-.2 0-.1z" fill="#f3761b"/>
<path d="M236.6 248.7l0-.1 0-.2 0-.1 .1-.1 0-.2 .1-.1 0-.1 0-.2 .1-.1 .1-.1 0-.2 .1-.1 0-.1 .1-.1 .1-.1 0-.1 .1-.1 .1-.2 .1-.1 .1-.1 0-.1 .1-.1 .1-.1 .1-.1 .1-.1 .1 0 .1-.1 0-.1 .1-.1 .1-.1 .1-.1 .1-.1 .1 0 .1-.1 .1-.1 .1-.1 .1 0 .1-.1 .1-.1 .1 0 .1-.1 .1-.1 .1 0 .1-.1 .1 0 .1-.1 .1-.1 .1 0 .1-.1 .1 0 .1-.1 .1 0 .1-.1 .1 0 .1-.1 .1 0 .1-.1 .1 0 .1 0 .1-.1 .1 0 .1-.1 .1 0 .1-.1 .2 0 .1 0 .1-.1 .1 0 .1 0 .1-.1 .1 0 .1 0 .2-.1 .1 0 .1 0 .1-.1 .1 0 .2 0 .1-.1 .1 0 .1 0 .2 0 .1-.1 .1 0 .2 0 .1 0 .2-.1 .1 0 .1 0 .2 0 .1 0 .2-.1 .1 0 .2 0 .2 0 .1 0 .2 0 .2 0 .1 0 .2-.1 .2 0 .2 0 .2 0 .2 0 .1 0 .2 .1 .2 0 .3 0 .2 0 .2 0 .2 0 .2 0 .3 .1 .2 0 .2 0 .3 .1 .2 0 .3 .1 .2 0 .3 .1 .3 .1 .2 0 .3 .1 .3 .1 .3 .1 .3 .1 .2 .1 .3 .1 .3 .2 .3 .1 .3 .1 .3 .2 .3 .2 .2 .1 .3 .2 .3 .2 .2 .2 .3 .3 .2 .2 .3 .2 .2 .3 .2 .2 .2 .3 .2 .3 .1 .3 .2 .3 .1 .3 .1 .3 0 .3 .1 .3 0 .3 0 .3 0 .3 0 .3 -.1 .4 -.1 .3 -.1 .3 -.1 .3 -.2 .2 -.1 .3 -.2 .3 -.2 .2 -.2 .3 -.2 .2 -.3 .3 -.2 .2 -.2 .2 -.3 .2 -.3 .2 -.2 .2 -.3 .2 -.3 .1 -.3 .2 -.3 .1 -.2 .1 -.3 .2 -.3 .1 -.3 .1 -.3 .1 -.2 .1 -.3 .1 -.3 0 -.3 .1 -.2 .1 -.3 0 -.2 .1 -.3 0 -.2 .1 -.3 0 -.2 .1 -.3 0 -.2 0 -.3 .1 -.2 0 -.2 0 -.2 0 -.2 0 -.3 0 -.2 0 -.2 0 -.2 0 -.2 0 -.2 0 -.2 0 -.1 0 -.2 0 -.2 0 -.2 0 -.2 0 -.1-.1 -.2 0 -.2 0 -.2 0 -.1-.1 -.2 0 -.1 0 -.2 0 -.2-.1 -.1 0 -.2 0 -.1 0 -.2-.1 -.1 0 -.2-.1 -.1 0 -.1 0 -.2-.1 -.1 0 -.2 0 -.1-.1 -.1 0 -.2-.1 -.1 0 -.1-.1 -.2 0 -.1-.1 -.1 0 -.1-.1 -.2 0 -.1-.1 -.1 0 -.1-.1 -.2 0 -.1-.1 -.1-.1 -.1 0 -.1-.1 -.2 0 -.1-.1 -.1-.1 -.1 0 -.1-.1 -.1-.1 -.1-.1 -.2 0 -.1-.1 -.1-.1 -.1-.1 -.1 0 -.1-.1 -.1-.1 -.1-.1 -.1-.1 -.1-.1 -.1-.1 -.1-.1 -.1-.1 -.1-.1 -.1-.1 -.1-.1 -.1-.1 -.1-.1 -.1-.1 0-.1 -.1-.1 -.1-.1 -.1-.1 -.1-.1 0-.2 -.1-.1 -.1-.1 0-.1 -.1-.2 0-.1 -.1-.1 0-.2 -.1-.1 0-.1 0-.2 -.1-.1 0-.1 0-.2 0-.1 0-.2 -.1-.1 0-.1 0-.2 .1-.1 0-.2z" fill="#f16719"/>
<path d="M238.2 248.7l0-.1 .1-.1 0-.1 0-.1 0-.1 .1-.1 0-.1 0-.1 .1-.1 0-.1 .1-.1 0-.1 .1-.1 0-.1 .1 0 0-.1 .1-.1 0-.1 .1-.1 0-.1 .1 0 .1-.1 0-.1 .1-.1 .1 0 0-.1 .1-.1 .1 0 0-.1 .1 0 .1-.1 0-.1 .1 0 .1-.1 0 0 .1-.1 .1 0 .1-.1 0 0 .1-.1 .1 0 .1-.1 0 0 .1-.1 .1 0 .1-.1 0 0 .1-.1 .1 0 .1 0 0-.1 .1 0 .1 0 .1-.1 0 0 .1-.1 .1 0 .1 0 .1-.1 0 0 .1 0 .1-.1 .1 0 .1 0 0 0 .1-.1 .1 0 .1 0 .1-.1 .1 0 0 0 .1 0 .1-.1 .1 0 .1 0 .1 0 .1-.1 .1 0 .1 0 .1 0 .1 0 .1-.1 .1 0 .1 0 .1 0 .1 0 .1 0 .1-.1 .1 0 .1 0 .1 0 .1 0 .1 0 .2 0 .1-.1 .1 0 .1 0 .1 0 .2 0 .1 0 .1 0 .2 0 .1 0 .2 0 .1 0 .2 0 .1 0 .2 0 .1 0 .2 .1 .2 0 .1 0 .2 0 .2 0 .1 .1 .2 0 .2 0 .2 .1 .2 0 .2 0 .2 .1 .2 0 .2 .1 .2 .1 .2 0 .2 .1 .3 .1 .2 .1 .2 .1 .2 .1 .2 .1 .2 .1 .2 .1 .3 .2 .2 .1 .2 .2 .2 .1 .2 .2 .1 .2 .2 .2 .2 .1 .1 .2 .2 .2 .1 .2 .1 .3 .1 .2 .1 .2 .1 .2 0 .3 .1 .2 0 .2 0 .3 0 .2 -.1 .2 0 .3 -.1 .2 0 .2 -.1 .2 -.1 .3 -.2 .2 -.1 .2 -.1 .2 -.2 .1 -.2 .2 -.1 .2 -.2 .2 -.2 .1 -.2 .2 -.2 .1 -.2 .2 -.2 .1 -.2 .1 -.2 .1 -.2 .1 -.3 .1 -.2 .1 -.2 .1 -.2 .1 -.2 .1 -.2 0 -.2 .1 -.2 .1 -.2 0 -.2 .1 -.2 0 -.2 0 -.2 .1 -.2 0 -.2 .1 -.2 0 -.1 0 -.2 0 -.2 0 -.2 .1 -.1 0 -.2 0 -.2 0 -.1 0 -.2 0 -.1 0 -.2 0 -.1 0 -.2 0 -.1 0 -.2 0 -.1 0 -.1 0 -.2 0 -.1-.1 -.1 0 -.2 0 -.1 0 -.1 0 -.1 0 -.2-.1 -.1 0 -.1 0 -.1 0 -.1 0 -.1-.1 -.2 0 -.1 0 -.1 0 -.1-.1 -.1 0 -.1 0 -.1 0 -.1-.1 -.1 0 -.1 0 -.1-.1 -.1 0 -.1 0 -.1-.1 -.1 0 -.1 0 -.1-.1 -.1 0 -.1-.1 -.1 0 -.1 0 -.1-.1 -.1 0 -.1-.1 -.1 0 0-.1 -.1 0 -.1-.1 -.1 0 -.1-.1 -.1 0 -.1-.1 -.1 0 0-.1 -.1 0 -.1-.1 -.1 0 -.1-.1 0-.1 -.1 0 -.1-.1 -.1 0 -.1-.1 0-.1 -.1 0 -.1-.1 -.1-.1 0-.1 -.1 0 -.1-.1 0-.1 -.1-.1 -.1-.1 0 0 -.1-.1 0-.1 -.1-.1 -.1-.1 0-.1 -.1-.1 0-.1 -.1-.1 0 0 0-.1 -.1-.1 0-.1 -.1-.1 0-.1 0-.1 0-.2 0-.1 -.1-.1 0-.1 0-.1 0-.1 0-.1 0-.1 0-.1 0-.1z" fill="#ee5717"/>
<path d="M239.9 248.7l0-.1 0 0 0-.1 0-.1 .1 0 0-.1 0-.1 0 0 0-.1 .1-.1 0 0 0-.1 .1 0 0-.1 0-.1 .1 0 0-.1 0 0 .1-.1 0 0 .1-.1 0 0 .1-.1 0 0 0-.1 .1 0 0-.1 .1 0 0-.1 .1 0 0 0 .1-.1 0 0 .1-.1 0 0 0 0 .1-.1 0 0 .1 0 0-.1 .1 0 0 0 .1-.1 0 0 .1 0 0 0 .1-.1 0 0 .1 0 0-.1 .1 0 0 0 .1 0 0-.1 .1 0 0 0 .1 0 .1-.1 0 0 .1 0 0 0 .1 0 0-.1 .1 0 0 0 .1 0 0 0 .1-.1 0 0 .1 0 .1 0 0 0 .1 0 0-.1 .1 0 .1 0 0 0 .1 0 0 0 .1 0 .1-.1 0 0 .1 0 .1 0 0 0 .1 0 .1 0 0 0 .1-.1 .1 0 .1 0 0 0 .1 0 .1 0 .1 0 .1 0 0 0 .1 0 .1 0 .1 0 .1 0 .1 0 .1 0 .1 0 .1 0 .1 0 .1 0 .1 0 .1 0 .1 0 .1 0 .1 0 .1 0 .1 .1 .2 0 .1 0 .1 0 .1 0 .2 .1 .1 0 .1 0 .2 .1 .1 0 .1 0 .2 .1 .1 0 .2 .1 .1 .1 .2 0 .1 .1 .1 .1 .2 0 .1 .1 .2 .1 .1 .1 .1 .1 .2 .1 .1 .1 .1 .1 .1 .2 .1 .1 .2 .1 0 .2 .1 .1 .1 .1 .1 .2 0 .1 .1 .2 0 .1 0 .2 .1 .2 0 .1 0 .2 -.1 .1 0 .2 0 .1 -.1 .2 -.1 .1 0 .2 -.1 .1 -.1 .1 -.1 .2 -.1 .1 -.1 .1 -.1 .1 -.1 .1 -.2 .2 -.1 .1 -.1 0 -.2 .1 -.1 .1 -.1 .1 -.2 .1 -.1 .1 -.2 0 -.1 .1 -.2 0 -.1 .1 -.1 0 -.2 .1 -.1 0 -.1 .1 -.2 0 -.1 0 -.1 .1 -.2 0 -.1 0 -.1 0 -.2 .1 -.1 0 -.1 0 -.1 0 -.1 0 -.1 0 -.2 0 -.1 .1 -.1 0 -.1 0 -.1 0 -.1 0 -.1 0 -.1 0 -.1 0 -.1 0 -.1 0 -.1-.1 -.1 0 0 0 -.1 0 -.1 0 -.1 0 -.1 0 -.1 0 -.1 0 0 0 -.1 0 -.1-.1 -.1 0 -.1 0 0 0 -.1 0 -.1 0 -.1-.1 0 0 -.1 0 -.1 0 0 0 -.1-.1 -.1 0 0 0 -.1 0 -.1 0 0-.1 -.1 0 -.1 0 0 0 -.1-.1 -.1 0 0 0 -.1 0 -.1-.1 0 0 -.1 0 0 0 -.1-.1 -.1 0 0 0 -.1-.1 0 0 -.1 0 -.1-.1 0 0 -.1 0 0-.1 -.1 0 0-.1 -.1 0 0 0 -.1-.1 0 0 -.1-.1 -.1 0 0 0 -.1-.1 0 0 -.1-.1 0 0 -.1-.1 0 0 0-.1 -.1 0 0-.1 -.1 0 0-.1 -.1 0 0-.1 0-.1 -.1 0 0-.1 0 0 -.1-.1 0-.1 0 0 -.1-.1 0-.1 0 0 0-.1 -.1-.1 0 0 0-.1 0-.1 0 0 0-.1 0-.1 0-.1 0 0 0-.1 0-.1 0 0z" fill="#eb4614"/>
<path d="M241.5 248.7l0 0 .1-.1 0 0 0 0 0-.1 0 0 0 0 0-.1 0 0 0 0 .1-.1 0 0 0 0 0-.1 0 0 0 0 .1 0 0-.1 0 0 0 0 0 0 .1-.1 0 0 0 0 0 0 0-.1 .1 0 0 0 0 0 0 0 .1-.1 0 0 0 0 0 0 0 0 .1-.1 0 0 0 0 0 0 .1 0 0 0 0-.1 0 0 .1 0 0 0 0 0 0 0 .1-.1 0 0 0 0 0 0 .1 0 0 0 0 0 0 0 .1-.1 0 0 0 0 .1 0 0 0 0 0 0 0 .1 0 0 0 0 0 0-.1 .1 0 0 0 0 0 .1 0 0 0 0 0 0 0 .1 0 0 0 0 0 .1-.1 0 0 0 0 .1 0 0 0 0 0 .1 0 0 0 0 0 .1 0 0 0 0 0 .1 0 0 0 0 0 .1 0 0 0 .1 0 0-.1 0 0 .1 0 0 0 .1 0 0 0 0 0 .1 0 0 0 .1 0 0 0 .1 0 0 0 .1 0 0 0 .1 .1 .1 0 0 0 .1 0 0 0 .1 0 0 0 .1 0 .1 0 0 0 .1 0 .1 .1 0 0 .1 0 .1 0 0 0 .1 .1 .1 0 .1 0 0 .1 .1 0 .1 0 0 .1 .1 0 .1 .1 .1 0 0 .1 .1 0 .1 .1 0 0 .1 .1 0 0 .1 .1 0 .1 .1 0 0 .1 0 .1 .1 .1 0 0 0 .1 0 .1 0 .1 0 .1 0 0 0 .1 0 .1 0 .1 0 0 -.1 .1 0 .1 -.1 .1 0 0 0 .1 -.1 0 -.1 .1 0 .1 -.1 0 0 .1 -.1 0 -.1 .1 0 0 -.1 .1 -.1 0 0 0 -.1 .1 -.1 0 -.1 0 0 .1 -.1 0 -.1 0 0 0 -.1 .1 -.1 0 0 0 -.1 0 -.1 0 0 0 -.1 .1 -.1 0 0 0 -.1 0 0 0 -.1 0 -.1 0 0 0 -.1 0 0 0 -.1 0 0 0 -.1 0 0 0 -.1 0 0 0 -.1 0 0 0 -.1 0 0 0 -.1 0 0 0 -.1 0 0 0 -.1 0 0 0 0 0 -.1 0 0 0 -.1 0 0 0 0 0 -.1 0 0-.1 -.1 0 0 0 0 0 -.1 0 0 0 0 0 -.1 0 0 0 0 0 -.1 0 0-.1 0 0 -.1 0 0 0 0 0 -.1 0 0 0 0 0 -.1-.1 0 0 0 0 -.1 0 0 0 0 0 -.1 0 0-.1 0 0 0 0 -.1 0 0 0 0 0 -.1-.1 0 0 0 0 0 0 -.1 0 0 0 0-.1 0 0 -.1 0 0 0 0 0 -.1-.1 0 0 0 0 0 0 -.1-.1 0 0 0 0 0 0 0-.1 -.1 0 0 0 0 0 0-.1 0 0 -.1 0 0-.1 0 0 0 0 0-.1 -.1 0 0 0 0 0 0-.1 0 0 0 0 0-.1 0 0 0-.1 0 0 -.1 0 0-.1 0 0 0 0 0-.1 0 0 0 0 0-.1z" fill="#e83511"/>
<path d="M229.0 237.0 229.4 236.7 229.8 236.4 230.3 235.9 230.9 235.4 231.6 234.9 232.3 234.3 233.1 233.7 234.0 233.0 235.0 232.3 236.0 231.6 237.1 230.8 238.3 230.0 239.5 229.1 240.9 228.2 242.3 227.1 243.8 226.0 245.4 224.7 247.2 223.3 249.0 221.8 250.9 220.2 252.9 218.6 254.9 217.0 256.8 215.4 258.7 214.0 260.5 212.7 262.4 211.3 264.2 210.1 266.0 208.8 267.8 207.6 269.7 206.4 271.6 205.2 273.5 204.0 275.5 202.8 277.4 201.6 279.4 200.4 281.4 199.2 283.5 198.0 285.6 196.8 287.8 195.6 290.0 194.5 292.3 193.4 294.8 192.2 297.2 191.0 299.8 189.9 302.3 188.8 304.9 187.8 307.5 186.8 310.0 186.0 312.5 185.3 315.0 184.7 317.5 184.2 320.0 183.8 322.5 183.4 325.0 183.1 327.5 182.8 330.0 182.5 332.5 182.2 335.1 182.0 337.7 181.8 340.3 181.6 342.9 181.5 345.4 181.4 347.7 181.3 350.0 181.3 352.1 181.3 354.2 181.2 356.1 181.2 358.0 181.2 359.8 181.3 361.5 181.4 363.3 181.6 365.0 181.9 366.7 182.2 368.4 182.6 370.0 183.1 371.6 183.6 373.1 184.2 374.6 184.8 376.1 185.5 377.5 186.3 378.9 187.2 380.3 188.1 381.7 189.1 383.0 190.1 384.2 191.3 385.4 192.5 386.5 193.7 387.5 195.0 388.4 196.4 389.2 197.9 389.9 199.4 390.6 201.0 391.2 202.6 391.7 204.3 392.1 205.9 392.5 207.5 392.8 209.1 393.0 210.7 393.1 212.3 393.2 213.9 393.2 215.5 393.2 217.1 393.1 218.6 393.1 220.0 393.1 221.3 393.1 222.4 393.0 223.5 393.0 224.5 392.8 225.6 392.6 226.9 392.3 228.3 391.9 230.0 391.2 232.1 390.3 234.4 389.3 237.0 388.2 239.6 387.1 242.4 386.1 245.1 385.4 247.6 385.0 250.0 384.9 252.2 385.0 254.2 385.4 256.2 385.8 258.2 386.4 260.1 387.1 261.9 387.8 263.9 388.5 265.8 389.3 267.8 390.3 269.7 391.4 271.7 392.5 273.7 393.7 275.7 394.7 277.6 395.7 279.6 396.5 281.6 397.2 283.6 397.7 285.6 398.2 287.6 398.6 289.7 399.0 291.7 399.3 293.6 399.5 295.6 399.6 297.5 399.7 299.4 399.7 301.3 399.6 303.2 399.5 305.0 399.3 306.8 399.0 308.5 398.5 310.2 398.0 311.7 397.3 313.1 396.6 314.5 395.7 315.8 394.7 317.1 393.7 318.2 392.6 319.3 391.4 320.3 390.1 321.2 388.8 322.0 387.5 322.7 386.2 323.3 384.8 323.8 383.3 324.3 381.5 324.7 379.6 325.0 377.5 325.2 375.1 325.3 372.3 325.4 369.4 325.3 366.3 325.2 363.1 325.0 359.9 324.8 356.7 324.6 353.7 324.4 350.8 324.2 347.9 324.1 345.1 324.0 342.2 323.8 339.3 323.6 336.4 323.2 333.3 322.7 330.0 322.0 326.5 321.0 322.8 319.9 319.0 318.6 315.1 317.1 311.1 315.6 307.3 314.0 303.6 312.4 300.1 310.9 296.8 309.4 293.7 307.9 290.8 306.4 287.9 304.8 285.0 303.2 282.2 301.5 279.3 299.8 276.4 298.0 273.4 296.1 270.3 294.0 267.1 291.8 264.0 289.5 260.9 287.3 258.0 285.2 255.2 283.3 252.7 281.5 250.4 279.9 248.3 278.5 246.3 277.3 244.4 276.1 242.7 275.0 241.1 273.9 239.5 272.9 238.0 271.8 236.5 270.7 235.1 269.6 233.8 268.5 232.6 267.4 231.5 266.4 230.5 265.5 229.7 264.8 229.0 264.2" fill="none" stroke="rgba(30,50,30,0.3)" stroke-width="1.3"/>
<path d="M229.0 238.5 229.4 238.2 229.9 238.0 230.4 237.6 231.1 237.2 231.8 236.7 232.8 236.1 233.9 235.4 235.3 234.5 236.9 233.5 238.6 232.3 240.6 231.0 242.7 229.6 245.0 228.0 247.4 226.4 250.0 224.8 252.7 223.0 255.7 221.1 259.1 218.9 262.6 216.6 266.3 214.2 270.0 211.9 273.6 209.7 277.0 207.7 280.0 206.0 282.6 204.6 285.0 203.5 287.2 202.6 289.2 201.8 291.2 201.1 293.3 200.5 295.4 199.9 297.8 199.3 300.4 198.7 303.2 198.1 306.1 197.6 309.1 197.1 312.0 196.7 314.9 196.3 317.5 196.0 320.0 195.8 322.2 195.7 324.3 195.6 326.2 195.7 328.1 195.8 329.8 195.9 331.6 196.1 333.3 196.3 335.0 196.5 336.8 196.7 338.5 196.9 340.2 197.2 341.9 197.5 343.6 197.8 345.1 198.2 346.6 198.6 348.0 199.0 349.3 199.5 350.4 200.0 351.5 200.6 352.6 201.2 353.5 201.9 354.4 202.6 355.2 203.3 356.0 204.0 356.7 204.8 357.3 205.6 357.9 206.4 358.4 207.2 358.9 208.1 359.3 209.1 359.6 210.0 360.0 211.0 360.3 212.0 360.6 213.1 360.8 214.2 361.0 215.3 361.2 216.5 361.3 217.6 361.4 218.8 361.5 220.0 361.6 221.1 361.6 222.2 361.6 223.2 361.6 224.3 361.5 225.5 361.5 226.8 361.4 228.3 361.3 230.0 361.2 232.1 361.0 234.4 360.7 237.0 360.5 239.6 360.3 242.4 360.1 245.1 360.1 247.6 360.1 250.0 360.3 252.2 360.6 254.2 361.0 256.2 361.5 258.2 362.0 260.1 362.4 261.9 362.9 263.9 363.2 265.8 363.5 267.8 363.8 269.8 364.1 271.9 364.3 273.9 364.5 275.9 364.7 277.9 364.8 279.8 364.8 281.6 364.8 283.4 364.8 285.1 364.7 286.7 364.6 288.3 364.4 289.9 364.1 291.4 363.7 292.9 363.2 294.3 362.5 295.7 361.8 297.0 360.9 298.4 359.9 299.6 358.9 300.8 357.8 301.9 356.6 302.9 355.3 303.8 354.0 304.5 352.5 305.1 350.9 305.6 349.3 305.9 347.6 306.3 346.0 306.5 344.3 306.8 342.7 307.0 341.2 307.3 339.9 307.6 338.7 307.9 337.4 308.1 336.0 308.2 334.4 308.3 332.4 308.1 330.0 307.8 327.0 307.2 323.6 306.5 319.8 305.5 315.7 304.5 311.6 303.3 307.5 302.2 303.7 301.0 300.1 300.0 296.8 299.0 293.7 298.1 290.8 297.2 287.9 296.3 285.0 295.4 282.2 294.4 279.3 293.2 276.4 292.0 273.4 290.6 270.3 289.0 267.1 287.3 264.0 285.6 260.9 283.8 258.0 282.1 255.2 280.5 252.7 279.0 250.4 277.7 248.3 276.4 246.3 275.2 244.4 274.1 242.7 273.1 241.1 272.0 239.5 271.0 238.0 270.0 236.5 269.0 235.1 267.9 233.8 266.9 232.6 265.9 231.5 265.0 230.5 264.2 229.7 263.5 229.0 263.0" fill="none" stroke="rgba(30,50,30,0.3)" stroke-width="1.3"/>
<path d="M229.0 240.0 229.2 239.8 229.4 239.6 229.6 239.3 229.8 239.1 230.2 238.7 230.7 238.3 231.3 237.8 232.2 237.2 233.2 236.6 234.4 235.9 235.7 235.1 237.2 234.3 238.8 233.4 240.6 232.3 242.6 231.2 244.8 230.0 247.2 228.6 250.0 226.9 253.0 225.1 256.1 223.3 259.3 221.4 262.5 219.6 265.6 217.9 268.5 216.5 271.3 215.2 274.2 214.1 277.0 213.0 279.8 212.1 282.5 211.2 285.1 210.4 287.6 209.8 290.0 209.2 292.2 208.8 294.2 208.5 296.1 208.3 297.9 208.3 299.7 208.3 301.4 208.3 303.2 208.4 305.0 208.5 306.9 208.6 308.9 208.8 310.9 208.9 312.9 209.2 314.9 209.4 316.7 209.8 318.5 210.1 320.0 210.5 321.4 210.9 322.6 211.4 323.6 211.9 324.6 212.5 325.5 213.1 326.4 213.7 327.2 214.3 328.0 215.0 328.8 215.7 329.5 216.3 330.2 217.0 330.8 217.7 331.4 218.5 332.0 219.3 332.5 220.1 333.0 221.0 333.4 221.9 333.8 222.8 334.1 223.7 334.4 224.6 334.7 225.7 335.0 226.9 335.3 228.3 335.6 230.0 336.0 232.0 336.4 234.3 336.8 236.9 337.2 239.6 337.6 242.3 338.0 245.0 338.4 247.6 338.7 250.0 339.0 252.2 339.3 254.4 339.6 256.4 339.8 258.5 340.1 260.4 340.2 262.3 340.3 264.1 340.3 265.8 340.2 267.4 340.1 268.9 339.9 270.4 339.6 271.7 339.3 273.1 338.9 274.3 338.4 275.6 337.9 276.9 337.4 278.2 336.9 279.5 336.4 280.7 335.9 281.9 335.2 283.1 334.3 284.3 333.1 285.4 331.6 286.4 329.8 287.4 327.6 288.4 325.3 289.4 322.7 290.3 319.9 291.1 317.1 291.8 314.2 292.4 311.2 292.7 308.1 292.8 304.9 292.8 301.4 292.5 298.0 292.2 294.4 291.7 291.0 291.2 287.6 290.6 284.3 290.0 281.2 289.4 278.1 288.7 275.0 287.9 272.1 287.1 269.1 286.2 266.2 285.2 263.4 284.1 260.6 283.0 257.8 281.7 255.0 280.3 252.2 278.8 249.5 277.2 246.9 275.6 244.4 274.0 242.1 272.4 240.0 271.0 238.1 269.6 236.3 268.1 234.7 266.7 233.2 265.2 231.9 263.9 230.8 262.8 229.8 261.8 229.0 261.0" fill="none" stroke="rgba(30,50,30,0.3)" stroke-width="1.3"/>
<path d="M229.0 242.0 229.3 241.8 229.5 241.6 229.8 241.3 230.2 241.0 230.7 240.7 231.4 240.2 232.4 239.6 233.7 238.8 235.4 237.9 237.3 236.7 239.6 235.5 242.0 234.1 244.6 232.7 247.3 231.2 250.0 229.8 252.7 228.5 255.5 227.1 258.5 225.7 261.6 224.2 264.7 222.8 267.9 221.4 270.9 220.1 273.8 219.0 276.4 218.2 278.8 217.6 280.9 217.2 282.9 217.0 284.8 216.9 286.6 216.9 288.4 217.0 290.3 217.2 292.2 217.4 294.2 217.7 296.3 218.1 298.4 218.5 300.5 219.1 302.6 219.7 304.5 220.4 306.4 221.3 308.0 222.2 309.5 223.2 310.8 224.4 312.1 225.6 313.2 226.9 314.2 228.4 315.1 229.9 316.0 231.5 316.7 233.2 317.3 235.0 317.8 236.9 318.2 239.0 318.4 241.1 318.7 243.3 318.8 245.5 319.0 247.8 319.1 250.0 319.3 252.3 319.5 254.8 319.8 257.3 319.9 259.9 320.0 262.4 319.9 264.8 319.6 267.0 319.1 269.0 318.3 270.8 317.2 272.5 316.0 274.1 314.5 275.5 313.0 276.8 311.4 278.0 309.7 279.1 308.0 280.0 306.3 280.8 304.6 281.5 302.8 282.1 300.9 282.5 298.9 282.8 296.8 283.1 294.6 283.2 292.2 283.2 289.6 283.1 286.7 282.8 283.7 282.4 280.6 281.9 277.4 281.3 274.3 280.7 271.3 280.1 268.5 279.5 265.8 278.9 263.2 278.3 260.6 277.6 258.1 276.9 255.7 276.2 253.3 275.4 251.0 274.6 248.8 273.8 246.6 272.9 244.5 271.9 242.4 270.9 240.4 269.9 238.5 268.8 236.8 267.8 235.3 266.8 233.9 265.9 232.8 265.0 231.9 264.1 231.1 263.3 230.5 262.5 230.0 261.7 229.6 261.0 229.3 260.4 229.0 260.0" fill="none" stroke="rgba(30,50,30,0.3)" stroke-width="1.3"/>
<path d="M229.0 244.0 229.2 243.8 229.4 243.6 229.7 243.3 230.0 243.0 230.4 242.6 230.9 242.2 231.5 241.8 232.2 241.3 233.0 240.8 233.9 240.2 234.8 239.7 235.9 239.1 237.1 238.4 238.4 237.7 239.9 236.9 241.6 236.0 243.5 235.0 245.8 233.8 248.2 232.5 250.7 231.2 253.3 229.9 255.8 228.7 258.3 227.7 260.6 226.9 262.7 226.3 264.8 225.9 266.8 225.5 268.7 225.3 270.6 225.2 272.5 225.2 274.4 225.2 276.4 225.3 278.4 225.4 280.5 225.7 282.7 225.9 284.8 226.3 286.9 226.7 288.8 227.3 290.6 227.8 292.2 228.5 293.6 229.2 294.8 230.0 295.9 230.9 296.9 231.8 297.8 232.8 298.6 233.9 299.4 235.1 300.1 236.4 300.8 237.8 301.4 239.4 302.0 241.1 302.5 242.9 302.9 244.7 303.2 246.5 303.3 248.3 303.3 250.0 303.2 251.6 302.9 253.3 302.5 255.0 302.0 256.6 301.4 258.2 300.6 259.7 299.7 261.2 298.6 262.6 297.3 263.9 295.9 265.3 294.2 266.6 292.4 267.8 290.6 269.0 288.6 270.0 286.5 270.8 284.3 271.5 282.0 272.0 279.4 272.3 276.7 272.4 274.0 272.4 271.2 272.3 268.5 272.2 265.9 272.0 263.6 271.8 261.5 271.6 259.5 271.4 257.6 271.1 255.8 270.7 254.0 270.3 252.3 269.9 250.6 269.4 248.8 268.8 247.0 268.1 245.1 267.3 243.2 266.5 241.3 265.6 239.5 264.6 237.8 263.7 236.2 262.8 234.9 262.0 233.7 261.2 232.7 260.4 231.8 259.6 231.1 258.8 230.4 258.1 229.9 257.5 229.4 256.9 229.0 256.5" fill="none" stroke="rgba(30,50,30,0.3)" stroke-width="1.3"/>
<path d="M284.4 249.7 284.3 251.1 284.0 252.5 283.5 253.9 282.8 255.2 281.9 256.5 280.8 257.8 279.5 259.0 278.1 260.1 276.5 261.2 274.7 262.1 272.8 263.0 270.9 263.7 268.8 264.4 266.6 264.9 264.3 265.3 262.0 265.7 259.7 265.8 257.3 265.9 254.9 265.8 252.6 265.7 250.3 265.3 248.0 264.9 245.8 264.4 243.8 263.7 241.8 263.0 239.9 262.1 238.1 261.2 236.5 260.1 235.1 259.0 233.8 257.8 232.7 256.5 231.8 255.2 231.1 253.9 230.6 252.5 230.3 251.1 230.2 249.7 230.3 248.3 230.6 246.9 231.1 245.5 231.8 244.2 232.7 242.9 233.8 241.6 235.1 240.4 236.5 239.3 238.1 238.2 239.9 237.3 241.8 236.4 243.8 235.7 245.8 235.0 248.0 234.5 250.3 234.1 252.6 233.7 254.9 233.6 257.3 233.5 259.7 233.6 262.0 233.7 264.3 234.1 266.6 234.5 268.8 235.0 270.9 235.7 272.8 236.4 274.7 237.3 276.5 238.2 278.1 239.3 279.5 240.4 280.8 241.6 281.9 242.9 282.8 244.2 283.5 245.5 284.0 246.9 284.3 248.3Z" fill="none" stroke="rgba(30,50,30,0.3)" stroke-width="1.3"/>
<path d="M265.6 249.5 265.5 250.4 265.4 251.3 265.0 252.1 264.6 253.0 264.1 253.8 263.4 254.6 262.7 255.4 261.8 256.1 260.9 256.7 259.8 257.3 258.7 257.9 257.5 258.3 256.2 258.7 254.9 259.1 253.6 259.4 252.2 259.5 250.8 259.7 249.4 259.7 248.0 259.7 246.6 259.5 245.2 259.4 243.9 259.1 242.6 258.7 241.3 258.3 240.1 257.9 239.0 257.3 237.9 256.7 237.0 256.1 236.1 255.4 235.4 254.6 234.7 253.8 234.2 253.0 233.8 252.1 233.4 251.3 233.3 250.4 233.2 249.5 233.3 248.6 233.4 247.7 233.8 246.9 234.2 246.0 234.7 245.2 235.4 244.4 236.1 243.6 237.0 242.9 237.9 242.3 239.0 241.7 240.1 241.1 241.3 240.7 242.6 240.3 243.9 239.9 245.2 239.6 246.6 239.5 248.0 239.3 249.4 239.3 250.8 239.3 252.2 239.5 253.6 239.6 254.9 239.9 256.2 240.3 257.5 240.7 258.7 241.1 259.8 241.7 260.9 242.3 261.8 242.9 262.7 243.6 263.4 244.4 264.1 245.2 264.6 246.0 265.0 246.9 265.4 247.7 265.5 248.6Z" fill="none" stroke="rgba(30,50,30,0.3)" stroke-width="1.3"/>
<circle cx="243.2" cy="248.7" r="1.05" fill="#302020" opacity="0.85"/>
</g>
<path d="M229.0 236.6H230.0 M230.0 234.5H232.0 M232.0 232.4H234.1 M234.1 230.3H236.3 M236.3 228.2H238.7 M238.7 226.1H241.2 M241.2 224.0H243.6 M243.6 221.9H246.1 M246.1 219.8H248.4 M248.4 217.7H250.7 M250.7 215.6H253.0 M253.0 213.5H255.5 M255.5 211.4H258.1 M258.3 209.3H260.9 M261.2 207.2H263.8 M264.3 205.1H266.9 M267.2 203.0H269.8 M270.0 200.9H272.6 M272.8 198.8H275.4 M275.9 196.7H278.5 M279.0 194.6H281.6 M282.2 192.5H284.8 M285.4 190.4H288.0 M288.7 188.3H291.3 M292.2 186.2H294.8 M296.0 184.1H298.6 M300.2 182.0H302.8 M304.3 179.9H306.9 M307.9 177.8H310.5 M311.8 175.7H314.4 M229.0 264.9H230.1 M230.1 267.0H232.4 M232.4 269.1H234.7 M234.7 271.2H237.0 M237.0 273.3H239.5 M239.5 275.4H242.1 M242.1 277.5H244.7 M245.0 279.6H247.6 M247.8 281.7H250.4 M250.5 283.8H253.0 M253.0 285.9H255.6 M255.6 288.0H258.2 M258.2 290.1H260.8 M261.1 292.2H263.7 M264.1 294.3H266.7 M267.2 296.4H269.8 M269.9 298.5H272.3 M272.3 300.6H274.8 M274.8 302.7H277.4 M277.7 304.8H280.3 M280.9 306.9H283.5 M284.2 309.0H286.8 M287.5 311.1H290.1 M291.0 313.2H293.6 M294.4 315.3H297.0 M297.8 317.4H300.4 M301.3 319.5H303.9 M305.2 321.6H307.8 M309.7 323.7H312.3 M314.7 325.8H317.3 M320.1 327.9H322.7 M325.9 330.0H328.5 M331.9 332.1H334.5 M338.7 334.2H341.3 M345.8 336.3H348.4 M352.0 338.4H354.6 M356.6 340.5H359.2 M361.5 342.6H364.1 M362.5 162.4H407.8 M408.2 164.6H422.5 M423 166.8H430.6 M436.5 199L429.4 221 422.2 239.5 419.3 247" stroke="rgba(16,24,180,0.6)" stroke-width="1.2" fill="none"/>
</g>
<g stroke-width="1" fill="none">
<path d="M228.5 220.9H553.5" stroke="rgba(0,0,0,0.33)"/>
<path d="M228.5 240.6H553.5" stroke="rgba(0,0,0,0.28)" stroke-dasharray="3.8 2.7"/>
<path d="M228.5 250.3H553.5" stroke="rgba(0,0,0,0.18)"/>
<path d="M228.5 259.8H553.5" stroke="rgba(0,0,0,0.33)"/>
</g>
<rect x="228.5" y="22.5" width="325.0" height="455.0" fill="none" stroke="#bfbfbf" stroke-width="1"/>
<path d="M225 471.5H228.5 M225 458.5H228.5 M222 445.5H228.5 M225 432.5H228.5 M225 419.5H228.5 M225 406.5H228.5 M225 393.5H228.5 M222 380.5H228.5 M225 367.5H228.5 M225 354.5H228.5 M225 341.5H228.5 M225 328.5H228.5 M222 315.5H228.5 M225 302.5H228.5 M225 289.5H228.5 M225 276.5H228.5 M225 263.5H228.5 M222 250.5H228.5 M225 237.5H228.5 M225 224.5H228.5 M225 211.5H228.5 M225 198.5H228.5 M222 185.5H228.5 M225 172.5H228.5 M225 159.5H228.5 M225 146.5H228.5 M225 133.5H228.5 M222 120.5H228.5 M225 107.5H228.5 M225 94.5H228.5 M225 81.5H228.5 M225 68.5H228.5 M222 55.5H228.5 M225 42.5H228.5 M225 29.5H228.5 M228.5 477.5V484 M235.5 477.5V480.5 M241.5 477.5V480.5 M248.5 477.5V480.5 M254.5 477.5V480.5 M261.5 477.5V480.5 M267.5 477.5V480.5 M274.5 477.5V480.5 M280.5 477.5V480.5 M287.5 477.5V480.5 M293.5 477.5V484 M300.5 477.5V480.5 M306.5 477.5V480.5 M313.5 477.5V480.5 M319.5 477.5V480.5 M326.5 477.5V480.5 M332.5 477.5V480.5 M339.5 477.5V480.5 M345.5 477.5V480.5 M352.5 477.5V480.5 M358.5 477.5V484 M365.5 477.5V480.5 M371.5 477.5V480.5 M378.5 477.5V480.5 M384.5 477.5V480.5 M391.5 477.5V480.5 M397.5 477.5V480.5 M404.5 477.5V480.5 M410.5 477.5V480.5 M417.5 477.5V480.5 M423.5 477.5V484 M430.5 477.5V480.5 M436.5 477.5V480.5 M443.5 477.5V480.5 M449.5 477.5V480.5 M456.5 477.5V480.5 M462.5 477.5V480.5 M469.5 477.5V480.5 M475.5 477.5V480.5 M482.5 477.5V480.5 M488.5 477.5V484 M495.5 477.5V480.5 M501.5 477.5V480.5 M508.5 477.5V480.5 M514.5 477.5V480.5 M521.5 477.5V480.5 M527.5 477.5V480.5 M534.5 477.5V480.5 M540.5 477.5V480.5 M547.5 477.5V480.5 M553.5 477.5V484" stroke="#bfbfbf" stroke-width="1" fill="none"/>
<g font-family="'Liberation Sans', sans-serif" font-size="14" fill="#000" stroke="#000" stroke-width="0.25"><text x="219.2" y="450.8" text-anchor="end">-30</text><text x="219.2" y="385.8" text-anchor="end">-20</text><text x="219.2" y="320.8" text-anchor="end">-10</text><text x="219.2" y="255.8" text-anchor="end">0</text><text x="219.2" y="190.8" text-anchor="end">10</text><text x="219.2" y="125.8" text-anchor="end">20</text><text x="219.2" y="60.8" text-anchor="end">30</text><text x="228.5" y="499" text-anchor="middle">0</text><text x="293.5" y="499" text-anchor="middle">10</text><text x="358.5" y="499" text-anchor="middle">20</text><text x="423.5" y="499" text-anchor="middle">30</text><text x="488.5" y="499" text-anchor="middle">40</text><text x="553.5" y="499" text-anchor="middle">50</text><text x="203.5" y="17" letter-spacing="0.6">Meter</text><text x="558.5" y="477.5" letter-spacing="0.6">Meter</text></g>
</svg>
</body></html>
